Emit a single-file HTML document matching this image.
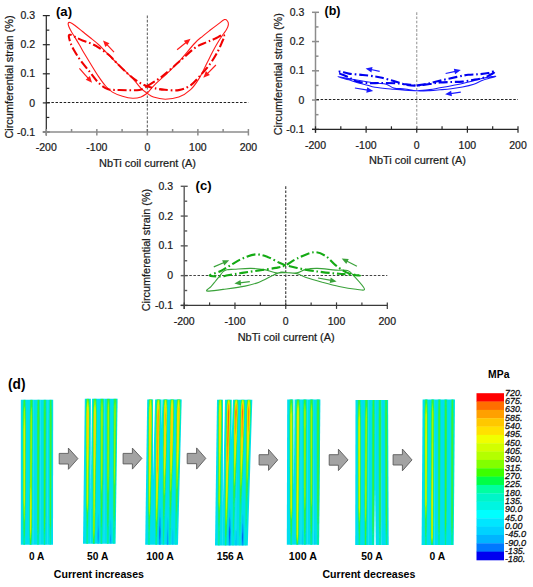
<!DOCTYPE html>
<html><head><meta charset="utf-8"><style>
html,body{margin:0;padding:0;background:#fff;width:533px;height:587px;overflow:hidden}
svg{display:block;font-family:"Liberation Sans", sans-serif}
</style></head><body>
<svg width="533" height="587" viewBox="0 0 533 587">
<defs><filter id="bl" x="-20%" y="-5%" width="140%" height="110%"><feGaussianBlur stdDeviation="0.55"/></filter></defs>
<g filter="url(#bl)">
<polygon fill="#00def0" points="20.8,399.8 53.2,399.8 53,544.8 20.8,544.8"/>
<clipPath id="cp0"><polygon points="20.8,399.8 53.2,399.8 53,544.8 20.8,544.8"/></clipPath>
<g clip-path="url(#cp0)">
<line x1="33.4" y1="399.8" x2="33.2" y2="544.8" stroke="#a0f8ff" stroke-width="0.7" stroke-opacity="0.3"/>
<line x1="40.6" y1="399.8" x2="40.2" y2="544.8" stroke="#a0f8ff" stroke-width="0.7" stroke-opacity="0.3"/>
<line x1="47.8" y1="399.8" x2="47.4" y2="544.8" stroke="#a0f8ff" stroke-width="0.7" stroke-opacity="0.3"/>
<polygon fill="#00ebcd" points="22.7,399.8 22.6,402.8 22.6,405.8 22.5,408.8 22.4,411.8 22.4,414.8 22.4,417.8 22.4,420.8 22.4,423.8 22.4,426.8 22.4,429.8 22.4,432.8 22.4,435.8 22.4,438.8 22.4,441.8 22.4,444.8 22.4,447.8 22.4,450.8 22.4,453.8 22.4,456.8 22.5,459.8 22.5,462.8 22.5,465.8 22.5,468.8 22.5,471.8 22.5,474.8 22.5,477.8 22.5,480.8 22.5,483.8 22.5,486.8 22.5,489.8 22.6,492.8 22.6,495.8 22.6,498.8 22.6,501.8 22.6,504.8 22.7,507.8 22.7,510.8 22.7,513.8 22.8,516.8 22.8,519.8 22.8,522.8 22.9,525.8 22.9,528.8 23,531.8 23,534.8 23,537.8 23.1,540.8 23.2,543.8 23.2,544.8 25.2,544.8 25.3,543.8 25.3,540.8 25.4,537.8 25.4,534.8 25.5,531.8 25.5,528.8 25.6,525.8 25.6,522.8 25.7,519.8 25.7,516.8 25.7,513.8 25.8,510.8 25.8,507.8 25.9,504.8 25.9,501.8 26,498.8 26,495.8 26,492.8 26,489.8 26,486.8 26,483.8 26.1,480.8 26.1,477.8 26.1,474.8 26.1,471.8 26.1,468.8 26.1,465.8 26.2,462.8 26.2,459.8 26.2,456.8 26.2,453.8 26.2,450.8 26.3,447.8 26.3,444.8 26.3,441.8 26.3,438.8 26.3,435.8 26.3,432.8 26.4,429.8 26.4,426.8 26.4,423.8 26.4,420.8 26.3,417.8 26.3,414.8 26.3,411.8 26.3,408.8 26.2,405.8 26.2,402.8 26.1,399.8"/>
<polygon fill="#0af08c" points="23.3,399.8 23.2,402.8 23.1,405.8 23,408.8 22.9,411.8 22.9,414.8 22.8,417.8 22.8,420.8 22.8,423.8 22.8,426.8 22.8,429.8 22.8,432.8 22.8,435.8 22.8,438.8 22.8,441.8 22.8,444.8 22.8,447.8 22.8,450.8 22.8,453.8 22.8,456.8 22.8,459.8 22.8,462.8 22.8,465.8 22.9,468.8 22.9,471.8 22.9,474.8 22.9,477.8 22.9,480.8 22.9,483.8 22.9,486.8 22.9,489.8 22.9,492.8 22.9,495.8 22.9,498.8 22.9,501.8 23,504.8 23,507.8 23.1,510.8 23.1,513.8 23.1,516.8 23.2,519.8 23.2,522.8 23.3,525.8 23.3,528.8 23.4,531.8 23.4,534.8 23.5,537.8 23.6,540.8 23.7,543.8 23.7,544.8 24.7,544.8 24.7,543.8 24.8,540.8 24.9,537.8 25,534.8 25.1,531.8 25.1,528.8 25.2,525.8 25.2,522.8 25.3,519.8 25.3,516.8 25.4,513.8 25.4,510.8 25.5,507.8 25.5,504.8 25.6,501.8 25.6,498.8 25.6,495.8 25.6,492.8 25.7,489.8 25.7,486.8 25.7,483.8 25.7,480.8 25.7,477.8 25.7,474.8 25.7,471.8 25.8,468.8 25.8,465.8 25.8,462.8 25.8,459.8 25.8,456.8 25.8,453.8 25.9,450.8 25.9,447.8 25.9,444.8 25.9,441.8 25.9,438.8 25.9,435.8 25.9,432.8 26,429.8 25.9,426.8 25.9,423.8 25.9,420.8 25.9,417.8 25.9,414.8 25.9,411.8 25.8,408.8 25.7,405.8 25.6,402.8 25.5,399.8"/>
<polygon fill="#3cf032" points="24,399.8 23.7,402.8 23.5,405.8 23.4,408.8 23.3,411.8 23.2,414.8 23.2,417.8 23.2,420.8 23.1,423.8 23.1,426.8 23.1,429.8 23.1,432.8 23.1,435.8 23.1,438.8 23.1,441.8 23.1,444.8 23.1,447.8 23.1,450.8 23.1,453.8 23.1,456.8 23.1,459.8 23.1,462.8 23.1,465.8 23.1,468.8 23.1,471.8 23.2,474.8 23.2,477.8 23.2,480.8 23.2,483.8 23.2,486.8 23.2,489.8 23.2,492.8 23.2,495.8 23.2,498.8 23.2,501.8 23.3,504.8 23.3,507.8 23.4,510.8 23.4,513.8 23.5,516.8 23.5,519.8 23.6,522.8 23.6,525.8 23.7,528.8 23.8,531.8 23.9,534.8 24.2,537.8 24.2,537.8 24.5,534.8 24.6,531.8 24.7,528.8 24.8,525.8 24.9,522.8 25,519.8 25,516.8 25.1,513.8 25.1,510.8 25.2,507.8 25.2,504.8 25.3,501.8 25.3,498.8 25.3,495.8 25.4,492.8 25.4,489.8 25.4,486.8 25.4,483.8 25.4,480.8 25.4,477.8 25.4,474.8 25.5,471.8 25.5,468.8 25.5,465.8 25.5,462.8 25.5,459.8 25.5,456.8 25.5,453.8 25.5,450.8 25.6,447.8 25.6,444.8 25.6,441.8 25.6,438.8 25.6,435.8 25.6,432.8 25.6,429.8 25.6,426.8 25.6,423.8 25.6,420.8 25.6,417.8 25.5,414.8 25.5,411.8 25.4,408.8 25.2,405.8 25.1,402.8 24.8,399.8"/>
<polygon fill="#a5f500" points="24.4,405.8 24,408.8 23.8,411.8 23.7,414.8 23.6,417.8 23.6,420.8 23.5,423.8 23.5,426.8 23.4,429.8 23.4,432.8 23.4,435.8 23.4,438.8 23.4,441.8 23.4,444.8 23.4,447.8 23.4,450.8 23.4,453.8 23.4,456.8 23.4,459.8 23.5,462.8 23.5,465.8 23.5,468.8 23.5,471.8 23.5,474.8 23.5,477.8 23.5,480.8 23.5,483.8 23.5,486.8 23.5,489.8 23.5,492.8 23.5,495.8 23.5,498.8 23.5,501.8 23.6,504.8 23.6,507.8 23.7,510.8 23.8,513.8 23.9,516.8 24.1,519.8 24.2,522.8 24.2,522.8 24.4,519.8 24.6,516.8 24.7,513.8 24.8,510.8 24.9,507.8 24.9,504.8 25,501.8 25,498.8 25,495.8 25.1,492.8 25.1,489.8 25.1,486.8 25.1,483.8 25.1,480.8 25.1,477.8 25.1,474.8 25.1,471.8 25.2,468.8 25.2,465.8 25.2,462.8 25.2,459.8 25.2,456.8 25.2,453.8 25.2,450.8 25.2,447.8 25.2,444.8 25.3,441.8 25.3,438.8 25.3,435.8 25.3,432.8 25.3,429.8 25.3,426.8 25.2,423.8 25.2,420.8 25.1,417.8 25.1,414.8 25,411.8 24.8,408.8 24.4,405.8"/>
<polygon fill="#e6f000" points="24.4,417.8 24.1,420.8 24,423.8 23.9,426.8 23.8,429.8 23.8,432.8 23.8,435.8 23.8,438.8 23.8,441.8 23.8,444.8 23.8,447.8 23.8,450.8 23.8,453.8 23.8,456.8 23.8,459.8 23.8,462.8 23.8,465.8 23.8,468.8 23.8,471.8 23.8,474.8 23.8,477.8 23.8,480.8 23.8,483.8 23.8,486.8 23.8,489.8 23.8,492.8 23.8,495.8 23.8,498.8 23.9,501.8 24,504.8 24.3,507.8 24.3,507.8 24.5,504.8 24.6,501.8 24.7,498.8 24.7,495.8 24.7,492.8 24.7,489.8 24.7,486.8 24.7,483.8 24.7,480.8 24.8,477.8 24.8,474.8 24.8,471.8 24.8,468.8 24.8,465.8 24.8,462.8 24.8,459.8 24.8,456.8 24.8,453.8 24.8,450.8 24.9,447.8 24.9,444.8 24.9,441.8 24.9,438.8 24.9,435.8 24.9,432.8 24.9,429.8 24.8,426.8 24.7,423.8 24.6,420.8 24.4,417.8"/>
<polygon fill="#00ebcd" points="29.6,399.8 29.6,402.8 29.5,405.8 29.5,408.8 29.5,411.8 29.4,414.8 29.4,417.8 29.4,420.8 29.4,423.8 29.4,426.8 29.4,429.8 29.4,432.8 29.3,435.8 29.3,438.8 29.3,441.8 29.3,444.8 29.3,447.8 29.3,450.8 29.3,453.8 29.3,456.8 29.3,459.8 29.3,462.8 29.3,465.8 29.3,468.8 29.3,471.8 29.3,474.8 29.3,477.8 29.3,480.8 29.3,483.8 29.2,486.8 29.2,489.8 29.2,492.8 29.2,495.8 29.2,498.8 29.2,501.8 29.1,504.8 29.1,507.8 29.1,510.8 29.1,513.8 29.1,516.8 29.1,519.8 29.1,522.8 29.1,525.8 29.1,528.8 29.2,531.8 29.2,534.8 29.3,537.8 29.3,540.8 29.4,543.8 29.4,544.8 31.8,544.8 31.8,543.8 31.9,540.8 32,537.8 32.1,534.8 32.2,531.8 32.2,528.8 32.3,525.8 32.3,522.8 32.3,519.8 32.4,516.8 32.4,513.8 32.4,510.8 32.5,507.8 32.5,504.8 32.5,501.8 32.5,498.8 32.6,495.8 32.6,492.8 32.6,489.8 32.6,486.8 32.6,483.8 32.6,480.8 32.7,477.8 32.7,474.8 32.7,471.8 32.7,468.8 32.8,465.8 32.8,462.8 32.8,459.8 32.9,456.8 32.9,453.8 32.9,450.8 32.9,447.8 33,444.8 33,441.8 33,438.8 33.1,435.8 33.1,432.8 33.1,429.8 33.1,426.8 33.2,423.8 33.2,420.8 33.2,417.8 33.2,414.8 33.2,411.8 33.2,408.8 33.2,405.8 33.2,402.8 33.2,399.8"/>
<polygon fill="#0af08c" points="30.1,399.8 30.1,402.8 30,405.8 30,408.8 29.9,411.8 29.9,414.8 29.9,417.8 29.8,420.8 29.8,423.8 29.8,426.8 29.8,429.8 29.8,432.8 29.8,435.8 29.8,438.8 29.8,441.8 29.8,444.8 29.7,447.8 29.7,450.8 29.7,453.8 29.7,456.8 29.7,459.8 29.7,462.8 29.7,465.8 29.7,468.8 29.7,471.8 29.7,474.8 29.7,477.8 29.7,480.8 29.6,483.8 29.6,486.8 29.6,489.8 29.6,492.8 29.5,495.8 29.5,498.8 29.5,501.8 29.5,504.8 29.5,507.8 29.5,510.8 29.5,513.8 29.5,516.8 29.5,519.8 29.5,522.8 29.5,525.8 29.5,528.8 29.5,531.8 29.5,534.8 29.6,537.8 29.7,540.8 29.8,543.8 29.8,544.8 31.4,544.8 31.4,543.8 31.6,540.8 31.7,537.8 31.8,534.8 31.8,531.8 31.9,528.8 31.9,525.8 32,522.8 32,519.8 32,516.8 32.1,513.8 32.1,510.8 32.1,507.8 32.2,504.8 32.2,501.8 32.2,498.8 32.2,495.8 32.2,492.8 32.2,489.8 32.2,486.8 32.2,483.8 32.3,480.8 32.3,477.8 32.3,474.8 32.3,471.8 32.3,468.8 32.4,465.8 32.4,462.8 32.4,459.8 32.4,456.8 32.5,453.8 32.5,450.8 32.5,447.8 32.5,444.8 32.6,441.8 32.6,438.8 32.6,435.8 32.6,432.8 32.7,429.8 32.7,426.8 32.7,423.8 32.7,420.8 32.7,417.8 32.7,414.8 32.7,411.8 32.7,408.8 32.7,405.8 32.7,402.8 32.7,399.8"/>
<polygon fill="#3cf032" points="30.6,399.8 30.6,402.8 30.5,405.8 30.4,408.8 30.4,411.8 30.3,414.8 30.2,417.8 30.2,420.8 30.2,423.8 30.2,426.8 30.2,429.8 30.2,432.8 30.1,435.8 30.1,438.8 30.1,441.8 30.1,444.8 30.1,447.8 30.1,450.8 30.1,453.8 30.1,456.8 30.1,459.8 30,462.8 30,465.8 30,468.8 30,471.8 30,474.8 30,477.8 30,480.8 29.9,483.8 29.9,486.8 29.9,489.8 29.9,492.8 29.8,495.8 29.8,498.8 29.8,501.8 29.8,504.8 29.7,507.8 29.7,510.8 29.7,513.8 29.7,516.8 29.7,519.8 29.7,522.8 29.7,525.8 29.7,528.8 29.8,531.8 29.8,534.8 29.9,537.8 30,540.8 30.2,543.8 30.3,544.8 30.9,544.8 31,543.8 31.2,540.8 31.4,537.8 31.5,534.8 31.6,531.8 31.7,528.8 31.7,525.8 31.7,522.8 31.7,519.8 31.8,516.8 31.8,513.8 31.8,510.8 31.9,507.8 31.9,504.8 31.9,501.8 31.9,498.8 31.9,495.8 31.9,492.8 31.9,489.8 31.9,486.8 31.9,483.8 31.9,480.8 31.9,477.8 32,474.8 32,471.8 32,468.8 32,465.8 32.1,462.8 32.1,459.8 32.1,456.8 32.1,453.8 32.2,450.8 32.2,447.8 32.2,444.8 32.2,441.8 32.2,438.8 32.3,435.8 32.3,432.8 32.3,429.8 32.3,426.8 32.3,423.8 32.4,420.8 32.4,417.8 32.3,414.8 32.3,411.8 32.3,408.8 32.2,405.8 32.2,402.8 32.2,399.8"/>
<polygon fill="#a5f500" points="31.4,405.8 31.1,408.8 30.9,411.8 30.8,414.8 30.7,417.8 30.7,420.8 30.6,423.8 30.6,426.8 30.6,429.8 30.6,432.8 30.6,435.8 30.6,438.8 30.5,441.8 30.5,444.8 30.5,447.8 30.5,450.8 30.5,453.8 30.5,456.8 30.5,459.8 30.4,462.8 30.4,465.8 30.4,468.8 30.4,471.8 30.4,474.8 30.4,477.8 30.3,480.8 30.3,483.8 30.3,486.8 30.2,489.8 30.2,492.8 30.1,495.8 30.1,498.8 30.1,501.8 30,504.8 30,507.8 30,510.8 30,513.8 30,516.8 30,519.8 30,522.8 30,525.8 30,528.8 30.1,531.8 30.2,534.8 30.4,537.8 30.6,540.8 30.6,540.8 30.9,537.8 31.1,534.8 31.3,531.8 31.4,528.8 31.4,525.8 31.4,522.8 31.5,519.8 31.5,516.8 31.5,513.8 31.5,510.8 31.6,507.8 31.6,504.8 31.6,501.8 31.6,498.8 31.6,495.8 31.6,492.8 31.6,489.8 31.6,486.8 31.6,483.8 31.6,480.8 31.6,477.8 31.6,474.8 31.6,471.8 31.6,468.8 31.6,465.8 31.7,462.8 31.7,459.8 31.7,456.8 31.7,453.8 31.7,450.8 31.8,447.8 31.8,444.8 31.8,441.8 31.8,438.8 31.8,435.8 31.8,432.8 31.9,429.8 31.9,426.8 31.9,423.8 31.9,420.8 31.9,417.8 31.8,414.8 31.7,411.8 31.6,408.8 31.4,405.8"/>
<polygon fill="#e6f000" points="30.9,486.8 30.7,489.8 30.6,492.8 30.5,495.8 30.5,498.8 30.4,501.8 30.4,504.8 30.4,507.8 30.4,510.8 30.4,513.8 30.3,516.8 30.3,519.8 30.3,522.8 30.3,525.8 30.3,528.8 30.5,531.8 30.7,534.8 30.7,534.8 30.9,531.8 31,528.8 31.1,525.8 31.1,522.8 31.1,519.8 31.2,516.8 31.2,513.8 31.2,510.8 31.3,507.8 31.3,504.8 31.3,501.8 31.2,498.8 31.2,495.8 31.2,492.8 31.1,489.8 30.9,486.8"/>
<polygon fill="#00ebcd" points="36.7,399.8 36.7,402.8 36.7,405.8 36.6,408.8 36.6,411.8 36.6,414.8 36.6,417.8 36.6,420.8 36.6,423.8 36.6,426.8 36.6,429.8 36.6,432.8 36.6,435.8 36.6,438.8 36.6,441.8 36.6,444.8 36.6,447.8 36.6,450.8 36.6,453.8 36.6,456.8 36.6,459.8 36.6,462.8 36.6,465.8 36.6,468.8 36.6,471.8 36.6,474.8 36.6,477.8 36.6,480.8 36.6,483.8 36.6,486.8 36.7,489.8 36.7,492.8 36.7,495.8 36.7,498.8 36.7,501.8 36.7,504.8 36.7,507.8 36.7,510.8 36.7,513.8 36.7,516.8 36.7,519.8 36.7,522.8 36.7,525.8 36.8,528.8 36.8,531.8 36.9,534.8 36.9,537.8 36.9,540.8 37,543.8 37,544.8 39,544.8 39,543.8 39.1,540.8 39.1,537.8 39.2,534.8 39.3,531.8 39.3,528.8 39.4,525.8 39.4,522.8 39.4,519.8 39.5,516.8 39.5,513.8 39.5,510.8 39.5,507.8 39.6,504.8 39.6,501.8 39.6,498.8 39.6,495.8 39.6,492.8 39.7,489.8 39.7,486.8 39.7,483.8 39.7,480.8 39.7,477.8 39.8,474.8 39.8,471.8 39.8,468.8 39.8,465.8 39.8,462.8 39.9,459.8 39.9,456.8 39.9,453.8 39.9,450.8 39.9,447.8 40,444.8 40,441.8 40,438.8 40,435.8 40,432.8 40.1,429.8 40.1,426.8 40.1,423.8 40.1,420.8 40.1,417.8 40.1,414.8 40.1,411.8 40.1,408.8 40.1,405.8 40.1,402.8 40.1,399.8"/>
<polygon fill="#0af08c" points="37.3,399.8 37.3,402.8 37.2,405.8 37.2,408.8 37.1,411.8 37.1,414.8 37.1,417.8 37.1,420.8 37.1,423.8 37.1,426.8 37.1,429.8 37.1,432.8 37.1,435.8 37.1,438.8 37.1,441.8 37.1,444.8 37.1,447.8 37.1,450.8 37.1,453.8 37.1,456.8 37.1,459.8 37.1,462.8 37.1,465.8 37.1,468.8 37.1,471.8 37.1,474.8 37.1,477.8 37.1,480.8 37.1,483.8 37.1,486.8 37.1,489.8 37.1,492.8 37.1,495.8 37.1,498.8 37.1,501.8 37.1,504.8 37.1,507.8 37.1,510.8 37.1,513.8 37.1,516.8 37.1,519.8 37.1,522.8 37.2,525.8 37.2,528.8 37.3,531.8 37.3,534.8 37.4,537.8 37.5,540.8 37.5,543.8 37.6,544.8 38.4,544.8 38.5,543.8 38.6,540.8 38.7,537.8 38.7,534.8 38.8,531.8 38.9,528.8 38.9,525.8 39,522.8 39.1,519.8 39.1,516.8 39.1,513.8 39.1,510.8 39.1,507.8 39.1,504.8 39.2,501.8 39.2,498.8 39.2,495.8 39.2,492.8 39.2,489.8 39.2,486.8 39.3,483.8 39.3,480.8 39.3,477.8 39.3,474.8 39.3,471.8 39.3,468.8 39.4,465.8 39.4,462.8 39.4,459.8 39.4,456.8 39.4,453.8 39.5,450.8 39.5,447.8 39.5,444.8 39.5,441.8 39.5,438.8 39.5,435.8 39.6,432.8 39.6,429.8 39.6,426.8 39.6,423.8 39.6,420.8 39.6,417.8 39.6,414.8 39.6,411.8 39.6,408.8 39.5,405.8 39.5,402.8 39.5,399.8"/>
<polygon fill="#3cf032" points="38,399.8 37.9,402.8 37.8,405.8 37.7,408.8 37.7,411.8 37.6,414.8 37.5,417.8 37.5,420.8 37.5,423.8 37.5,426.8 37.5,429.8 37.5,432.8 37.5,435.8 37.5,438.8 37.5,441.8 37.5,444.8 37.5,447.8 37.5,450.8 37.5,453.8 37.5,456.8 37.5,459.8 37.5,462.8 37.5,465.8 37.5,468.8 37.5,471.8 37.5,474.8 37.5,477.8 37.5,480.8 37.5,483.8 37.5,486.8 37.5,489.8 37.5,492.8 37.5,495.8 37.5,498.8 37.5,501.8 37.5,504.8 37.5,507.8 37.5,510.8 37.5,513.8 37.5,516.8 37.5,519.8 37.5,522.8 37.6,525.8 37.7,528.8 37.8,531.8 38,534.8 38,534.8 38.3,531.8 38.4,528.8 38.5,525.8 38.6,522.8 38.7,519.8 38.7,516.8 38.7,513.8 38.7,510.8 38.7,507.8 38.8,504.8 38.8,501.8 38.8,498.8 38.8,495.8 38.8,492.8 38.8,489.8 38.8,486.8 38.9,483.8 38.9,480.8 38.9,477.8 38.9,474.8 38.9,471.8 38.9,468.8 39,465.8 39,462.8 39,459.8 39,456.8 39,453.8 39,450.8 39,447.8 39.1,444.8 39.1,441.8 39.1,438.8 39.1,435.8 39.1,432.8 39.1,429.8 39.1,426.8 39.2,423.8 39.2,420.8 39.2,417.8 39.1,414.8 39.1,411.8 39,408.8 38.9,405.8 38.9,402.8 38.8,399.8"/>
<polygon fill="#00ebcd" points="43.2,399.8 43.2,402.8 43.2,405.8 43.1,408.8 43.1,411.8 43.1,414.8 43.1,417.8 43.1,420.8 43.1,423.8 43.1,426.8 43.1,429.8 43.1,432.8 43.1,435.8 43.1,438.8 43.1,441.8 43.1,444.8 43.1,447.8 43.1,450.8 43.1,453.8 43.1,456.8 43.1,459.8 43.1,462.8 43.1,465.8 43.1,468.8 43.1,471.8 43.1,474.8 43.1,477.8 43.2,480.8 43.2,483.8 43.2,486.8 43.2,489.8 43.2,492.8 43.2,495.8 43.2,498.8 43.2,501.8 43.2,504.8 43.2,507.8 43.2,510.8 43.2,513.8 43.2,516.8 43.2,519.8 43.2,522.8 43.3,525.8 43.3,528.8 43.3,531.8 43.4,534.8 43.4,537.8 43.4,540.8 43.5,543.8 43.5,544.8 45.5,544.8 45.5,543.8 45.6,540.8 45.6,537.8 45.7,534.8 45.7,531.8 45.8,528.8 45.8,525.8 45.9,522.8 45.9,519.8 45.9,516.8 46,513.8 46,510.8 46,507.8 46,504.8 46.1,501.8 46.1,498.8 46.1,495.8 46.1,492.8 46.1,489.8 46.2,486.8 46.2,483.8 46.2,480.8 46.2,477.8 46.2,474.8 46.3,471.8 46.3,468.8 46.3,465.8 46.3,462.8 46.3,459.8 46.4,456.8 46.4,453.8 46.4,450.8 46.4,447.8 46.5,444.8 46.5,441.8 46.5,438.8 46.5,435.8 46.5,432.8 46.6,429.8 46.6,426.8 46.6,423.8 46.6,420.8 46.6,417.8 46.6,414.8 46.6,411.8 46.6,408.8 46.6,405.8 46.6,402.8 46.6,399.8"/>
<polygon fill="#0af08c" points="43.8,399.8 43.8,402.8 43.7,405.8 43.7,408.8 43.6,411.8 43.6,414.8 43.6,417.8 43.6,420.8 43.6,423.8 43.6,426.8 43.6,429.8 43.6,432.8 43.6,435.8 43.6,438.8 43.6,441.8 43.6,444.8 43.6,447.8 43.6,450.8 43.6,453.8 43.6,456.8 43.6,459.8 43.6,462.8 43.6,465.8 43.6,468.8 43.6,471.8 43.6,474.8 43.6,477.8 43.6,480.8 43.6,483.8 43.6,486.8 43.6,489.8 43.6,492.8 43.6,495.8 43.6,498.8 43.6,501.8 43.6,504.8 43.6,507.8 43.6,510.8 43.6,513.8 43.6,516.8 43.6,519.8 43.6,522.8 43.7,525.8 43.7,528.8 43.8,531.8 43.8,534.8 43.9,537.8 44,540.8 44.1,543.8 44.1,544.8 44.9,544.8 45,543.8 45.1,540.8 45.1,537.8 45.2,534.8 45.3,531.8 45.4,528.8 45.4,525.8 45.5,522.8 45.5,519.8 45.5,516.8 45.6,513.8 45.6,510.8 45.6,507.8 45.6,504.8 45.6,501.8 45.6,498.8 45.7,495.8 45.7,492.8 45.7,489.8 45.7,486.8 45.7,483.8 45.8,480.8 45.8,477.8 45.8,474.8 45.8,471.8 45.8,468.8 45.9,465.8 45.9,462.8 45.9,459.8 45.9,456.8 45.9,453.8 45.9,450.8 46,447.8 46,444.8 46,441.8 46,438.8 46,435.8 46.1,432.8 46.1,429.8 46.1,426.8 46.1,423.8 46.1,420.8 46.1,417.8 46.1,414.8 46.1,411.8 46.1,408.8 46,405.8 46,402.8 46,399.8"/>
<polygon fill="#3cf032" points="44.5,399.8 44.4,402.8 44.3,405.8 44.2,408.8 44.2,411.8 44.1,414.8 44,417.8 44,420.8 44,423.8 44,426.8 44,429.8 44,432.8 44,435.8 44,438.8 44,441.8 44,444.8 44,447.8 44,450.8 44,453.8 44,456.8 44,459.8 44,462.8 44,465.8 44,468.8 44,471.8 44,474.8 44,477.8 44,480.8 44,483.8 44,486.8 44,489.8 44,492.8 44,495.8 44,498.8 44,501.8 44,504.8 44,507.8 44,510.8 44,513.8 44,516.8 44,519.8 44.1,522.8 44.1,525.8 44.2,528.8 44.4,531.8 44.5,534.8 44.5,534.8 44.7,531.8 44.9,528.8 45,525.8 45.1,522.8 45.1,519.8 45.2,516.8 45.2,513.8 45.2,510.8 45.2,507.8 45.2,504.8 45.2,501.8 45.2,498.8 45.3,495.8 45.3,492.8 45.3,489.8 45.3,486.8 45.3,483.8 45.3,480.8 45.4,477.8 45.4,474.8 45.4,471.8 45.4,468.8 45.4,465.8 45.4,462.8 45.5,459.8 45.5,456.8 45.5,453.8 45.5,450.8 45.5,447.8 45.5,444.8 45.6,441.8 45.6,438.8 45.6,435.8 45.6,432.8 45.6,429.8 45.6,426.8 45.7,423.8 45.7,420.8 45.7,417.8 45.6,414.8 45.6,411.8 45.5,408.8 45.4,405.8 45.4,402.8 45.3,399.8"/>
<polygon fill="#00ebcd" points="49,399.8 49,402.8 49,405.8 49,408.8 48.9,411.8 48.9,414.8 48.9,417.8 48.9,420.8 48.9,423.8 48.9,426.8 48.9,429.8 48.9,432.8 48.9,435.8 48.9,438.8 48.9,441.8 48.9,444.8 48.9,447.8 48.9,450.8 48.9,453.8 48.9,456.8 48.9,459.8 49,462.8 49,465.8 49,468.8 49,471.8 49,474.8 49,477.8 49,480.8 49,483.8 49,486.8 49,489.8 49,492.8 49,495.8 49,498.8 49,501.8 49,504.8 49,507.8 49,510.8 49,513.8 49,516.8 49,519.8 49.1,522.8 49.1,525.8 49.1,528.8 49.2,531.8 49.2,534.8 49.3,537.8 49.3,540.8 49.4,543.8 49.4,544.8 51.2,544.8 51.2,543.8 51.3,540.8 51.4,537.8 51.4,534.8 51.5,531.8 51.6,528.8 51.6,525.8 51.7,522.8 51.7,519.8 51.7,516.8 51.7,513.8 51.8,510.8 51.8,507.8 51.8,504.8 51.8,501.8 51.9,498.8 51.9,495.8 51.9,492.8 51.9,489.8 51.9,486.8 52,483.8 52,480.8 52,477.8 52,474.8 52,471.8 52.1,468.8 52.1,465.8 52.1,462.8 52.1,459.8 52.1,456.8 52.2,453.8 52.2,450.8 52.2,447.8 52.2,444.8 52.2,441.8 52.3,438.8 52.3,435.8 52.3,432.8 52.3,429.8 52.4,426.8 52.4,423.8 52.4,420.8 52.4,417.8 52.4,414.8 52.4,411.8 52.4,408.8 52.4,405.8 52.4,402.8 52.4,399.8"/>
<polygon fill="#0af08c" points="49.6,399.8 49.6,402.8 49.5,405.8 49.5,408.8 49.5,411.8 49.4,414.8 49.4,417.8 49.4,420.8 49.4,423.8 49.4,426.8 49.4,429.8 49.4,432.8 49.4,435.8 49.4,438.8 49.4,441.8 49.4,444.8 49.4,447.8 49.4,450.8 49.4,453.8 49.4,456.8 49.4,459.8 49.4,462.8 49.4,465.8 49.4,468.8 49.4,471.8 49.4,474.8 49.4,477.8 49.4,480.8 49.4,483.8 49.4,486.8 49.4,489.8 49.4,492.8 49.4,495.8 49.4,498.8 49.4,501.8 49.4,504.8 49.4,507.8 49.4,510.8 49.4,513.8 49.4,516.8 49.4,519.8 49.5,522.8 49.5,525.8 49.6,528.8 49.6,531.8 49.7,534.8 49.8,537.8 49.9,540.8 50.1,543.8 50.2,544.8 50.4,544.8 50.5,543.8 50.7,540.8 50.8,537.8 50.9,534.8 51,531.8 51.1,528.8 51.2,525.8 51.2,522.8 51.3,519.8 51.3,516.8 51.3,513.8 51.3,510.8 51.4,507.8 51.4,504.8 51.4,501.8 51.4,498.8 51.4,495.8 51.5,492.8 51.5,489.8 51.5,486.8 51.5,483.8 51.5,480.8 51.5,477.8 51.6,474.8 51.6,471.8 51.6,468.8 51.6,465.8 51.6,462.8 51.7,459.8 51.7,456.8 51.7,453.8 51.7,450.8 51.7,447.8 51.7,444.8 51.8,441.8 51.8,438.8 51.8,435.8 51.8,432.8 51.8,429.8 51.9,426.8 51.9,423.8 51.9,420.8 51.9,417.8 51.9,414.8 51.9,411.8 51.8,408.8 51.8,405.8 51.8,402.8 51.8,399.8"/>
<polygon fill="#3cf032" points="50.3,399.8 50.2,402.8 50.2,405.8 50.1,408.8 50,411.8 49.9,414.8 49.9,417.8 49.9,420.8 49.9,423.8 49.9,426.8 49.9,429.8 49.9,432.8 49.9,435.8 49.9,438.8 49.9,441.8 49.9,444.8 49.9,447.8 49.9,450.8 49.9,453.8 49.9,456.8 49.9,459.8 49.9,462.8 49.9,465.8 49.9,468.8 49.9,471.8 49.9,474.8 49.9,477.8 49.9,480.8 49.9,483.8 49.9,486.8 49.9,489.8 49.9,492.8 49.9,495.8 49.9,498.8 49.9,501.8 49.9,504.8 49.9,507.8 49.9,510.8 49.9,513.8 49.9,516.8 49.9,519.8 49.9,522.8 50,525.8 50.3,528.8 50.3,531.8 50.3,531.8 50.4,528.8 50.7,525.8 50.8,522.8 50.9,519.8 50.9,516.8 50.9,513.8 50.9,510.8 50.9,507.8 51,504.8 51,501.8 51,498.8 51,495.8 51,492.8 51,489.8 51.1,486.8 51.1,483.8 51.1,480.8 51.1,477.8 51.1,474.8 51.1,471.8 51.2,468.8 51.2,465.8 51.2,462.8 51.2,459.8 51.2,456.8 51.2,453.8 51.3,450.8 51.3,447.8 51.3,444.8 51.3,441.8 51.3,438.8 51.3,435.8 51.4,432.8 51.4,429.8 51.4,426.8 51.4,423.8 51.4,420.8 51.4,417.8 51.4,414.8 51.3,411.8 51.3,408.8 51.2,405.8 51.1,402.8 51.1,399.8"/>
</g>
</g>
<g filter="url(#bl)">
<polygon fill="#00def0" points="84.8,398.7 117.6,398.7 115.6,543.8 83,543.8"/>
<clipPath id="cp1"><polygon points="84.8,398.7 117.6,398.7 115.6,543.8 83,543.8"/></clipPath>
<g clip-path="url(#cp1)">
<line x1="104.5" y1="398.7" x2="104" y2="543.8" stroke="#a0f8ff" stroke-width="0.7" stroke-opacity="0.3"/>
<line x1="91.4" y1="398.7" x2="90.5" y2="543.8" stroke="#a0f8ff" stroke-width="0.7" stroke-opacity="0.3"/>
<polygon fill="#00c8f5" points="98.3,512.7 98,515.7 97.7,518.7 97.5,521.7 97.4,524.7 97.3,527.7 97.3,530.7 97.2,533.7 97.2,536.7 97.2,539.7 97.3,542.7 97.3,543.8 99.1,543.8 99.1,542.7 99.2,539.7 99.3,536.7 99.3,533.7 99.3,530.7 99.2,527.7 99.1,524.7 99.1,521.7 98.9,518.7 98.6,515.7 98.3,512.7"/>
<polygon fill="#0096fa" points="98.3,524.7 98.1,527.7 97.9,530.7 97.7,533.7 97.7,536.7 97.8,539.7 98.2,542.7 98.2,542.7 98.6,539.7 98.8,536.7 98.7,533.7 98.6,530.7 98.4,527.7 98.3,524.7"/>
<polygon fill="#00c8f5" points="110.7,518.7 110.4,521.7 110.1,524.7 109.9,527.7 109.8,530.7 109.7,533.7 109.7,536.7 109.6,539.7 109.7,542.7 109.7,543.8 111.5,543.8 111.5,542.7 111.6,539.7 111.6,536.7 111.6,533.7 111.5,530.7 111.4,527.7 111.3,524.7 111.1,521.7 110.7,518.7"/>
<polygon fill="#0096fa" points="110.6,533.7 110.3,536.7 110.2,539.7 110.5,542.7 110.6,543.8 110.6,543.8 110.8,542.7 111.1,539.7 110.9,536.7 110.6,533.7"/>
<polygon fill="#00ebcd" points="85.8,398.7 85.7,401.7 85.6,404.7 85.5,407.7 85.4,410.7 85.4,413.7 85.4,416.7 85.4,419.7 85.4,422.7 85.4,425.7 85.4,428.7 85.4,431.7 85.4,434.7 85.4,437.7 85.4,440.7 85.4,443.7 85.4,446.7 85.5,449.7 85.5,452.7 85.5,455.7 85.5,458.7 85.5,461.7 85.5,464.7 85.5,467.7 85.6,470.7 85.6,473.7 85.6,476.7 85.6,479.7 85.6,482.7 85.6,485.7 85.6,488.7 85.6,491.7 85.6,494.7 85.6,497.7 85.6,500.7 85.6,503.7 85.7,506.7 85.7,509.7 85.8,512.7 85.9,515.7 85.9,518.7 85.9,521.7 85.9,524.7 86,527.7 86,530.7 86,533.7 86,536.7 86.1,539.7 86.1,542.7 86.1,543.8 88.3,543.8 88.3,542.7 88.4,539.7 88.4,536.7 88.5,533.7 88.5,530.7 88.6,527.7 88.6,524.7 88.7,521.7 88.7,518.7 88.7,515.7 88.8,512.7 88.9,509.7 89,506.7 89.1,503.7 89.2,500.7 89.2,497.7 89.2,494.7 89.2,491.7 89.3,488.7 89.3,485.7 89.3,482.7 89.4,479.7 89.4,476.7 89.4,473.7 89.4,470.7 89.5,467.7 89.5,464.7 89.6,461.7 89.6,458.7 89.6,455.7 89.7,452.7 89.7,449.7 89.8,446.7 89.8,443.7 89.8,440.7 89.9,437.7 89.9,434.7 89.9,431.7 90,428.7 90,425.7 90,422.7 90.1,419.7 90.1,416.7 90.1,413.7 90.1,410.7 90.1,407.7 90,404.7 89.9,401.7 89.8,398.7"/>
<polygon fill="#0af08c" points="86.3,398.7 86.2,401.7 86,404.7 85.9,407.7 85.9,410.7 85.8,413.7 85.8,416.7 85.8,419.7 85.8,422.7 85.8,425.7 85.8,428.7 85.8,431.7 85.8,434.7 85.8,437.7 85.8,440.7 85.8,443.7 85.8,446.7 85.9,449.7 85.9,452.7 85.9,455.7 85.9,458.7 85.9,461.7 85.9,464.7 86,467.7 86,470.7 86,473.7 86,476.7 86,479.7 86,482.7 86,485.7 86,488.7 86,491.7 86,494.7 86,497.7 86,500.7 86,503.7 86.1,506.7 86.2,509.7 86.3,512.7 86.4,515.7 86.4,518.7 86.4,521.7 86.4,524.7 86.5,527.7 86.5,530.7 86.5,533.7 86.6,536.7 86.6,539.7 86.6,542.7 86.7,543.8 87.7,543.8 87.8,542.7 87.8,539.7 87.9,536.7 88,533.7 88,530.7 88.1,527.7 88.1,524.7 88.2,521.7 88.2,518.7 88.3,515.7 88.4,512.7 88.5,509.7 88.6,506.7 88.7,503.7 88.8,500.7 88.8,497.7 88.8,494.7 88.9,491.7 88.9,488.7 88.9,485.7 88.9,482.7 89,479.7 89,476.7 89,473.7 89,470.7 89.1,467.7 89.1,464.7 89.2,461.7 89.2,458.7 89.2,455.7 89.3,452.7 89.3,449.7 89.4,446.7 89.4,443.7 89.4,440.7 89.5,437.7 89.5,434.7 89.5,431.7 89.6,428.7 89.6,425.7 89.6,422.7 89.6,419.7 89.7,416.7 89.7,413.7 89.6,410.7 89.6,407.7 89.5,404.7 89.4,401.7 89.3,398.7"/>
<polygon fill="#3cf032" points="86.9,398.7 86.6,401.7 86.4,404.7 86.3,407.7 86.2,410.7 86.1,413.7 86.1,416.7 86.1,419.7 86.1,422.7 86.1,425.7 86.1,428.7 86.1,431.7 86.1,434.7 86.1,437.7 86.1,440.7 86.1,443.7 86.1,446.7 86.2,449.7 86.2,452.7 86.2,455.7 86.2,458.7 86.2,461.7 86.3,464.7 86.3,467.7 86.3,470.7 86.3,473.7 86.3,476.7 86.3,479.7 86.3,482.7 86.3,485.7 86.3,488.7 86.3,491.7 86.3,494.7 86.3,497.7 86.3,500.7 86.3,503.7 86.4,506.7 86.5,509.7 86.7,512.7 86.8,515.7 86.9,518.7 87,521.7 87.1,524.7 87.3,527.7 87.3,527.7 87.5,524.7 87.6,521.7 87.7,518.7 87.8,515.7 88,512.7 88.2,509.7 88.3,506.7 88.4,503.7 88.5,500.7 88.5,497.7 88.5,494.7 88.5,491.7 88.6,488.7 88.6,485.7 88.6,482.7 88.6,479.7 88.7,476.7 88.7,473.7 88.7,470.7 88.8,467.7 88.8,464.7 88.8,461.7 88.9,458.7 88.9,455.7 89,452.7 89,449.7 89.1,446.7 89.1,443.7 89.1,440.7 89.2,437.7 89.2,434.7 89.2,431.7 89.2,428.7 89.3,425.7 89.3,422.7 89.3,419.7 89.4,416.7 89.4,413.7 89.3,410.7 89.3,407.7 89.1,404.7 89,401.7 88.7,398.7"/>
<polygon fill="#a5f500" points="87.8,398.7 87.2,401.7 86.9,404.7 86.6,407.7 86.5,410.7 86.4,413.7 86.4,416.7 86.4,419.7 86.4,422.7 86.4,425.7 86.4,428.7 86.4,431.7 86.4,434.7 86.4,437.7 86.4,440.7 86.4,443.7 86.5,446.7 86.5,449.7 86.5,452.7 86.5,455.7 86.5,458.7 86.6,461.7 86.6,464.7 86.6,467.7 86.6,470.7 86.6,473.7 86.6,476.7 86.6,479.7 86.6,482.7 86.6,485.7 86.6,488.7 86.6,491.7 86.6,494.7 86.6,497.7 86.6,500.7 86.7,503.7 86.8,506.7 87.1,509.7 87.3,512.7 87.3,512.7 87.6,509.7 87.9,506.7 88.1,503.7 88.1,500.7 88.1,497.7 88.2,494.7 88.2,491.7 88.2,488.7 88.2,485.7 88.3,482.7 88.3,479.7 88.3,476.7 88.3,473.7 88.4,470.7 88.4,467.7 88.5,464.7 88.5,461.7 88.6,458.7 88.6,455.7 88.7,452.7 88.7,449.7 88.7,446.7 88.8,443.7 88.8,440.7 88.9,437.7 88.9,434.7 88.9,431.7 88.9,428.7 89,425.7 89,422.7 89,419.7 89,416.7 89,413.7 89,410.7 88.9,407.7 88.7,404.7 88.4,401.7 87.8,398.7"/>
<polygon fill="#e6f000" points="87.8,401.7 87.5,404.7 87.1,407.7 86.9,410.7 86.8,413.7 86.7,416.7 86.7,419.7 86.7,422.7 86.7,425.7 86.7,428.7 86.7,431.7 86.7,434.7 86.7,437.7 86.7,440.7 86.8,443.7 86.8,446.7 86.8,449.7 86.8,452.7 86.9,455.7 86.9,458.7 86.9,461.7 87,464.7 87,467.7 87.1,470.7 87.1,473.7 87.1,476.7 87.1,479.7 87.1,482.7 87.1,485.7 87.1,488.7 87.1,491.7 87.1,494.7 87.1,497.7 87.1,500.7 87.3,503.7 87.4,506.7 87.4,506.7 87.5,503.7 87.6,500.7 87.7,497.7 87.7,494.7 87.7,491.7 87.8,488.7 87.8,485.7 87.8,482.7 87.8,479.7 87.9,476.7 87.9,473.7 87.9,470.7 88,467.7 88.1,464.7 88.1,461.7 88.2,458.7 88.3,455.7 88.3,452.7 88.4,449.7 88.4,446.7 88.5,443.7 88.5,440.7 88.6,437.7 88.6,434.7 88.6,431.7 88.6,428.7 88.7,425.7 88.7,422.7 88.7,419.7 88.7,416.7 88.7,413.7 88.6,410.7 88.5,407.7 88.1,404.7 87.8,401.7"/>
<polygon fill="#ffcd00" points="87.8,407.7 87.4,410.7 87.1,413.7 87.1,416.7 87.1,419.7 87.1,422.7 87.1,425.7 87.1,428.7 87.1,431.7 87.1,434.7 87.1,437.7 87.1,440.7 87.2,443.7 87.2,446.7 87.3,449.7 87.4,452.7 87.6,455.7 87.6,455.7 87.8,452.7 87.9,449.7 88,446.7 88.1,443.7 88.1,440.7 88.2,437.7 88.2,434.7 88.2,431.7 88.3,428.7 88.3,425.7 88.3,422.7 88.4,419.7 88.4,416.7 88.3,413.7 88.1,410.7 87.8,407.7"/>
<polygon fill="#00ebcd" points="93,398.7 92.9,401.7 92.8,404.7 92.7,407.7 92.6,410.7 92.6,413.7 92.5,416.7 92.5,419.7 92.5,422.7 92.5,425.7 92.5,428.7 92.5,431.7 92.5,434.7 92.5,437.7 92.5,440.7 92.4,443.7 92.4,446.7 92.4,449.7 92.4,452.7 92.4,455.7 92.4,458.7 92.4,461.7 92.4,464.7 92.4,467.7 92.4,470.7 92.4,473.7 92.4,476.7 92.4,479.7 92.4,482.7 92.4,485.7 92.4,488.7 92.4,491.7 92.4,494.7 92.4,497.7 92.4,500.7 92.4,503.7 92.4,506.7 92.4,509.7 92.3,512.7 92.3,515.7 92.3,518.7 92.3,521.7 92.3,524.7 92.3,527.7 92.3,530.7 92.4,533.7 92.4,536.7 92.4,539.7 92.5,542.7 92.5,543.8 95.1,543.8 95.1,542.7 95.2,539.7 95.3,536.7 95.4,533.7 95.5,530.7 95.6,527.7 95.6,524.7 95.6,521.7 95.7,518.7 95.7,515.7 95.8,512.7 95.8,509.7 95.8,506.7 95.9,503.7 95.9,500.7 96,497.7 96,494.7 96.1,491.7 96.1,488.7 96.1,485.7 96.2,482.7 96.2,479.7 96.3,476.7 96.3,473.7 96.4,470.7 96.4,467.7 96.5,464.7 96.5,461.7 96.6,458.7 96.6,455.7 96.7,452.7 96.7,449.7 96.8,446.7 96.8,443.7 96.9,440.7 96.9,437.7 96.9,434.7 97,431.7 97,428.7 97.1,425.7 97.1,422.7 97.2,419.7 97.2,416.7 97.2,413.7 97.2,410.7 97.2,407.7 97.1,404.7 97.1,401.7 97,398.7"/>
<polygon fill="#0af08c" points="93.5,398.7 93.4,401.7 93.3,404.7 93.1,407.7 93.1,410.7 93,413.7 93,416.7 92.9,419.7 92.9,422.7 92.9,425.7 92.9,428.7 92.9,431.7 92.9,434.7 92.9,437.7 92.9,440.7 92.9,443.7 92.8,446.7 92.8,449.7 92.8,452.7 92.8,455.7 92.8,458.7 92.8,461.7 92.8,464.7 92.8,467.7 92.8,470.7 92.8,473.7 92.8,476.7 92.8,479.7 92.8,482.7 92.8,485.7 92.8,488.7 92.8,491.7 92.8,494.7 92.8,497.7 92.8,500.7 92.8,503.7 92.7,506.7 92.7,509.7 92.7,512.7 92.7,515.7 92.7,518.7 92.7,521.7 92.7,524.7 92.7,527.7 92.7,530.7 92.7,533.7 92.8,536.7 92.9,539.7 92.9,542.7 93,543.8 94.6,543.8 94.7,542.7 94.8,539.7 94.9,536.7 95,533.7 95.1,530.7 95.2,527.7 95.2,524.7 95.3,521.7 95.3,518.7 95.4,515.7 95.4,512.7 95.4,509.7 95.5,506.7 95.5,503.7 95.6,500.7 95.6,497.7 95.6,494.7 95.7,491.7 95.7,488.7 95.8,485.7 95.8,482.7 95.8,479.7 95.9,476.7 95.9,473.7 96,470.7 96,467.7 96.1,464.7 96.1,461.7 96.2,458.7 96.2,455.7 96.3,452.7 96.3,449.7 96.4,446.7 96.4,443.7 96.4,440.7 96.5,437.7 96.5,434.7 96.6,431.7 96.6,428.7 96.7,425.7 96.7,422.7 96.7,419.7 96.7,416.7 96.7,413.7 96.8,410.7 96.7,407.7 96.6,404.7 96.6,401.7 96.5,398.7"/>
<polygon fill="#3cf032" points="94.1,398.7 93.8,401.7 93.7,404.7 93.5,407.7 93.4,410.7 93.3,413.7 93.3,416.7 93.2,419.7 93.2,422.7 93.2,425.7 93.2,428.7 93.2,431.7 93.2,434.7 93.2,437.7 93.2,440.7 93.2,443.7 93.2,446.7 93.1,449.7 93.1,452.7 93.1,455.7 93.1,458.7 93.1,461.7 93.1,464.7 93.1,467.7 93.1,470.7 93.1,473.7 93.1,476.7 93.1,479.7 93.1,482.7 93.1,485.7 93.1,488.7 93.1,491.7 93.1,494.7 93.1,497.7 93.1,500.7 93.1,503.7 93,506.7 93,509.7 93,512.7 93,515.7 93,518.7 93,521.7 93,524.7 93,527.7 93,530.7 93,533.7 93.1,536.7 93.2,539.7 93.4,542.7 93.5,543.8 94.1,543.8 94.2,542.7 94.4,539.7 94.6,536.7 94.7,533.7 94.8,530.7 94.9,527.7 94.9,524.7 95,521.7 95,518.7 95,515.7 95.1,512.7 95.1,509.7 95.2,506.7 95.2,503.7 95.2,500.7 95.3,497.7 95.3,494.7 95.4,491.7 95.4,488.7 95.4,485.7 95.5,482.7 95.5,479.7 95.6,476.7 95.6,473.7 95.7,470.7 95.7,467.7 95.8,464.7 95.8,461.7 95.9,458.7 95.9,455.7 96,452.7 96,449.7 96,446.7 96.1,443.7 96.1,440.7 96.2,437.7 96.2,434.7 96.3,431.7 96.3,428.7 96.3,425.7 96.4,422.7 96.4,419.7 96.4,416.7 96.4,413.7 96.4,410.7 96.3,407.7 96.2,404.7 96.1,401.7 95.9,398.7"/>
<polygon fill="#a5f500" points="95,398.7 94.4,401.7 94.1,404.7 93.9,407.7 93.8,410.7 93.7,413.7 93.6,416.7 93.6,419.7 93.6,422.7 93.5,425.7 93.5,428.7 93.5,431.7 93.5,434.7 93.5,437.7 93.5,440.7 93.5,443.7 93.5,446.7 93.5,449.7 93.5,452.7 93.5,455.7 93.5,458.7 93.5,461.7 93.5,464.7 93.5,467.7 93.5,470.7 93.5,473.7 93.5,476.7 93.5,479.7 93.5,482.7 93.5,485.7 93.5,488.7 93.4,491.7 93.4,494.7 93.4,497.7 93.4,500.7 93.4,503.7 93.4,506.7 93.4,509.7 93.4,512.7 93.4,515.7 93.3,518.7 93.3,521.7 93.3,524.7 93.3,527.7 93.3,530.7 93.5,533.7 93.7,536.7 93.8,539.7 93.8,539.7 94,536.7 94.3,533.7 94.5,530.7 94.5,527.7 94.6,524.7 94.6,521.7 94.7,518.7 94.7,515.7 94.7,512.7 94.8,509.7 94.8,506.7 94.9,503.7 94.9,500.7 94.9,497.7 95,494.7 95,491.7 95.1,488.7 95.1,485.7 95.1,482.7 95.2,479.7 95.2,476.7 95.3,473.7 95.3,470.7 95.4,467.7 95.4,464.7 95.5,461.7 95.5,458.7 95.6,455.7 95.6,452.7 95.7,449.7 95.7,446.7 95.8,443.7 95.8,440.7 95.9,437.7 95.9,434.7 95.9,431.7 96,428.7 96,425.7 96.1,422.7 96.1,419.7 96.1,416.7 96.1,413.7 96,410.7 95.9,407.7 95.8,404.7 95.5,401.7 95,398.7"/>
<polygon fill="#e6f000" points="95,404.7 94.4,407.7 94.2,410.7 94.1,413.7 94,416.7 93.9,419.7 93.9,422.7 93.9,425.7 93.9,428.7 93.8,431.7 93.8,434.7 93.8,437.7 93.8,440.7 93.8,443.7 93.8,446.7 93.8,449.7 93.8,452.7 93.8,455.7 93.8,458.7 93.8,461.7 93.8,464.7 93.8,467.7 93.9,470.7 93.9,473.7 93.9,476.7 93.9,479.7 93.9,482.7 93.9,485.7 93.9,488.7 93.9,491.7 93.9,494.7 93.9,497.7 93.9,500.7 93.9,503.7 93.9,506.7 93.9,509.7 93.9,512.7 93.9,515.7 94,518.7 94,518.7 94.1,515.7 94.2,512.7 94.3,509.7 94.3,506.7 94.4,503.7 94.4,500.7 94.5,497.7 94.5,494.7 94.6,491.7 94.6,488.7 94.7,485.7 94.7,482.7 94.8,479.7 94.8,476.7 94.9,473.7 95,470.7 95,467.7 95.1,464.7 95.1,461.7 95.2,458.7 95.3,455.7 95.3,452.7 95.4,449.7 95.4,446.7 95.4,443.7 95.5,440.7 95.5,437.7 95.6,434.7 95.6,431.7 95.6,428.7 95.7,425.7 95.7,422.7 95.8,419.7 95.7,416.7 95.7,413.7 95.6,410.7 95.5,407.7 95,404.7"/>
<polygon fill="#ffcd00" points="94.9,410.7 94.6,413.7 94.4,416.7 94.3,419.7 94.3,422.7 94.3,425.7 94.3,428.7 94.2,431.7 94.2,434.7 94.2,437.7 94.2,440.7 94.2,443.7 94.2,446.7 94.2,449.7 94.3,452.7 94.3,455.7 94.5,458.7 94.5,458.7 94.7,455.7 94.8,452.7 94.9,449.7 95,446.7 95,443.7 95.1,440.7 95.1,437.7 95.2,434.7 95.2,431.7 95.3,428.7 95.3,425.7 95.3,422.7 95.4,419.7 95.3,416.7 95.2,413.7 94.9,410.7"/>
<polygon fill="#00ebcd" points="100,398.7 99.9,401.7 99.9,404.7 99.9,407.7 99.8,410.7 99.8,413.7 99.8,416.7 99.8,419.7 99.8,422.7 99.8,425.7 99.8,428.7 99.8,431.7 99.8,434.7 99.8,437.7 99.8,440.7 99.9,443.7 99.9,446.7 99.9,449.7 99.9,452.7 99.9,455.7 99.9,458.7 99.9,461.7 99.9,464.7 99.9,467.7 99.9,470.7 99.9,473.7 99.9,476.7 99.9,479.7 99.9,482.7 99.9,485.7 99.9,488.7 100,491.7 100,494.7 100,497.7 100,500.7 100,503.7 100,506.7 100.1,509.7 100.1,512.7 100.1,515.7 100.1,518.7 100.1,521.7 100.1,524.7 100.2,527.7 100.2,530.7 100.2,533.7 100.2,536.7 100.3,539.7 100.3,542.7 100.3,543.8 102.5,543.8 102.5,542.7 102.6,539.7 102.6,536.7 102.7,533.7 102.7,530.7 102.8,527.7 102.8,524.7 102.9,521.7 102.9,518.7 102.9,515.7 103,512.7 103,509.7 103.1,506.7 103.1,503.7 103.1,500.7 103.2,497.7 103.2,494.7 103.3,491.7 103.3,488.7 103.3,485.7 103.4,482.7 103.4,479.7 103.5,476.7 103.5,473.7 103.5,470.7 103.6,467.7 103.6,464.7 103.6,461.7 103.6,458.7 103.7,455.7 103.7,452.7 103.7,449.7 103.8,446.7 103.8,443.7 103.8,440.7 103.8,437.7 103.9,434.7 103.9,431.7 103.9,428.7 103.9,425.7 104,422.7 104,419.7 104,416.7 104,413.7 104.1,410.7 104.1,407.7 104,404.7 104,401.7 104,398.7"/>
<polygon fill="#0af08c" points="100.5,398.7 100.5,401.7 100.4,404.7 100.4,407.7 100.3,410.7 100.3,413.7 100.3,416.7 100.3,419.7 100.3,422.7 100.3,425.7 100.3,428.7 100.3,431.7 100.3,434.7 100.3,437.7 100.3,440.7 100.3,443.7 100.3,446.7 100.3,449.7 100.3,452.7 100.3,455.7 100.3,458.7 100.3,461.7 100.3,464.7 100.3,467.7 100.3,470.7 100.3,473.7 100.3,476.7 100.3,479.7 100.4,482.7 100.4,485.7 100.4,488.7 100.4,491.7 100.4,494.7 100.4,497.7 100.5,500.7 100.5,503.7 100.5,506.7 100.5,509.7 100.5,512.7 100.6,515.7 100.6,518.7 100.6,521.7 100.6,524.7 100.7,527.7 100.7,530.7 100.7,533.7 100.8,536.7 100.8,539.7 100.8,542.7 100.9,543.8 101.9,543.8 102,542.7 102,539.7 102.1,536.7 102.2,533.7 102.2,530.7 102.3,527.7 102.3,524.7 102.4,521.7 102.4,518.7 102.5,515.7 102.5,512.7 102.6,509.7 102.6,506.7 102.7,503.7 102.7,500.7 102.7,497.7 102.8,494.7 102.8,491.7 102.9,488.7 102.9,485.7 102.9,482.7 103,479.7 103,476.7 103.1,473.7 103.1,470.7 103.1,467.7 103.2,464.7 103.2,461.7 103.2,458.7 103.2,455.7 103.2,452.7 103.3,449.7 103.3,446.7 103.3,443.7 103.3,440.7 103.4,437.7 103.4,434.7 103.4,431.7 103.4,428.7 103.5,425.7 103.5,422.7 103.5,419.7 103.5,416.7 103.5,413.7 103.6,410.7 103.6,407.7 103.5,404.7 103.5,401.7 103.5,398.7"/>
<polygon fill="#3cf032" points="101.1,398.7 101,401.7 100.9,404.7 100.8,407.7 100.8,410.7 100.7,413.7 100.7,416.7 100.7,419.7 100.7,422.7 100.7,425.7 100.7,428.7 100.7,431.7 100.7,434.7 100.7,437.7 100.7,440.7 100.7,443.7 100.7,446.7 100.7,449.7 100.7,452.7 100.7,455.7 100.7,458.7 100.7,461.7 100.7,464.7 100.7,467.7 100.7,470.7 100.7,473.7 100.7,476.7 100.7,479.7 100.7,482.7 100.8,485.7 100.8,488.7 100.8,491.7 100.8,494.7 100.8,497.7 100.9,500.7 100.9,503.7 100.9,506.7 101,509.7 101,512.7 101.1,515.7 101.1,518.7 101.2,521.7 101.3,524.7 101.5,527.7 101.5,527.7 101.7,524.7 101.8,521.7 101.9,518.7 102,515.7 102,512.7 102.1,509.7 102.2,506.7 102.2,503.7 102.3,500.7 102.3,497.7 102.4,494.7 102.4,491.7 102.5,488.7 102.5,485.7 102.6,482.7 102.6,479.7 102.7,476.7 102.7,473.7 102.7,470.7 102.8,467.7 102.8,464.7 102.8,461.7 102.8,458.7 102.8,455.7 102.9,452.7 102.9,449.7 102.9,446.7 102.9,443.7 103,440.7 103,437.7 103,434.7 103,431.7 103,428.7 103.1,425.7 103.1,422.7 103.1,419.7 103.1,416.7 103.1,413.7 103.2,410.7 103.1,407.7 103.1,404.7 103,401.7 102.9,398.7"/>
<polygon fill="#a5f500" points="102,398.7 101.8,401.7 101.5,404.7 101.4,407.7 101.3,410.7 101.2,413.7 101.2,416.7 101.2,419.7 101.2,422.7 101.2,425.7 101.2,428.7 101.2,431.7 101.2,434.7 101.2,437.7 101.2,440.7 101.2,443.7 101.2,446.7 101.2,449.7 101.1,452.7 101.1,455.7 101.1,458.7 101.1,461.7 101.1,464.7 101.1,467.7 101.1,470.7 101.1,473.7 101.2,476.7 101.2,479.7 101.3,482.7 101.3,485.7 101.4,488.7 101.5,491.7 101.6,494.7 101.6,494.7 101.7,491.7 101.9,488.7 102,485.7 102,482.7 102.1,479.7 102.2,476.7 102.2,473.7 102.3,470.7 102.3,467.7 102.3,464.7 102.4,461.7 102.4,458.7 102.4,455.7 102.4,452.7 102.4,449.7 102.4,446.7 102.5,443.7 102.5,440.7 102.5,437.7 102.5,434.7 102.5,431.7 102.5,428.7 102.6,425.7 102.6,422.7 102.6,419.7 102.6,416.7 102.6,413.7 102.6,410.7 102.6,407.7 102.4,404.7 102.2,401.7 102,398.7"/>
<polygon fill="#00ebcd" points="106.4,398.7 106.3,401.7 106.3,404.7 106.3,407.7 106.2,410.7 106.2,413.7 106.2,416.7 106.2,419.7 106.2,422.7 106.2,425.7 106.2,428.7 106.2,431.7 106.2,434.7 106.2,437.7 106.2,440.7 106.3,443.7 106.3,446.7 106.3,449.7 106.3,452.7 106.3,455.7 106.3,458.7 106.3,461.7 106.3,464.7 106.3,467.7 106.3,470.7 106.3,473.7 106.3,476.7 106.3,479.7 106.3,482.7 106.3,485.7 106.3,488.7 106.4,491.7 106.4,494.7 106.4,497.7 106.4,500.7 106.4,503.7 106.4,506.7 106.5,509.7 106.5,512.7 106.5,515.7 106.5,518.7 106.5,521.7 106.5,524.7 106.6,527.7 106.6,530.7 106.6,533.7 106.6,536.7 106.7,539.7 106.7,542.7 106.7,543.8 108.9,543.8 108.9,542.7 109,539.7 109,536.7 109.1,533.7 109.1,530.7 109.2,527.7 109.2,524.7 109.3,521.7 109.3,518.7 109.3,515.7 109.4,512.7 109.4,509.7 109.5,506.7 109.5,503.7 109.5,500.7 109.6,497.7 109.6,494.7 109.7,491.7 109.7,488.7 109.7,485.7 109.8,482.7 109.8,479.7 109.9,476.7 109.9,473.7 109.9,470.7 110,467.7 110,464.7 110,461.7 110,458.7 110.1,455.7 110.1,452.7 110.1,449.7 110.2,446.7 110.2,443.7 110.2,440.7 110.2,437.7 110.3,434.7 110.3,431.7 110.3,428.7 110.3,425.7 110.4,422.7 110.4,419.7 110.4,416.7 110.4,413.7 110.5,410.7 110.5,407.7 110.4,404.7 110.4,401.7 110.4,398.7"/>
<polygon fill="#0af08c" points="106.9,398.7 106.9,401.7 106.8,404.7 106.8,407.7 106.7,410.7 106.7,413.7 106.7,416.7 106.7,419.7 106.7,422.7 106.7,425.7 106.7,428.7 106.7,431.7 106.7,434.7 106.7,437.7 106.7,440.7 106.7,443.7 106.7,446.7 106.7,449.7 106.7,452.7 106.7,455.7 106.7,458.7 106.7,461.7 106.7,464.7 106.7,467.7 106.7,470.7 106.7,473.7 106.7,476.7 106.7,479.7 106.8,482.7 106.8,485.7 106.8,488.7 106.8,491.7 106.8,494.7 106.8,497.7 106.9,500.7 106.9,503.7 106.9,506.7 106.9,509.7 106.9,512.7 107,515.7 107,518.7 107,521.7 107,524.7 107.1,527.7 107.1,530.7 107.1,533.7 107.2,536.7 107.2,539.7 107.2,542.7 107.3,543.8 108.3,543.8 108.4,542.7 108.4,539.7 108.5,536.7 108.6,533.7 108.6,530.7 108.7,527.7 108.7,524.7 108.8,521.7 108.8,518.7 108.9,515.7 108.9,512.7 109,509.7 109,506.7 109.1,503.7 109.1,500.7 109.1,497.7 109.2,494.7 109.2,491.7 109.3,488.7 109.3,485.7 109.3,482.7 109.4,479.7 109.4,476.7 109.5,473.7 109.5,470.7 109.5,467.7 109.6,464.7 109.6,461.7 109.6,458.7 109.6,455.7 109.6,452.7 109.7,449.7 109.7,446.7 109.7,443.7 109.7,440.7 109.8,437.7 109.8,434.7 109.8,431.7 109.8,428.7 109.9,425.7 109.9,422.7 109.9,419.7 109.9,416.7 109.9,413.7 110,410.7 110,407.7 109.9,404.7 109.9,401.7 109.9,398.7"/>
<polygon fill="#3cf032" points="107.5,398.7 107.4,401.7 107.3,404.7 107.2,407.7 107.2,410.7 107.1,413.7 107.1,416.7 107.1,419.7 107.1,422.7 107.1,425.7 107.1,428.7 107.1,431.7 107.1,434.7 107.1,437.7 107.1,440.7 107.1,443.7 107.1,446.7 107.1,449.7 107.1,452.7 107.1,455.7 107.1,458.7 107.1,461.7 107.1,464.7 107.1,467.7 107.1,470.7 107.1,473.7 107.1,476.7 107.1,479.7 107.1,482.7 107.2,485.7 107.2,488.7 107.2,491.7 107.2,494.7 107.2,497.7 107.3,500.7 107.3,503.7 107.3,506.7 107.4,509.7 107.4,512.7 107.5,515.7 107.5,518.7 107.6,521.7 107.7,524.7 107.9,527.7 107.9,527.7 108.1,524.7 108.2,521.7 108.3,518.7 108.4,515.7 108.4,512.7 108.5,509.7 108.6,506.7 108.6,503.7 108.7,500.7 108.7,497.7 108.8,494.7 108.8,491.7 108.9,488.7 108.9,485.7 109,482.7 109,479.7 109.1,476.7 109.1,473.7 109.1,470.7 109.2,467.7 109.2,464.7 109.2,461.7 109.2,458.7 109.2,455.7 109.3,452.7 109.3,449.7 109.3,446.7 109.3,443.7 109.4,440.7 109.4,437.7 109.4,434.7 109.4,431.7 109.4,428.7 109.5,425.7 109.5,422.7 109.5,419.7 109.5,416.7 109.5,413.7 109.6,410.7 109.5,407.7 109.5,404.7 109.4,401.7 109.3,398.7"/>
<polygon fill="#a5f500" points="108.4,398.7 108.2,401.7 107.9,404.7 107.8,407.7 107.7,410.7 107.6,413.7 107.6,416.7 107.6,419.7 107.6,422.7 107.6,425.7 107.6,428.7 107.6,431.7 107.6,434.7 107.6,437.7 107.6,440.7 107.6,443.7 107.6,446.7 107.6,449.7 107.5,452.7 107.5,455.7 107.5,458.7 107.5,461.7 107.5,464.7 107.5,467.7 107.5,470.7 107.5,473.7 107.6,476.7 107.6,479.7 107.7,482.7 107.7,485.7 107.8,488.7 107.9,491.7 108,494.7 108,494.7 108.1,491.7 108.3,488.7 108.4,485.7 108.4,482.7 108.5,479.7 108.6,476.7 108.6,473.7 108.7,470.7 108.7,467.7 108.7,464.7 108.8,461.7 108.8,458.7 108.8,455.7 108.8,452.7 108.8,449.7 108.8,446.7 108.9,443.7 108.9,440.7 108.9,437.7 108.9,434.7 108.9,431.7 108.9,428.7 109,425.7 109,422.7 109,419.7 109,416.7 109,413.7 109,410.7 109,407.7 108.8,404.7 108.6,401.7 108.4,398.7"/>
<polygon fill="#00ebcd" points="113.1,398.7 113,401.7 113,404.7 113,407.7 112.9,410.7 112.9,413.7 112.9,416.7 112.9,419.7 112.9,422.7 112.9,425.7 112.9,428.7 112.9,431.7 112.8,434.7 112.8,437.7 112.8,440.7 112.8,443.7 112.8,446.7 112.8,449.7 112.8,452.7 112.8,455.7 112.7,458.7 112.7,461.7 112.7,464.7 112.7,467.7 112.7,470.7 112.7,473.7 112.7,476.7 112.7,479.7 112.7,482.7 112.7,485.7 112.7,488.7 112.7,491.7 112.7,494.7 112.7,497.7 112.7,500.7 112.7,503.7 112.7,506.7 112.7,509.7 112.7,512.7 112.7,515.7 112.8,518.7 112.8,521.7 112.8,524.7 112.8,527.7 112.8,530.7 112.8,533.7 112.9,536.7 112.9,539.7 112.9,542.7 112.9,543.8 114.9,543.8 114.9,542.7 115,539.7 115.1,536.7 115.1,533.7 115.2,530.7 115.3,527.7 115.3,524.7 115.4,521.7 115.5,518.7 115.5,515.7 115.6,512.7 115.6,509.7 115.7,506.7 115.7,503.7 115.8,500.7 115.9,497.7 115.9,494.7 116,491.7 116,488.7 116.1,485.7 116.1,482.7 116.2,479.7 116.2,476.7 116.3,473.7 116.3,470.7 116.3,467.7 116.4,464.7 116.4,461.7 116.5,458.7 116.5,455.7 116.5,452.7 116.6,449.7 116.6,446.7 116.7,443.7 116.7,440.7 116.7,437.7 116.8,434.7 116.8,431.7 116.8,428.7 116.9,425.7 116.9,422.7 117,419.7 117,416.7 117,413.7 117.1,410.7 117.1,407.7 117.1,404.7 117.1,401.7 117.1,398.7"/>
<polygon fill="#0af08c" points="113.6,398.7 113.6,401.7 113.5,404.7 113.5,407.7 113.4,410.7 113.4,413.7 113.4,416.7 113.4,419.7 113.4,422.7 113.4,425.7 113.4,428.7 113.3,431.7 113.3,434.7 113.3,437.7 113.3,440.7 113.3,443.7 113.3,446.7 113.3,449.7 113.2,452.7 113.2,455.7 113.2,458.7 113.2,461.7 113.2,464.7 113.2,467.7 113.1,470.7 113.2,473.7 113.2,476.7 113.2,479.7 113.2,482.7 113.2,485.7 113.2,488.7 113.2,491.7 113.2,494.7 113.2,497.7 113.2,500.7 113.2,503.7 113.2,506.7 113.2,509.7 113.2,512.7 113.2,515.7 113.3,518.7 113.3,521.7 113.3,524.7 113.3,527.7 113.4,530.7 113.4,533.7 113.5,536.7 113.6,539.7 113.7,542.7 113.8,543.8 114,543.8 114.1,542.7 114.3,539.7 114.4,536.7 114.5,533.7 114.6,530.7 114.7,527.7 114.8,524.7 114.9,521.7 115,518.7 115,515.7 115.1,512.7 115.2,509.7 115.2,506.7 115.3,503.7 115.3,500.7 115.4,497.7 115.4,494.7 115.5,491.7 115.6,488.7 115.6,485.7 115.7,482.7 115.7,479.7 115.8,476.7 115.8,473.7 115.9,470.7 115.9,467.7 115.9,464.7 116,461.7 116,458.7 116,455.7 116.1,452.7 116.1,449.7 116.1,446.7 116.2,443.7 116.2,440.7 116.2,437.7 116.3,434.7 116.3,431.7 116.3,428.7 116.4,425.7 116.4,422.7 116.5,419.7 116.5,416.7 116.5,413.7 116.6,410.7 116.6,407.7 116.6,404.7 116.6,401.7 116.6,398.7"/>
<polygon fill="#3cf032" points="114.2,398.7 114.1,401.7 114,404.7 113.9,407.7 113.9,410.7 113.9,413.7 113.8,416.7 113.8,419.7 113.8,422.7 113.8,425.7 113.8,428.7 113.8,431.7 113.7,434.7 113.7,437.7 113.7,440.7 113.7,443.7 113.7,446.7 113.7,449.7 113.6,452.7 113.6,455.7 113.6,458.7 113.6,461.7 113.6,464.7 113.5,467.7 113.5,470.7 113.5,473.7 113.5,476.7 113.5,479.7 113.6,482.7 113.6,485.7 113.6,488.7 113.6,491.7 113.6,494.7 113.6,497.7 113.6,500.7 113.6,503.7 113.7,506.7 113.7,509.7 113.7,512.7 113.8,515.7 113.9,518.7 114.1,521.7 114.1,521.7 114.3,518.7 114.5,515.7 114.6,512.7 114.7,509.7 114.8,506.7 114.8,503.7 114.9,500.7 115,497.7 115,494.7 115.1,491.7 115.1,488.7 115.2,485.7 115.3,482.7 115.3,479.7 115.4,476.7 115.4,473.7 115.5,470.7 115.5,467.7 115.5,464.7 115.6,461.7 115.6,458.7 115.6,455.7 115.7,452.7 115.7,449.7 115.7,446.7 115.8,443.7 115.8,440.7 115.8,437.7 115.9,434.7 115.9,431.7 115.9,428.7 116,425.7 116,422.7 116,419.7 116.1,416.7 116.1,413.7 116.1,410.7 116.1,407.7 116.1,404.7 116.1,401.7 116,398.7"/>
<polygon fill="#a5f500" points="115.1,401.7 114.7,404.7 114.6,407.7 114.5,410.7 114.4,413.7 114.4,416.7 114.4,419.7 114.4,422.7 114.3,425.7 114.3,428.7 114.3,431.7 114.3,434.7 114.3,437.7 114.2,440.7 114.2,443.7 114.2,446.7 114.2,449.7 114.2,452.7 114.1,455.7 114.1,458.7 114.1,461.7 114.1,464.7 114.1,467.7 114,470.7 114.1,473.7 114.1,476.7 114.1,479.7 114.2,482.7 114.4,485.7 114.4,485.7 114.6,482.7 114.7,479.7 114.8,476.7 114.9,473.7 115,470.7 115,467.7 115,464.7 115.1,461.7 115.1,458.7 115.1,455.7 115.1,452.7 115.2,449.7 115.2,446.7 115.2,443.7 115.3,440.7 115.3,437.7 115.3,434.7 115.3,431.7 115.4,428.7 115.4,425.7 115.4,422.7 115.5,419.7 115.5,416.7 115.5,413.7 115.5,410.7 115.5,407.7 115.4,404.7 115.1,401.7"/>
</g>
<polygon fill="#fff" points="90.9,397.7 92,397.7 90.7,495 90.7,495"/>
</g>
<g filter="url(#bl)">
<polygon fill="#00def0" points="147.2,399.6 181.7,399.6 178,544.8 145.2,544.8"/>
<clipPath id="cp2"><polygon points="147.2,399.6 181.7,399.6 178,544.8 145.2,544.8"/></clipPath>
<g clip-path="url(#cp2)">
<polygon fill="#00c8f5" points="160.1,507.6 159.5,510.6 159.2,513.6 159.1,516.6 159,519.6 158.9,522.6 158.8,525.6 158.7,528.6 158.6,531.6 158.6,534.6 158.6,537.6 158.7,540.6 158.7,543.6 158.7,544.8 160.9,544.8 160.9,543.6 161,540.6 161.1,537.6 161.1,534.6 161.1,531.6 161.1,528.6 161.1,525.6 161,522.6 161,519.6 160.9,516.6 160.8,513.6 160.6,510.6 160.1,507.6"/>
<polygon fill="#0096fa" points="160,516.6 159.6,519.6 159.4,522.6 159.3,525.6 159.2,528.6 159.1,531.6 159.1,534.6 159.1,537.6 159.1,540.6 159.1,543.6 159.1,544.8 160.5,544.8 160.5,543.6 160.5,540.6 160.6,537.6 160.7,534.6 160.7,531.6 160.7,528.6 160.6,525.6 160.5,522.6 160.4,519.6 160,516.6"/>
<polygon fill="#0055f0" points="159.9,525.6 159.7,528.6 159.5,531.6 159.5,534.6 159.6,537.6 159.8,540.6 159.8,540.6 160.1,537.6 160.2,534.6 160.3,531.6 160.1,528.6 159.9,525.6"/>
<polygon fill="#00c8f5" points="167.8,516.6 167.5,519.6 167.2,522.6 167,525.6 166.8,528.6 166.8,531.6 166.7,534.6 166.6,537.6 166.6,540.6 166.5,543.6 166.5,544.8 168.7,544.8 168.7,543.6 168.7,540.6 168.7,537.6 168.7,534.6 168.6,531.6 168.6,528.6 168.5,525.6 168.4,522.6 168.1,519.6 167.8,516.6"/>
<polygon fill="#0096fa" points="167.7,528.6 167.6,531.6 167.4,534.6 167.3,537.6 167.2,540.6 167.1,543.6 167,544.8 168.2,544.8 168.2,543.6 168.1,540.6 168.1,537.6 168,534.6 167.9,531.6 167.7,528.6"/>
<polygon fill="#00c8f5" points="172.9,528.6 172.4,531.6 172.2,534.6 172.1,537.6 172,540.6 171.9,543.6 171.8,544.8 173.4,544.8 173.4,543.6 173.4,540.6 173.4,537.6 173.4,534.6 173.3,531.6 172.9,528.6"/>
<polygon fill="#00ebcd" points="148.3,399.6 148.2,402.6 148.1,405.6 148,408.6 148,411.6 148,414.6 147.9,417.6 147.9,420.6 147.9,423.6 147.9,426.6 147.8,429.6 147.8,432.6 147.8,435.6 147.8,438.6 147.8,441.6 147.8,444.6 147.7,447.6 147.7,450.6 147.7,453.6 147.7,456.6 147.7,459.6 147.7,462.6 147.7,465.6 147.7,468.6 147.7,471.6 147.7,474.6 147.7,477.6 147.7,480.6 147.7,483.6 147.7,486.6 147.7,489.6 147.7,492.6 147.7,495.6 147.7,498.6 147.7,501.6 147.7,504.6 147.7,507.6 147.7,510.6 147.7,513.6 147.7,516.6 147.8,519.6 147.8,522.6 147.8,525.6 147.8,528.6 147.8,531.6 147.8,534.6 147.9,537.6 147.9,540.6 147.9,543.6 147.9,544.8 150.1,544.8 150.1,543.6 150.2,540.6 150.3,537.6 150.4,534.6 150.4,531.6 150.5,528.6 150.6,525.6 150.7,522.6 150.7,519.6 150.8,516.6 150.9,513.6 151,510.6 151.1,507.6 151.2,504.6 151.2,501.6 151.3,498.6 151.3,495.6 151.4,492.6 151.5,489.6 151.5,486.6 151.6,483.6 151.6,480.6 151.7,477.6 151.7,474.6 151.8,471.6 151.9,468.6 151.9,465.6 152,462.6 152.1,459.6 152.1,456.6 152.2,453.6 152.2,450.6 152.3,447.6 152.3,444.6 152.4,441.6 152.4,438.6 152.4,435.6 152.5,432.6 152.5,429.6 152.6,426.6 152.6,423.6 152.7,420.6 152.7,417.6 152.7,414.6 152.8,411.6 152.8,408.6 152.8,405.6 152.7,402.6 152.7,399.6"/>
<polygon fill="#0af08c" points="148.8,399.6 148.7,402.6 148.6,405.6 148.5,408.6 148.4,411.6 148.4,414.6 148.3,417.6 148.3,420.6 148.3,423.6 148.3,426.6 148.2,429.6 148.2,432.6 148.2,435.6 148.2,438.6 148.2,441.6 148.2,444.6 148.1,447.6 148.1,450.6 148.1,453.6 148.1,456.6 148.1,459.6 148.1,462.6 148.1,465.6 148.1,468.6 148.1,471.6 148.1,474.6 148.1,477.6 148.1,480.6 148.1,483.6 148.1,486.6 148.1,489.6 148.1,492.6 148.1,495.6 148.1,498.6 148.1,501.6 148,504.6 148,507.6 148.1,510.6 148.1,513.6 148.2,516.6 148.2,519.6 148.3,522.6 148.3,525.6 148.3,528.6 148.3,531.6 148.4,534.6 148.4,537.6 148.4,540.6 148.5,543.6 148.5,544.8 149.5,544.8 149.5,543.6 149.6,540.6 149.7,537.6 149.9,534.6 149.9,531.6 150,528.6 150.1,525.6 150.2,522.6 150.3,519.6 150.4,516.6 150.5,513.6 150.6,510.6 150.7,507.6 150.8,504.6 150.8,501.6 150.9,498.6 151,495.6 151,492.6 151.1,489.6 151.1,486.6 151.2,483.6 151.2,480.6 151.3,477.6 151.4,474.6 151.4,471.6 151.5,468.6 151.6,465.6 151.6,462.6 151.7,459.6 151.7,456.6 151.8,453.6 151.8,450.6 151.9,447.6 151.9,444.6 152,441.6 152,438.6 152,435.6 152.1,432.6 152.1,429.6 152.2,426.6 152.2,423.6 152.3,420.6 152.3,417.6 152.3,414.6 152.3,411.6 152.3,408.6 152.3,405.6 152.2,402.6 152.2,399.6"/>
<polygon fill="#3cf032" points="149.2,399.6 149.1,402.6 149,405.6 148.9,408.6 148.8,411.6 148.7,414.6 148.7,417.6 148.6,420.6 148.6,423.6 148.6,426.6 148.6,429.6 148.5,432.6 148.5,435.6 148.5,438.6 148.5,441.6 148.5,444.6 148.4,447.6 148.4,450.6 148.4,453.6 148.4,456.6 148.4,459.6 148.4,462.6 148.4,465.6 148.4,468.6 148.4,471.6 148.4,474.6 148.4,477.6 148.4,480.6 148.4,483.6 148.4,486.6 148.4,489.6 148.4,492.6 148.4,495.6 148.4,498.6 148.4,501.6 148.4,504.6 148.4,507.6 148.4,510.6 148.5,513.6 148.6,516.6 148.7,519.6 148.7,522.6 148.8,525.6 148.9,528.6 149.1,531.6 149.1,531.6 149.4,528.6 149.6,525.6 149.7,522.6 149.8,519.6 150,516.6 150.2,513.6 150.3,510.6 150.4,507.6 150.5,504.6 150.5,501.6 150.6,498.6 150.6,495.6 150.7,492.6 150.7,489.6 150.8,486.6 150.9,483.6 150.9,480.6 151,477.6 151.1,474.6 151.1,471.6 151.2,468.6 151.3,465.6 151.3,462.6 151.4,459.6 151.4,456.6 151.5,453.6 151.5,450.6 151.6,447.6 151.6,444.6 151.6,441.6 151.7,438.6 151.7,435.6 151.8,432.6 151.8,429.6 151.9,426.6 151.9,423.6 152,420.6 152,417.6 152,414.6 152,411.6 152,408.6 151.9,405.6 151.9,402.6 151.8,399.6"/>
<polygon fill="#a5f500" points="149.7,399.6 149.5,402.6 149.4,405.6 149.2,408.6 149.1,411.6 149,414.6 149,417.6 148.9,420.6 148.9,423.6 148.9,426.6 148.9,429.6 148.8,432.6 148.8,435.6 148.8,438.6 148.8,441.6 148.8,444.6 148.7,447.6 148.7,450.6 148.7,453.6 148.7,456.6 148.7,459.6 148.7,462.6 148.7,465.6 148.7,468.6 148.7,471.6 148.7,474.6 148.7,477.6 148.7,480.6 148.7,483.6 148.7,486.6 148.7,489.6 148.7,492.6 148.7,495.6 148.7,498.6 148.7,501.6 148.7,504.6 148.8,507.6 148.9,510.6 149,513.6 149.3,516.6 149.3,516.6 149.6,513.6 149.9,510.6 150,507.6 150.1,504.6 150.2,501.6 150.2,498.6 150.3,495.6 150.3,492.6 150.4,489.6 150.5,486.6 150.5,483.6 150.6,480.6 150.7,477.6 150.7,474.6 150.8,471.6 150.9,468.6 151,465.6 151,462.6 151.1,459.6 151.1,456.6 151.2,453.6 151.2,450.6 151.3,447.6 151.3,444.6 151.3,441.6 151.4,438.6 151.4,435.6 151.5,432.6 151.5,429.6 151.6,426.6 151.6,423.6 151.6,420.6 151.6,417.6 151.6,414.6 151.6,411.6 151.6,408.6 151.5,405.6 151.4,402.6 151.3,399.6"/>
<polygon fill="#e6f000" points="150.5,399.6 150.2,402.6 149.8,405.6 149.6,408.6 149.5,411.6 149.4,414.6 149.3,417.6 149.2,420.6 149.2,423.6 149.2,426.6 149.2,429.6 149.1,432.6 149.1,435.6 149.1,438.6 149.1,441.6 149.1,444.6 149,447.6 149,450.6 149,453.6 149,456.6 148.9,459.6 149,462.6 149,465.6 149,468.6 149,471.6 149.1,474.6 149.1,477.6 149.1,480.6 149.1,483.6 149.2,486.6 149.2,489.6 149.2,492.6 149.2,495.6 149.3,498.6 149.3,501.6 149.4,504.6 149.4,504.6 149.6,501.6 149.7,498.6 149.8,495.6 149.9,492.6 150,489.6 150.1,486.6 150.1,483.6 150.2,480.6 150.3,477.6 150.4,474.6 150.5,471.6 150.6,468.6 150.7,465.6 150.7,462.6 150.8,459.6 150.9,456.6 150.9,453.6 150.9,450.6 151,447.6 151,444.6 151.1,441.6 151.1,438.6 151.1,435.6 151.2,432.6 151.2,429.6 151.3,426.6 151.3,423.6 151.3,420.6 151.3,417.6 151.3,414.6 151.3,411.6 151.2,408.6 151.1,405.6 150.8,402.6 150.5,399.6"/>
<polygon fill="#ffcd00" points="150.4,405.6 150.3,408.6 149.9,411.6 149.8,414.6 149.7,417.6 149.6,420.6 149.6,423.6 149.5,426.6 149.5,429.6 149.5,432.6 149.5,435.6 149.4,438.6 149.4,441.6 149.4,444.6 149.4,447.6 149.3,450.6 149.3,453.6 149.3,456.6 149.3,459.6 149.3,462.6 149.3,465.6 149.4,468.6 149.5,471.6 149.7,474.6 149.7,474.6 150,471.6 150.2,468.6 150.3,465.6 150.4,462.6 150.5,459.6 150.5,456.6 150.6,453.6 150.6,450.6 150.6,447.6 150.7,444.6 150.7,441.6 150.8,438.6 150.8,435.6 150.8,432.6 150.9,429.6 150.9,426.6 151,423.6 151,420.6 151,417.6 150.9,414.6 150.8,411.6 150.6,408.6 150.4,405.6"/>
<polygon fill="#00ebcd" points="156.2,399.6 156,402.6 155.9,405.6 155.8,408.6 155.7,411.6 155.7,414.6 155.7,417.6 155.6,420.6 155.6,423.6 155.6,426.6 155.5,429.6 155.5,432.6 155.5,435.6 155.5,438.6 155.4,441.6 155.4,444.6 155.4,447.6 155.3,450.6 155.3,453.6 155.3,456.6 155.3,459.6 155.2,462.6 155.2,465.6 155.2,468.6 155.2,471.6 155.1,474.6 155.1,477.6 155.1,480.6 155.1,483.6 155.1,486.6 155.1,489.6 155.1,492.6 155.1,495.6 155,498.6 155,501.6 155,504.6 155,507.6 155,510.6 155,513.6 155,516.6 155,519.6 155,522.6 155,525.6 155,528.6 155,531.6 155,534.6 155,537.6 155.1,540.6 155.1,543.6 155.1,544.8 157.3,544.8 157.3,543.6 157.5,540.6 157.6,537.6 157.7,534.6 157.8,531.6 157.9,528.6 158,525.6 158.1,522.6 158.2,519.6 158.3,516.6 158.4,513.6 158.4,510.6 158.5,507.6 158.6,504.6 158.7,501.6 158.8,498.6 158.8,495.6 158.9,492.6 159,489.6 159.1,486.6 159.1,483.6 159.2,480.6 159.3,477.6 159.4,474.6 159.5,471.6 159.5,468.6 159.6,465.6 159.7,462.6 159.7,459.6 159.8,456.6 159.8,453.6 159.9,450.6 160,447.6 160,444.6 160.1,441.6 160.2,438.6 160.2,435.6 160.3,432.6 160.3,429.6 160.4,426.6 160.5,423.6 160.5,420.6 160.6,417.6 160.7,414.6 160.7,411.6 160.7,408.6 160.7,405.6 160.7,402.6 160.6,399.6"/>
<polygon fill="#0af08c" points="156.7,399.6 156.5,402.6 156.4,405.6 156.2,408.6 156.2,411.6 156.1,414.6 156.1,417.6 156,420.6 156,423.6 156,426.6 155.9,429.6 155.9,432.6 155.9,435.6 155.9,438.6 155.8,441.6 155.8,444.6 155.8,447.6 155.7,450.6 155.7,453.6 155.7,456.6 155.6,459.6 155.6,462.6 155.6,465.6 155.5,468.6 155.5,471.6 155.5,474.6 155.5,477.6 155.5,480.6 155.5,483.6 155.5,486.6 155.5,489.6 155.5,492.6 155.4,495.6 155.4,498.6 155.4,501.6 155.4,504.6 155.4,507.6 155.4,510.6 155.4,513.6 155.4,516.6 155.4,519.6 155.4,522.6 155.4,525.6 155.5,528.6 155.5,531.6 155.5,534.6 155.6,537.6 155.6,540.6 155.7,543.6 155.7,544.8 156.7,544.8 156.7,543.6 156.9,540.6 157.1,537.6 157.2,534.6 157.3,531.6 157.4,528.6 157.5,525.6 157.7,522.6 157.8,519.6 157.9,516.6 158,513.6 158.1,510.6 158.1,507.6 158.2,504.6 158.3,501.6 158.4,498.6 158.4,495.6 158.5,492.6 158.6,489.6 158.7,486.6 158.8,483.6 158.8,480.6 158.9,477.6 159,474.6 159.1,471.6 159.2,468.6 159.2,465.6 159.3,462.6 159.3,459.6 159.4,456.6 159.5,453.6 159.5,450.6 159.6,447.6 159.6,444.6 159.7,441.6 159.8,438.6 159.8,435.6 159.9,432.6 159.9,429.6 160,426.6 160.1,423.6 160.1,420.6 160.2,417.6 160.2,414.6 160.3,411.6 160.3,408.6 160.3,405.6 160.2,402.6 160.1,399.6"/>
<polygon fill="#3cf032" points="157.1,399.6 156.9,402.6 156.7,405.6 156.6,408.6 156.5,411.6 156.4,414.6 156.4,417.6 156.3,420.6 156.3,423.6 156.3,426.6 156.2,429.6 156.2,432.6 156.2,435.6 156.1,438.6 156.1,441.6 156.1,444.6 156.1,447.6 156,450.6 156,453.6 156,456.6 155.9,459.6 155.9,462.6 155.9,465.6 155.8,468.6 155.8,471.6 155.8,474.6 155.8,477.6 155.8,480.6 155.8,483.6 155.8,486.6 155.8,489.6 155.8,492.6 155.7,495.6 155.7,498.6 155.7,501.6 155.7,504.6 155.7,507.6 155.7,510.6 155.7,513.6 155.7,516.6 155.8,519.6 155.8,522.6 155.8,525.6 155.9,528.6 156,531.6 156.1,534.6 156.3,537.6 156.3,537.6 156.6,534.6 156.8,531.6 157,528.6 157.1,525.6 157.3,522.6 157.4,519.6 157.5,516.6 157.6,513.6 157.7,510.6 157.8,507.6 157.9,504.6 158,501.6 158.1,498.6 158.1,495.6 158.2,492.6 158.3,489.6 158.4,486.6 158.5,483.6 158.6,480.6 158.6,477.6 158.7,474.6 158.8,471.6 158.9,468.6 158.9,465.6 159,462.6 159.1,459.6 159.1,456.6 159.2,453.6 159.2,450.6 159.3,447.6 159.4,444.6 159.4,441.6 159.5,438.6 159.5,435.6 159.6,432.6 159.6,429.6 159.7,426.6 159.8,423.6 159.8,420.6 159.9,417.6 159.9,414.6 160,411.6 160,408.6 159.9,405.6 159.8,402.6 159.7,399.6"/>
<polygon fill="#a5f500" points="157.6,399.6 157.3,402.6 157.1,405.6 156.9,408.6 156.8,411.6 156.7,414.6 156.7,417.6 156.6,420.6 156.6,423.6 156.6,426.6 156.5,429.6 156.5,432.6 156.5,435.6 156.4,438.6 156.4,441.6 156.4,444.6 156.3,447.6 156.3,450.6 156.3,453.6 156.2,456.6 156.2,459.6 156.2,462.6 156.1,465.6 156.1,468.6 156.1,471.6 156.1,474.6 156.1,477.6 156.1,480.6 156.1,483.6 156.1,486.6 156.1,489.6 156.1,492.6 156.1,495.6 156.1,498.6 156.1,501.6 156,504.6 156,507.6 156.1,510.6 156.1,513.6 156.2,516.6 156.3,519.6 156.5,522.6 156.5,522.6 156.9,519.6 157.1,516.6 157.2,513.6 157.4,510.6 157.5,507.6 157.6,504.6 157.7,501.6 157.7,498.6 157.8,495.6 157.9,492.6 158,489.6 158.1,486.6 158.2,483.6 158.3,480.6 158.4,477.6 158.4,474.6 158.5,471.6 158.6,468.6 158.7,465.6 158.7,462.6 158.8,459.6 158.8,456.6 158.9,453.6 159,450.6 159,447.6 159.1,444.6 159.1,441.6 159.2,438.6 159.2,435.6 159.3,432.6 159.4,429.6 159.4,426.6 159.5,423.6 159.5,420.6 159.6,417.6 159.6,414.6 159.6,411.6 159.6,408.6 159.6,405.6 159.4,402.6 159.2,399.6"/>
<polygon fill="#e6f000" points="158.4,399.6 157.8,402.6 157.4,405.6 157.2,408.6 157.1,411.6 157,414.6 157,417.6 156.9,420.6 156.9,423.6 156.8,426.6 156.8,429.6 156.8,432.6 156.7,435.6 156.7,438.6 156.7,441.6 156.6,444.6 156.6,447.6 156.6,450.6 156.5,453.6 156.5,456.6 156.5,459.6 156.4,462.6 156.4,465.6 156.4,468.6 156.4,471.6 156.4,474.6 156.4,477.6 156.4,480.6 156.4,483.6 156.4,486.6 156.4,489.6 156.4,492.6 156.4,495.6 156.4,498.6 156.5,501.6 156.5,504.6 156.6,507.6 156.7,510.6 156.7,510.6 156.9,507.6 157.1,504.6 157.2,501.6 157.4,498.6 157.5,495.6 157.6,492.6 157.7,489.6 157.8,486.6 157.9,483.6 158,480.6 158.1,477.6 158.2,474.6 158.3,471.6 158.3,468.6 158.4,465.6 158.5,462.6 158.5,459.6 158.6,456.6 158.6,453.6 158.7,450.6 158.7,447.6 158.8,444.6 158.9,441.6 158.9,438.6 159,435.6 159,432.6 159.1,429.6 159.1,426.6 159.2,423.6 159.2,420.6 159.3,417.6 159.4,414.6 159.3,411.6 159.3,408.6 159.2,405.6 158.9,402.6 158.4,399.6"/>
<polygon fill="#ffcd00" points="158.4,402.6 157.9,405.6 157.6,408.6 157.4,411.6 157.3,414.6 157.2,417.6 157.2,420.6 157.2,423.6 157.1,426.6 157.1,429.6 157.1,432.6 157,435.6 157,438.6 157,441.6 156.9,444.6 156.9,447.6 156.9,450.6 156.8,453.6 156.8,456.6 156.8,459.6 156.7,462.6 156.7,465.6 156.6,468.6 156.6,471.6 156.7,474.6 156.7,477.6 156.7,480.6 156.8,483.6 156.9,486.6 157,489.6 157,489.6 157.3,486.6 157.5,483.6 157.6,480.6 157.8,477.6 157.9,474.6 158,471.6 158.1,468.6 158.1,465.6 158.2,462.6 158.2,459.6 158.3,456.6 158.3,453.6 158.4,450.6 158.5,447.6 158.5,444.6 158.6,441.6 158.6,438.6 158.7,435.6 158.7,432.6 158.8,429.6 158.8,426.6 158.9,423.6 159,420.6 159,417.6 159.1,414.6 159,411.6 159,408.6 158.7,405.6 158.4,402.6"/>
<polygon fill="#ff9100" points="158.3,408.6 157.9,411.6 157.7,414.6 157.6,417.6 157.6,420.6 157.5,423.6 157.5,426.6 157.5,429.6 157.4,432.6 157.4,435.6 157.4,438.6 157.3,441.6 157.3,444.6 157.3,447.6 157.2,450.6 157.2,453.6 157.2,456.6 157.1,459.6 157.1,462.6 157.1,465.6 157,468.6 157.1,471.6 157.3,474.6 157.3,474.6 157.5,471.6 157.7,468.6 157.7,465.6 157.8,462.6 157.8,459.6 157.9,456.6 158,453.6 158,450.6 158.1,447.6 158.1,444.6 158.2,441.6 158.2,438.6 158.3,435.6 158.4,432.6 158.4,429.6 158.5,426.6 158.5,423.6 158.6,420.6 158.7,417.6 158.7,414.6 158.6,411.6 158.3,408.6"/>
<polygon fill="#00ebcd" points="163.4,399.6 163.3,402.6 163.1,405.6 163,408.6 163,411.6 162.9,414.6 162.9,417.6 162.9,420.6 162.8,423.6 162.8,426.6 162.8,429.6 162.8,432.6 162.7,435.6 162.7,438.6 162.7,441.6 162.7,444.6 162.6,447.6 162.6,450.6 162.6,453.6 162.6,456.6 162.6,459.6 162.6,462.6 162.6,465.6 162.6,468.6 162.5,471.6 162.5,474.6 162.5,477.6 162.5,480.6 162.5,483.6 162.5,486.6 162.5,489.6 162.5,492.6 162.5,495.6 162.5,498.6 162.5,501.6 162.5,504.6 162.5,507.6 162.5,510.6 162.5,513.6 162.4,516.6 162.4,519.6 162.4,522.6 162.4,525.6 162.4,528.6 162.4,531.6 162.4,534.6 162.4,537.6 162.4,540.6 162.4,543.6 162.4,544.8 164.4,544.8 164.4,543.6 164.5,540.6 164.6,537.6 164.7,534.6 164.8,531.6 164.9,528.6 165,525.6 165,522.6 165.1,519.6 165.2,516.6 165.3,513.6 165.4,510.6 165.5,507.6 165.5,504.6 165.6,501.6 165.7,498.6 165.8,495.6 165.9,492.6 166,489.6 166.1,486.6 166.1,483.6 166.2,480.6 166.3,477.6 166.4,474.6 166.5,471.6 166.6,468.6 166.6,465.6 166.7,462.6 166.8,459.6 166.9,456.6 167,453.6 167,450.6 167.1,447.6 167.2,444.6 167.2,441.6 167.3,438.6 167.4,435.6 167.4,432.6 167.5,429.6 167.6,426.6 167.6,423.6 167.7,420.6 167.8,417.6 167.8,414.6 167.9,411.6 167.9,408.6 167.9,405.6 167.9,402.6 167.8,399.6"/>
<polygon fill="#0af08c" points="163.9,399.6 163.7,402.6 163.6,405.6 163.5,408.6 163.4,411.6 163.4,414.6 163.3,417.6 163.3,420.6 163.3,423.6 163.2,426.6 163.2,429.6 163.2,432.6 163.1,435.6 163.1,438.6 163.1,441.6 163.1,444.6 163,447.6 163,450.6 163,453.6 163,456.6 163,459.6 163,462.6 163,465.6 163,468.6 163,471.6 163,474.6 163,477.6 163,480.6 162.9,483.6 162.9,486.6 162.9,489.6 162.9,492.6 162.9,495.6 162.9,498.6 162.9,501.6 162.9,504.6 163,507.6 163,510.6 163,513.6 163,516.6 163,519.6 163,522.6 163,525.6 163,528.6 163,531.6 163,534.6 163.1,537.6 163.1,540.6 163.2,543.6 163.3,544.8 163.5,544.8 163.6,543.6 163.8,540.6 164,537.6 164.1,534.6 164.2,531.6 164.3,528.6 164.4,525.6 164.5,522.6 164.6,519.6 164.7,516.6 164.8,513.6 164.9,510.6 165,507.6 165.1,504.6 165.2,501.6 165.3,498.6 165.4,495.6 165.4,492.6 165.5,489.6 165.6,486.6 165.7,483.6 165.8,480.6 165.9,477.6 166,474.6 166.1,471.6 166.1,468.6 166.2,465.6 166.3,462.6 166.4,459.6 166.5,456.6 166.6,453.6 166.7,450.6 166.7,447.6 166.8,444.6 166.8,441.6 166.9,438.6 167,435.6 167,432.6 167.1,429.6 167.1,426.6 167.2,423.6 167.3,420.6 167.3,417.6 167.4,414.6 167.4,411.6 167.5,408.6 167.4,405.6 167.4,402.6 167.3,399.6"/>
<polygon fill="#3cf032" points="164.3,399.6 164.1,402.6 163.9,405.6 163.8,408.6 163.7,411.6 163.7,414.6 163.6,417.6 163.6,420.6 163.6,423.6 163.5,426.6 163.5,429.6 163.5,432.6 163.5,435.6 163.4,438.6 163.4,441.6 163.4,444.6 163.3,447.6 163.3,450.6 163.3,453.6 163.3,456.6 163.3,459.6 163.3,462.6 163.3,465.6 163.3,468.6 163.3,471.6 163.3,474.6 163.3,477.6 163.3,480.6 163.3,483.6 163.3,486.6 163.3,489.6 163.3,492.6 163.3,495.6 163.4,498.6 163.4,501.6 163.4,504.6 163.5,507.6 163.5,510.6 163.6,513.6 163.7,516.6 163.8,519.6 163.8,519.6 164,516.6 164.2,513.6 164.3,510.6 164.5,507.6 164.6,504.6 164.7,501.6 164.8,498.6 165,495.6 165.1,492.6 165.2,489.6 165.3,486.6 165.3,483.6 165.4,480.6 165.5,477.6 165.6,474.6 165.7,471.6 165.8,468.6 165.9,465.6 166,462.6 166.1,459.6 166.2,456.6 166.3,453.6 166.3,450.6 166.4,447.6 166.5,444.6 166.5,441.6 166.6,438.6 166.7,435.6 166.7,432.6 166.8,429.6 166.8,426.6 166.9,423.6 167,420.6 167,417.6 167.1,414.6 167.1,411.6 167.1,408.6 167.1,405.6 167,402.6 166.9,399.6"/>
<polygon fill="#a5f500" points="164.8,399.6 164.5,402.6 164.3,405.6 164.1,408.6 164.1,411.6 164,414.6 163.9,417.6 163.9,420.6 163.9,423.6 163.9,426.6 163.8,429.6 163.8,432.6 163.8,435.6 163.7,438.6 163.7,441.6 163.7,444.6 163.6,447.6 163.6,450.6 163.6,453.6 163.6,456.6 163.6,459.6 163.6,462.6 163.6,465.6 163.6,468.6 163.7,471.6 163.7,474.6 163.7,477.6 163.7,480.6 163.8,483.6 163.8,486.6 163.8,489.6 163.9,492.6 164.1,495.6 164.1,495.6 164.5,492.6 164.6,489.6 164.8,486.6 164.9,483.6 165,480.6 165.1,477.6 165.3,474.6 165.4,471.6 165.5,468.6 165.6,465.6 165.7,462.6 165.8,459.6 165.9,456.6 166,453.6 166,450.6 166.1,447.6 166.2,444.6 166.2,441.6 166.3,438.6 166.3,435.6 166.4,432.6 166.5,429.6 166.5,426.6 166.6,423.6 166.6,420.6 166.7,417.6 166.8,414.6 166.8,411.6 166.8,408.6 166.7,405.6 166.6,402.6 166.4,399.6"/>
<polygon fill="#e6f000" points="165.6,399.6 165.1,402.6 164.7,405.6 164.5,408.6 164.4,411.6 164.3,414.6 164.3,417.6 164.2,420.6 164.2,423.6 164.2,426.6 164.1,429.6 164.1,432.6 164.1,435.6 164,438.6 164,441.6 164,444.6 163.9,447.6 163.9,450.6 163.9,453.6 163.9,456.6 164,459.6 164,462.6 164,465.6 164,468.6 164.1,471.6 164.2,474.6 164.4,477.6 164.4,477.6 164.7,474.6 164.9,471.6 165.1,468.6 165.2,465.6 165.3,462.6 165.4,459.6 165.5,456.6 165.6,453.6 165.7,450.6 165.8,447.6 165.9,444.6 165.9,441.6 166,438.6 166,435.6 166.1,432.6 166.2,429.6 166.2,426.6 166.3,423.6 166.3,420.6 166.4,417.6 166.5,414.6 166.5,411.6 166.5,408.6 166.3,405.6 166,402.6 165.6,399.6"/>
<polygon fill="#ffcd00" points="165.6,402.6 165.3,405.6 164.9,408.6 164.7,411.6 164.6,414.6 164.6,417.6 164.6,420.6 164.5,423.6 164.5,426.6 164.5,429.6 164.4,432.6 164.4,435.6 164.4,438.6 164.3,441.6 164.3,444.6 164.3,447.6 164.3,450.6 164.3,453.6 164.4,456.6 164.5,459.6 164.6,462.6 164.6,462.6 164.9,459.6 165.1,456.6 165.3,453.6 165.4,450.6 165.5,447.6 165.5,444.6 165.6,441.6 165.6,438.6 165.7,435.6 165.8,432.6 165.8,429.6 165.9,426.6 166,423.6 166,420.6 166.1,417.6 166.1,414.6 166.1,411.6 166.1,408.6 165.7,405.6 165.6,402.6"/>
<polygon fill="#ff9100" points="165.4,411.6 165.2,414.6 165.1,417.6 165.1,420.6 165.1,423.6 165.2,426.6 165.1,429.6 165.1,429.6 165.2,426.6 165.4,423.6 165.5,420.6 165.5,417.6 165.6,414.6 165.4,411.6"/>
<polygon fill="#00ebcd" points="170,399.6 169.9,402.6 169.7,405.6 169.6,408.6 169.6,411.6 169.5,414.6 169.5,417.6 169.5,420.6 169.4,423.6 169.4,426.6 169.4,429.6 169.3,432.6 169.3,435.6 169.3,438.6 169.2,441.6 169.2,444.6 169.2,447.6 169.1,450.6 169.1,453.6 169.1,456.6 169.1,459.6 169.1,462.6 169.1,465.6 169.1,468.6 169.1,471.6 169.1,474.6 169,477.6 169,480.6 169,483.6 169,486.6 169,489.6 169,492.6 169,495.6 169,498.6 169,501.6 169,504.6 169,507.6 168.9,510.6 168.9,513.6 168.9,516.6 168.9,519.6 168.9,522.6 168.9,525.6 168.9,528.6 168.9,531.6 168.9,534.6 168.9,537.6 168.9,540.6 168.9,543.6 168.9,544.8 170.7,544.8 170.8,543.6 170.9,540.6 171,537.6 171.1,534.6 171.2,531.6 171.3,528.6 171.4,525.6 171.4,522.6 171.5,519.6 171.6,516.6 171.7,513.6 171.8,510.6 171.9,507.6 172,504.6 172.1,501.6 172.2,498.6 172.2,495.6 172.3,492.6 172.4,489.6 172.5,486.6 172.6,483.6 172.7,480.6 172.8,477.6 172.9,474.6 173,471.6 173,468.6 173.1,465.6 173.2,462.6 173.3,459.6 173.4,456.6 173.5,453.6 173.6,450.6 173.6,447.6 173.7,444.6 173.8,441.6 173.8,438.6 173.9,435.6 174,432.6 174,429.6 174.1,426.6 174.2,423.6 174.2,420.6 174.3,417.6 174.4,414.6 174.4,411.6 174.5,408.6 174.5,405.6 174.4,402.6 174.4,399.6"/>
<polygon fill="#0af08c" points="170.5,399.6 170.3,402.6 170.2,405.6 170.1,408.6 170,411.6 169.9,414.6 169.9,417.6 169.9,420.6 169.8,423.6 169.8,426.6 169.8,429.6 169.7,432.6 169.7,435.6 169.7,438.6 169.6,441.6 169.6,444.6 169.6,447.6 169.5,450.6 169.5,453.6 169.5,456.6 169.5,459.6 169.5,462.6 169.5,465.6 169.5,468.6 169.5,471.6 169.5,474.6 169.5,477.6 169.5,480.6 169.5,483.6 169.4,486.6 169.4,489.6 169.4,492.6 169.4,495.6 169.4,498.6 169.4,501.6 169.4,504.6 169.4,507.6 169.5,510.6 169.5,513.6 169.5,516.6 169.5,519.6 169.5,522.6 169.5,525.6 169.5,528.6 169.5,531.6 169.5,534.6 169.6,537.6 169.7,540.6 169.8,543.6 169.8,543.6 170,540.6 170.2,537.6 170.4,534.6 170.5,531.6 170.7,528.6 170.8,525.6 170.9,522.6 171,519.6 171.1,516.6 171.2,513.6 171.3,510.6 171.4,507.6 171.5,504.6 171.6,501.6 171.7,498.6 171.8,495.6 171.9,492.6 172,489.6 172.1,486.6 172.2,483.6 172.3,480.6 172.4,477.6 172.4,474.6 172.5,471.6 172.6,468.6 172.7,465.6 172.8,462.6 172.9,459.6 173,456.6 173.1,453.6 173.2,450.6 173.2,447.6 173.3,444.6 173.4,441.6 173.4,438.6 173.5,435.6 173.6,432.6 173.6,429.6 173.7,426.6 173.8,423.6 173.8,420.6 173.9,417.6 174,414.6 174,411.6 174,408.6 174,405.6 174,402.6 173.9,399.6"/>
<polygon fill="#3cf032" points="170.9,399.6 170.7,402.6 170.5,405.6 170.4,408.6 170.3,411.6 170.3,414.6 170.2,417.6 170.2,420.6 170.2,423.6 170.1,426.6 170.1,429.6 170.1,432.6 170,435.6 170,438.6 170,441.6 169.9,444.6 169.9,447.6 169.9,450.6 169.8,453.6 169.8,456.6 169.8,459.6 169.8,462.6 169.8,465.6 169.8,468.6 169.8,471.6 169.8,474.6 169.8,477.6 169.8,480.6 169.8,483.6 169.8,486.6 169.8,489.6 169.8,492.6 169.9,495.6 169.9,498.6 169.9,501.6 169.9,504.6 170,507.6 170.1,510.6 170.2,513.6 170.3,516.6 170.3,516.6 170.4,513.6 170.6,510.6 170.8,507.6 171,504.6 171.1,501.6 171.3,498.6 171.4,495.6 171.5,492.6 171.6,489.6 171.7,486.6 171.8,483.6 171.9,480.6 172,477.6 172.1,474.6 172.2,471.6 172.3,468.6 172.4,465.6 172.5,462.6 172.6,459.6 172.7,456.6 172.8,453.6 172.9,450.6 172.9,447.6 173,444.6 173.1,441.6 173.1,438.6 173.2,435.6 173.3,432.6 173.3,429.6 173.4,426.6 173.4,423.6 173.5,420.6 173.6,417.6 173.6,414.6 173.7,411.6 173.7,408.6 173.7,405.6 173.6,402.6 173.5,399.6"/>
<polygon fill="#a5f500" points="171.4,399.6 171.1,402.6 170.9,405.6 170.7,408.6 170.7,411.6 170.6,414.6 170.5,417.6 170.5,420.6 170.5,423.6 170.4,426.6 170.4,429.6 170.4,432.6 170.3,435.6 170.3,438.6 170.3,441.6 170.2,444.6 170.2,447.6 170.2,450.6 170.2,453.6 170.2,456.6 170.2,459.6 170.2,462.6 170.2,465.6 170.2,468.6 170.2,471.6 170.2,474.6 170.2,477.6 170.3,480.6 170.3,483.6 170.3,486.6 170.4,489.6 170.7,492.6 170.7,492.6 171,489.6 171.2,486.6 171.3,483.6 171.4,480.6 171.6,477.6 171.7,474.6 171.8,471.6 171.9,468.6 172.1,465.6 172.2,462.6 172.3,459.6 172.4,456.6 172.5,453.6 172.6,450.6 172.6,447.6 172.7,444.6 172.7,441.6 172.8,438.6 172.9,435.6 172.9,432.6 173,429.6 173.1,426.6 173.1,423.6 173.2,420.6 173.3,417.6 173.3,414.6 173.3,411.6 173.4,408.6 173.3,405.6 173.2,402.6 173,399.6"/>
<polygon fill="#e6f000" points="172.2,399.6 171.7,402.6 171.3,405.6 171.1,408.6 171,411.6 170.9,414.6 170.9,417.6 170.8,420.6 170.8,423.6 170.7,426.6 170.7,429.6 170.7,432.6 170.6,435.6 170.6,438.6 170.6,441.6 170.5,444.6 170.5,447.6 170.5,450.6 170.5,453.6 170.5,456.6 170.5,459.6 170.5,462.6 170.6,465.6 170.6,468.6 170.7,471.6 171,474.6 171,474.6 171.3,471.6 171.5,468.6 171.7,465.6 171.8,462.6 171.9,459.6 172,456.6 172.1,453.6 172.2,450.6 172.3,447.6 172.4,444.6 172.4,441.6 172.5,438.6 172.6,435.6 172.6,432.6 172.7,429.6 172.8,426.6 172.8,423.6 172.9,420.6 173,417.6 173,414.6 173,411.6 173,408.6 172.9,405.6 172.6,402.6 172.2,399.6"/>
<polygon fill="#ffcd00" points="172.1,405.6 171.5,408.6 171.4,411.6 171.2,414.6 171.2,417.6 171.2,420.6 171.1,423.6 171.1,426.6 171.1,429.6 171,432.6 171,435.6 171,438.6 170.9,441.6 170.9,444.6 170.9,447.6 170.8,450.6 170.9,453.6 171,456.6 171.2,459.6 171.2,459.6 171.5,456.6 171.7,453.6 171.9,450.6 172,447.6 172,444.6 172.1,441.6 172.1,438.6 172.2,435.6 172.3,432.6 172.3,429.6 172.4,426.6 172.5,423.6 172.5,420.6 172.6,417.6 172.7,414.6 172.6,411.6 172.6,408.6 172.1,405.6"/>
<polygon fill="#00ebcd" points="176.5,399.6 176.4,402.6 176.2,405.6 176.1,408.6 176,411.6 176,414.6 175.9,417.6 175.9,420.6 175.9,423.6 175.8,426.6 175.8,429.6 175.7,432.6 175.7,435.6 175.7,438.6 175.6,441.6 175.6,444.6 175.5,447.6 175.5,450.6 175.5,453.6 175.5,456.6 175.4,459.6 175.4,462.6 175.4,465.6 175.4,468.6 175.4,471.6 175.3,474.6 175.3,477.6 175.3,480.6 175.3,483.6 175.2,486.6 175.2,489.6 175.2,492.6 175.2,495.6 175.1,498.6 175.1,501.6 175.1,504.6 175.1,507.6 175.1,510.6 175,513.6 175,516.6 175,519.6 175,522.6 175,525.6 175,528.6 174.9,531.6 174.9,534.6 174.9,537.6 174.9,540.6 174.9,543.6 174.9,544.8 176.7,544.8 176.7,543.6 176.8,540.6 177,537.6 177.1,534.6 177.2,531.6 177.3,528.6 177.4,525.6 177.5,522.6 177.6,519.6 177.7,516.6 177.8,513.6 177.9,510.6 178,507.6 178.1,504.6 178.2,501.6 178.3,498.6 178.4,495.6 178.5,492.6 178.6,489.6 178.7,486.6 178.8,483.6 178.9,480.6 179,477.6 179.1,474.6 179.2,471.6 179.3,468.6 179.4,465.6 179.5,462.6 179.6,459.6 179.7,456.6 179.8,453.6 179.9,450.6 179.9,447.6 180,444.6 180.1,441.6 180.2,438.6 180.3,435.6 180.3,432.6 180.4,429.6 180.5,426.6 180.6,423.6 180.7,420.6 180.7,417.6 180.8,414.6 180.9,411.6 180.9,408.6 180.9,405.6 180.9,402.6 180.9,399.6"/>
<polygon fill="#0af08c" points="177,399.6 176.8,402.6 176.7,405.6 176.6,408.6 176.5,411.6 176.4,414.6 176.4,417.6 176.3,420.6 176.3,423.6 176.2,426.6 176.2,429.6 176.2,432.6 176.1,435.6 176.1,438.6 176,441.6 176,444.6 176,447.6 175.9,450.6 175.9,453.6 175.9,456.6 175.9,459.6 175.8,462.6 175.8,465.6 175.8,468.6 175.8,471.6 175.8,474.6 175.8,477.6 175.7,480.6 175.7,483.6 175.7,486.6 175.7,489.6 175.7,492.6 175.6,495.6 175.6,498.6 175.6,501.6 175.6,504.6 175.6,507.6 175.6,510.6 175.6,513.6 175.6,516.6 175.6,519.6 175.6,522.6 175.6,525.6 175.6,528.6 175.6,531.6 175.7,534.6 175.8,537.6 175.9,540.6 175.9,540.6 176.1,537.6 176.3,534.6 176.5,531.6 176.7,528.6 176.8,525.6 176.9,522.6 177.1,519.6 177.2,516.6 177.3,513.6 177.4,510.6 177.5,507.6 177.6,504.6 177.7,501.6 177.8,498.6 177.9,495.6 178,492.6 178.1,489.6 178.2,486.6 178.3,483.6 178.4,480.6 178.5,477.6 178.6,474.6 178.7,471.6 178.8,468.6 178.9,465.6 179.1,462.6 179.2,459.6 179.2,456.6 179.3,453.6 179.4,450.6 179.5,447.6 179.6,444.6 179.7,441.6 179.8,438.6 179.8,435.6 179.9,432.6 180,429.6 180.1,426.6 180.2,423.6 180.2,420.6 180.3,417.6 180.4,414.6 180.4,411.6 180.5,408.6 180.5,405.6 180.4,402.6 180.4,399.6"/>
<polygon fill="#3cf032" points="177.4,399.6 177.2,402.6 177,405.6 176.9,408.6 176.8,411.6 176.7,414.6 176.7,417.6 176.6,420.6 176.6,423.6 176.6,426.6 176.5,429.6 176.5,432.6 176.4,435.6 176.4,438.6 176.4,441.6 176.3,444.6 176.3,447.6 176.2,450.6 176.2,453.6 176.2,456.6 176.2,459.6 176.2,462.6 176.2,465.6 176.1,468.6 176.1,471.6 176.1,474.6 176.1,477.6 176.1,480.6 176.1,483.6 176.1,486.6 176.1,489.6 176.1,492.6 176.1,495.6 176.1,498.6 176.1,501.6 176.1,504.6 176.1,507.6 176.2,510.6 176.4,513.6 176.4,513.6 176.8,510.6 176.9,507.6 177.1,504.6 177.2,501.6 177.4,498.6 177.5,495.6 177.6,492.6 177.7,489.6 177.8,486.6 177.9,483.6 178,480.6 178.2,477.6 178.3,474.6 178.4,471.6 178.5,468.6 178.6,465.6 178.7,462.6 178.8,459.6 178.9,456.6 179,453.6 179.1,450.6 179.2,447.6 179.3,444.6 179.4,441.6 179.4,438.6 179.5,435.6 179.6,432.6 179.7,429.6 179.8,426.6 179.8,423.6 179.9,420.6 180,417.6 180.1,414.6 180.1,411.6 180.1,408.6 180.1,405.6 180.1,402.6 180,399.6"/>
<polygon fill="#a5f500" points="177.9,399.6 177.6,402.6 177.4,405.6 177.2,408.6 177.1,411.6 177.1,414.6 177,417.6 177,420.6 176.9,423.6 176.9,426.6 176.8,429.6 176.8,432.6 176.8,435.6 176.7,438.6 176.7,441.6 176.6,444.6 176.6,447.6 176.6,450.6 176.5,453.6 176.5,456.6 176.5,459.6 176.5,462.6 176.5,465.6 176.5,468.6 176.5,471.6 176.6,474.6 176.6,477.6 176.6,480.6 176.7,483.6 176.7,486.6 176.9,489.6 176.9,489.6 177.2,486.6 177.4,483.6 177.5,480.6 177.7,477.6 177.9,474.6 178,471.6 178.1,468.6 178.2,465.6 178.4,462.6 178.5,459.6 178.6,456.6 178.7,453.6 178.8,450.6 178.9,447.6 179,444.6 179,441.6 179.1,438.6 179.2,435.6 179.3,432.6 179.4,429.6 179.4,426.6 179.5,423.6 179.6,420.6 179.7,417.6 179.7,414.6 179.8,411.6 179.8,408.6 179.7,405.6 179.6,402.6 179.5,399.6"/>
<polygon fill="#e6f000" points="178.7,399.6 178.2,402.6 177.8,405.6 177.6,408.6 177.5,411.6 177.4,414.6 177.3,417.6 177.3,420.6 177.2,423.6 177.2,426.6 177.2,429.6 177.1,432.6 177.1,435.6 177,438.6 177,441.6 177,444.6 176.9,447.6 176.9,450.6 176.9,453.6 176.9,456.6 176.9,459.6 177,462.6 177,465.6 177.1,468.6 177.3,471.6 177.3,471.6 177.5,468.6 177.8,465.6 177.9,462.6 178.1,459.6 178.2,456.6 178.3,453.6 178.5,450.6 178.6,447.6 178.6,444.6 178.7,441.6 178.8,438.6 178.9,435.6 179,432.6 179,429.6 179.1,426.6 179.2,423.6 179.3,420.6 179.4,417.6 179.4,414.6 179.4,411.6 179.4,408.6 179.3,405.6 179.1,402.6 178.7,399.6"/>
<polygon fill="#ffcd00" points="178.6,405.6 178,408.6 177.9,411.6 177.7,414.6 177.7,417.6 177.7,420.6 177.6,423.6 177.6,426.6 177.5,429.6 177.5,432.6 177.5,435.6 177.5,438.6 177.4,441.6 177.4,444.6 177.4,447.6 177.4,450.6 177.5,453.6 177.6,456.6 177.6,456.6 177.7,453.6 178,450.6 178.1,447.6 178.2,444.6 178.3,441.6 178.4,438.6 178.5,435.6 178.6,432.6 178.7,429.6 178.7,426.6 178.8,423.6 178.9,420.6 179,417.6 179.1,414.6 179,411.6 179,408.6 178.6,405.6"/>
</g>
<polygon fill="#fff" points="153.1,398.6 155.1,398.6 153,480 153,480"/>
<polygon fill="#fff" points="161.6,398.6 162.4,398.6 161.6,430 161.6,430"/>
</g>
<g filter="url(#bl)">
<polygon fill="#00def0" points="217,399.7 252.3,399.7 247.8,545.5 215,545.5"/>
<clipPath id="cp3"><polygon points="217,399.7 252.3,399.7 247.8,545.5 215,545.5"/></clipPath>
<g clip-path="url(#cp3)">
<line x1="236.2" y1="399.7" x2="235.8" y2="545.5" stroke="#a0f8ff" stroke-width="0.7" stroke-opacity="0.3"/>
<line x1="224" y1="399.7" x2="222.4" y2="545.5" stroke="#a0f8ff" stroke-width="0.7" stroke-opacity="0.3"/>
<polygon fill="#00c8f5" points="229.9,507.7 229.3,510.7 229,513.7 228.9,516.7 228.8,519.7 228.7,522.7 228.6,525.7 228.5,528.7 228.4,531.7 228.4,534.7 228.4,537.7 228.4,540.7 228.5,543.7 228.5,545.5 230.7,545.5 230.8,543.7 230.8,540.7 230.9,537.7 230.9,534.7 231,531.7 230.9,528.7 230.9,525.7 230.9,522.7 230.8,519.7 230.7,516.7 230.6,513.7 230.4,510.7 229.9,507.7"/>
<polygon fill="#0096fa" points="229.8,516.7 229.3,519.7 229.2,522.7 229,525.7 228.9,528.7 228.8,531.7 228.8,534.7 228.9,537.7 228.9,540.7 228.9,543.7 228.9,545.5 230.3,545.5 230.3,543.7 230.4,540.7 230.5,537.7 230.5,534.7 230.6,531.7 230.5,528.7 230.5,525.7 230.4,522.7 230.2,519.7 229.8,516.7"/>
<polygon fill="#0055f0" points="229.7,525.7 229.4,528.7 229.2,531.7 229.2,534.7 229.3,537.7 229.5,540.7 229.6,543.7 229.6,543.7 229.8,540.7 230,537.7 230.1,534.7 230.2,531.7 230.1,528.7 229.7,525.7"/>
<polygon fill="#00c8f5" points="242.8,513.7 242.2,516.7 242,519.7 241.9,522.7 241.7,525.7 241.6,528.7 241.5,531.7 241.5,534.7 241.4,537.7 241.4,540.7 241.5,543.7 241.5,545.5 243.7,545.5 243.8,543.7 243.8,540.7 243.9,537.7 243.9,534.7 243.8,531.7 243.8,528.7 243.7,525.7 243.6,522.7 243.5,519.7 243.4,516.7 242.8,513.7"/>
<polygon fill="#0096fa" points="242.8,522.7 242.4,525.7 242.2,528.7 242,531.7 241.9,534.7 241.8,537.7 241.9,540.7 241.9,543.7 241.9,545.5 243.3,545.5 243.3,543.7 243.4,540.7 243.5,537.7 243.5,534.7 243.4,531.7 243.3,528.7 243.1,525.7 242.8,522.7"/>
<polygon fill="#0055f0" points="242.7,531.7 242.4,534.7 242.3,537.7 242.4,540.7 242.6,543.7 242.6,543.7 242.9,540.7 243,537.7 243,534.7 242.7,531.7"/>
<polygon fill="#00c8f5" points="236.1,528.7 235.6,531.7 235.5,534.7 235.4,537.7 235.3,540.7 235.2,543.7 235.2,545.5 236.8,545.5 236.8,543.7 236.8,540.7 236.7,537.7 236.7,534.7 236.5,531.7 236.1,528.7"/>
<polygon fill="#00ebcd" points="218.1,399.7 218,402.7 217.9,405.7 217.8,408.7 217.8,411.7 217.8,414.7 217.7,417.7 217.7,420.7 217.7,423.7 217.7,426.7 217.7,429.7 217.7,432.7 217.7,435.7 217.6,438.7 217.6,441.7 217.6,444.7 217.6,447.7 217.6,450.7 217.7,453.7 217.7,456.7 217.7,459.7 217.7,462.7 217.6,465.7 217.6,468.7 217.6,471.7 217.6,474.7 217.6,477.7 217.6,480.7 217.6,483.7 217.5,486.7 217.5,489.7 217.5,492.7 217.5,495.7 217.5,498.7 217.5,501.7 217.5,504.7 217.6,507.7 217.6,510.7 217.6,513.7 217.6,516.7 217.7,519.7 217.7,522.7 217.7,525.7 217.7,528.7 217.7,531.7 217.7,534.7 217.7,537.7 217.7,540.7 217.7,543.7 217.7,545.5 219.9,545.5 219.9,543.7 220,540.7 220.1,537.7 220.1,534.7 220.2,531.7 220.3,528.7 220.3,525.7 220.4,522.7 220.5,519.7 220.5,516.7 220.6,513.7 220.7,510.7 220.8,507.7 220.9,504.7 221,501.7 221.1,498.7 221.1,495.7 221.2,492.7 221.2,489.7 221.3,486.7 221.3,483.7 221.4,480.7 221.4,477.7 221.5,474.7 221.5,471.7 221.6,468.7 221.6,465.7 221.6,462.7 221.7,459.7 221.8,456.7 221.8,453.7 221.9,450.7 222,447.7 222,444.7 222.1,441.7 222.2,438.7 222.2,435.7 222.3,432.7 222.3,429.7 222.4,426.7 222.4,423.7 222.4,420.7 222.5,417.7 222.5,414.7 222.6,411.7 222.6,408.7 222.6,405.7 222.5,402.7 222.5,399.7"/>
<polygon fill="#0af08c" points="218.6,399.7 218.5,402.7 218.4,405.7 218.3,408.7 218.2,411.7 218.2,414.7 218.2,417.7 218.1,420.7 218.1,423.7 218.1,426.7 218.1,429.7 218.1,432.7 218.1,435.7 218,438.7 218,441.7 218.1,444.7 218.1,447.7 218.1,450.7 218.1,453.7 218.1,456.7 218.1,459.7 218.1,462.7 218.1,465.7 218,468.7 218,471.7 218,474.7 218,477.7 218,480.7 218,483.7 218,486.7 217.9,489.7 217.9,492.7 217.9,495.7 217.9,498.7 217.9,501.7 217.9,504.7 218,507.7 218,510.7 218.1,513.7 218.1,516.7 218.1,519.7 218.1,522.7 218.2,525.7 218.2,528.7 218.2,531.7 218.2,534.7 218.3,537.7 218.3,540.7 218.3,543.7 218.4,545.5 219.2,545.5 219.3,543.7 219.4,540.7 219.5,537.7 219.6,534.7 219.7,531.7 219.8,528.7 219.8,525.7 219.9,522.7 220,519.7 220.1,516.7 220.2,513.7 220.3,510.7 220.4,507.7 220.5,504.7 220.6,501.7 220.7,498.7 220.7,495.7 220.8,492.7 220.8,489.7 220.9,486.7 220.9,483.7 220.9,480.7 221,477.7 221,474.7 221.1,471.7 221.1,468.7 221.2,465.7 221.2,462.7 221.3,459.7 221.3,456.7 221.4,453.7 221.5,450.7 221.6,447.7 221.6,444.7 221.7,441.7 221.7,438.7 221.8,435.7 221.8,432.7 221.9,429.7 221.9,426.7 222,423.7 222,420.7 222.1,417.7 222.1,414.7 222.1,411.7 222.1,408.7 222.1,405.7 222.1,402.7 222,399.7"/>
<polygon fill="#3cf032" points="219,399.7 218.9,402.7 218.7,405.7 218.7,408.7 218.6,411.7 218.5,414.7 218.5,417.7 218.5,420.7 218.5,423.7 218.4,426.7 218.4,429.7 218.4,432.7 218.4,435.7 218.4,438.7 218.4,441.7 218.4,444.7 218.4,447.7 218.4,450.7 218.4,453.7 218.4,456.7 218.4,459.7 218.4,462.7 218.4,465.7 218.4,468.7 218.4,471.7 218.4,474.7 218.3,477.7 218.3,480.7 218.3,483.7 218.3,486.7 218.3,489.7 218.3,492.7 218.2,495.7 218.2,498.7 218.2,501.7 218.3,504.7 218.4,507.7 218.4,510.7 218.6,513.7 218.6,516.7 218.7,519.7 218.8,522.7 218.9,525.7 219,528.7 219,528.7 219.1,525.7 219.3,522.7 219.4,519.7 219.6,516.7 219.7,513.7 219.9,510.7 220,507.7 220.1,504.7 220.3,501.7 220.3,498.7 220.4,495.7 220.4,492.7 220.5,489.7 220.5,486.7 220.6,483.7 220.6,480.7 220.7,477.7 220.7,474.7 220.7,471.7 220.8,468.7 220.8,465.7 220.9,462.7 220.9,459.7 221,456.7 221.1,453.7 221.2,450.7 221.2,447.7 221.3,444.7 221.4,441.7 221.4,438.7 221.5,435.7 221.5,432.7 221.6,429.7 221.6,426.7 221.6,423.7 221.7,420.7 221.7,417.7 221.8,414.7 221.8,411.7 221.8,408.7 221.7,405.7 221.7,402.7 221.6,399.7"/>
<polygon fill="#a5f500" points="219.5,399.7 219.3,402.7 219.1,405.7 219,408.7 218.9,411.7 218.8,414.7 218.8,417.7 218.8,420.7 218.8,423.7 218.8,426.7 218.7,429.7 218.7,432.7 218.7,435.7 218.7,438.7 218.7,441.7 218.7,444.7 218.7,447.7 218.7,450.7 218.8,453.7 218.8,456.7 218.8,459.7 218.8,462.7 218.8,465.7 218.8,468.7 218.8,471.7 218.7,474.7 218.7,477.7 218.7,480.7 218.7,483.7 218.7,486.7 218.7,489.7 218.6,492.7 218.6,495.7 218.6,498.7 218.6,501.7 218.8,504.7 219,507.7 219.2,510.7 219.2,510.7 219.4,507.7 219.7,504.7 219.9,501.7 220,498.7 220,495.7 220,492.7 220.1,489.7 220.1,486.7 220.2,483.7 220.2,480.7 220.3,477.7 220.3,474.7 220.4,471.7 220.4,468.7 220.5,465.7 220.5,462.7 220.6,459.7 220.6,456.7 220.7,453.7 220.8,450.7 220.9,447.7 221,444.7 221.1,441.7 221.1,438.7 221.2,435.7 221.2,432.7 221.2,429.7 221.3,426.7 221.3,423.7 221.4,420.7 221.4,417.7 221.4,414.7 221.4,411.7 221.4,408.7 221.3,405.7 221.2,402.7 221.1,399.7"/>
<polygon fill="#e6f000" points="220.3,399.7 219.9,402.7 219.6,405.7 219.4,408.7 219.3,411.7 219.2,414.7 219.2,417.7 219.1,420.7 219.1,423.7 219.1,426.7 219.1,429.7 219,432.7 219,435.7 219,438.7 219,441.7 219,444.7 219.1,447.7 219.1,450.7 219.2,453.7 219.2,456.7 219.3,459.7 219.3,462.7 219.3,465.7 219.3,468.7 219.3,471.7 219.3,474.7 219.3,477.7 219.3,480.7 219.3,483.7 219.4,486.7 219.4,486.7 219.6,483.7 219.6,480.7 219.7,477.7 219.8,474.7 219.8,471.7 219.9,468.7 219.9,465.7 220,462.7 220.1,459.7 220.2,456.7 220.3,453.7 220.4,450.7 220.5,447.7 220.6,444.7 220.7,441.7 220.8,438.7 220.8,435.7 220.9,432.7 220.9,429.7 221,426.7 221,423.7 221,420.7 221.1,417.7 221.1,414.7 221.1,411.7 221,408.7 220.9,405.7 220.6,402.7 220.3,399.7"/>
<polygon fill="#ffcd00" points="220.2,405.7 220.1,408.7 219.8,411.7 219.6,414.7 219.5,417.7 219.5,420.7 219.5,423.7 219.5,426.7 219.5,429.7 219.4,432.7 219.4,435.7 219.4,438.7 219.4,441.7 219.5,444.7 219.7,447.7 219.8,450.7 219.8,450.7 219.9,447.7 220.2,444.7 220.3,441.7 220.4,438.7 220.4,435.7 220.5,432.7 220.5,429.7 220.6,426.7 220.6,423.7 220.6,420.7 220.7,417.7 220.7,414.7 220.6,411.7 220.3,408.7 220.2,405.7"/>
<polygon fill="#00ebcd" points="226.6,399.7 226.3,402.7 226.1,405.7 226.1,408.7 226,411.7 225.9,414.7 225.9,417.7 225.8,420.7 225.8,423.7 225.7,426.7 225.7,429.7 225.6,432.7 225.6,435.7 225.5,438.7 225.5,441.7 225.5,444.7 225.4,447.7 225.4,450.7 225.3,453.7 225.3,456.7 225.3,459.7 225.2,462.7 225.2,465.7 225.2,468.7 225.1,471.7 225.1,474.7 225.1,477.7 225,480.7 225,483.7 224.9,486.7 224.9,489.7 224.9,492.7 224.8,495.7 224.8,498.7 224.7,501.7 224.7,504.7 224.7,507.7 224.6,510.7 224.6,513.7 224.6,516.7 224.6,519.7 224.5,522.7 224.5,525.7 224.5,528.7 224.5,531.7 224.5,534.7 224.5,537.7 224.5,540.7 224.5,543.7 224.5,545.5 226.7,545.5 226.8,543.7 226.9,540.7 227.1,537.7 227.2,534.7 227.3,531.7 227.4,528.7 227.5,525.7 227.7,522.7 227.8,519.7 227.9,516.7 228,513.7 228.1,510.7 228.2,507.7 228.3,504.7 228.4,501.7 228.5,498.7 228.6,495.7 228.7,492.7 228.8,489.7 228.8,486.7 228.9,483.7 229,480.7 229.1,477.7 229.2,474.7 229.3,471.7 229.4,468.7 229.5,465.7 229.6,462.7 229.7,459.7 229.8,456.7 229.9,453.7 230,450.7 230.1,447.7 230.2,444.7 230.3,441.7 230.3,438.7 230.4,435.7 230.5,432.7 230.6,429.7 230.7,426.7 230.8,423.7 230.8,420.7 230.9,417.7 231,414.7 231.1,411.7 231.1,408.7 231.2,405.7 231.1,402.7 231,399.7"/>
<polygon fill="#0af08c" points="227.1,399.7 226.8,402.7 226.6,405.7 226.5,408.7 226.4,411.7 226.3,414.7 226.3,417.7 226.2,420.7 226.2,423.7 226.1,426.7 226.1,429.7 226,432.7 226,435.7 225.9,438.7 225.9,441.7 225.8,444.7 225.8,447.7 225.7,450.7 225.7,453.7 225.7,456.7 225.6,459.7 225.6,462.7 225.6,465.7 225.6,468.7 225.5,471.7 225.5,474.7 225.4,477.7 225.4,480.7 225.4,483.7 225.3,486.7 225.3,489.7 225.2,492.7 225.2,495.7 225.2,498.7 225.1,501.7 225.1,504.7 225,507.7 225,510.7 225,513.7 225,516.7 225,519.7 225,522.7 224.9,525.7 224.9,528.7 225,531.7 225,534.7 225,537.7 225,540.7 225,543.7 225.1,545.5 226.1,545.5 226.2,543.7 226.4,540.7 226.6,537.7 226.7,534.7 226.9,531.7 227,528.7 227.1,525.7 227.2,522.7 227.4,519.7 227.5,516.7 227.6,513.7 227.7,510.7 227.8,507.7 227.9,504.7 228,501.7 228.1,498.7 228.2,495.7 228.3,492.7 228.4,489.7 228.5,486.7 228.6,483.7 228.6,480.7 228.7,477.7 228.8,474.7 228.9,471.7 229,468.7 229.1,465.7 229.2,462.7 229.3,459.7 229.4,456.7 229.5,453.7 229.6,450.7 229.7,447.7 229.8,444.7 229.9,441.7 230,438.7 230,435.7 230.1,432.7 230.2,429.7 230.3,426.7 230.4,423.7 230.4,420.7 230.5,417.7 230.6,414.7 230.7,411.7 230.7,408.7 230.8,405.7 230.7,402.7 230.5,399.7"/>
<polygon fill="#3cf032" points="227.5,399.7 227.1,402.7 226.9,405.7 226.8,408.7 226.7,411.7 226.6,414.7 226.6,417.7 226.5,420.7 226.5,423.7 226.4,426.7 226.4,429.7 226.3,432.7 226.3,435.7 226.2,438.7 226.2,441.7 226.1,444.7 226.1,447.7 226,450.7 226,453.7 226,456.7 225.9,459.7 225.9,462.7 225.9,465.7 225.9,468.7 225.8,471.7 225.8,474.7 225.7,477.7 225.7,480.7 225.7,483.7 225.6,486.7 225.6,489.7 225.5,492.7 225.5,495.7 225.5,498.7 225.4,501.7 225.4,504.7 225.3,507.7 225.3,510.7 225.3,513.7 225.3,516.7 225.3,519.7 225.3,522.7 225.3,525.7 225.4,528.7 225.4,531.7 225.5,534.7 225.8,537.7 225.8,537.7 226.2,534.7 226.4,531.7 226.6,528.7 226.7,525.7 226.9,522.7 227,519.7 227.2,516.7 227.3,513.7 227.4,510.7 227.5,507.7 227.6,504.7 227.7,501.7 227.8,498.7 227.9,495.7 228,492.7 228.1,489.7 228.2,486.7 228.3,483.7 228.3,480.7 228.4,477.7 228.5,474.7 228.6,471.7 228.7,468.7 228.8,465.7 228.9,462.7 229,459.7 229.1,456.7 229.2,453.7 229.3,450.7 229.4,447.7 229.5,444.7 229.6,441.7 229.7,438.7 229.7,435.7 229.8,432.7 229.9,429.7 230,426.7 230.1,423.7 230.2,420.7 230.2,417.7 230.3,414.7 230.4,411.7 230.4,408.7 230.5,405.7 230.3,402.7 230.1,399.7"/>
<polygon fill="#a5f500" points="228,399.7 227.5,402.7 227.2,405.7 227.1,408.7 227,411.7 226.9,414.7 226.9,417.7 226.8,420.7 226.8,423.7 226.7,426.7 226.7,429.7 226.6,432.7 226.6,435.7 226.5,438.7 226.4,441.7 226.4,444.7 226.3,447.7 226.3,450.7 226.3,453.7 226.2,456.7 226.2,459.7 226.2,462.7 226.2,465.7 226.2,468.7 226.1,471.7 226.1,474.7 226.1,477.7 226,480.7 226,483.7 225.9,486.7 225.9,489.7 225.9,492.7 225.8,495.7 225.8,498.7 225.8,501.7 225.7,504.7 225.7,507.7 225.7,510.7 225.7,513.7 225.7,516.7 225.8,519.7 225.9,522.7 226,525.7 226,525.7 226.3,522.7 226.5,519.7 226.7,516.7 226.9,513.7 227.1,510.7 227.2,507.7 227.3,504.7 227.4,501.7 227.5,498.7 227.6,495.7 227.7,492.7 227.8,489.7 227.8,486.7 227.9,483.7 228,480.7 228.1,477.7 228.2,474.7 228.3,471.7 228.4,468.7 228.5,465.7 228.6,462.7 228.7,459.7 228.9,456.7 229,453.7 229.1,450.7 229.2,447.7 229.2,444.7 229.3,441.7 229.4,438.7 229.5,435.7 229.5,432.7 229.6,429.7 229.7,426.7 229.8,423.7 229.9,420.7 229.9,417.7 230,414.7 230.1,411.7 230.1,408.7 230.1,405.7 230,402.7 229.6,399.7"/>
<polygon fill="#e6f000" points="228.8,399.7 227.9,402.7 227.5,405.7 227.4,408.7 227.2,411.7 227.2,414.7 227.1,417.7 227.1,420.7 227,423.7 227,426.7 226.9,429.7 226.9,432.7 226.8,435.7 226.8,438.7 226.7,441.7 226.7,444.7 226.6,447.7 226.6,450.7 226.5,453.7 226.5,456.7 226.5,459.7 226.5,462.7 226.5,465.7 226.5,468.7 226.4,471.7 226.4,474.7 226.4,477.7 226.3,480.7 226.3,483.7 226.3,486.7 226.3,489.7 226.2,492.7 226.2,495.7 226.2,498.7 226.2,501.7 226.2,504.7 226.2,507.7 226.4,510.7 226.4,510.7 226.7,507.7 226.8,504.7 227,501.7 227.1,498.7 227.2,495.7 227.3,492.7 227.4,489.7 227.5,486.7 227.6,483.7 227.7,480.7 227.8,477.7 227.9,474.7 228,471.7 228.1,468.7 228.2,465.7 228.4,462.7 228.5,459.7 228.6,456.7 228.7,453.7 228.8,450.7 228.9,447.7 229,444.7 229.1,441.7 229.1,438.7 229.2,435.7 229.3,432.7 229.4,429.7 229.4,426.7 229.5,423.7 229.6,420.7 229.7,417.7 229.8,414.7 229.8,411.7 229.8,408.7 229.8,405.7 229.6,402.7 228.8,399.7"/>
<polygon fill="#ffcd00" points="228.8,399.7 228.4,402.7 227.8,405.7 227.6,408.7 227.5,411.7 227.4,414.7 227.4,417.7 227.3,420.7 227.3,423.7 227.2,426.7 227.2,429.7 227.1,432.7 227.1,435.7 227,438.7 227,441.7 226.9,444.7 226.9,447.7 226.8,450.7 226.8,453.7 226.8,456.7 226.8,459.7 226.8,462.7 226.8,465.7 226.8,468.7 226.9,471.7 226.8,474.7 226.9,477.7 226.9,480.7 227,483.7 227,483.7 227.1,480.7 227.3,477.7 227.5,474.7 227.6,471.7 227.7,468.7 227.9,465.7 228,462.7 228.2,459.7 228.3,456.7 228.4,453.7 228.5,450.7 228.6,447.7 228.7,444.7 228.8,441.7 228.9,438.7 228.9,435.7 229,432.7 229.1,429.7 229.2,426.7 229.3,423.7 229.3,420.7 229.4,417.7 229.5,414.7 229.6,411.7 229.6,408.7 229.5,405.7 229,402.7 228.8,399.7"/>
<polygon fill="#ff9100" points="228.7,402.7 228.2,405.7 228,408.7 227.8,411.7 227.7,414.7 227.7,417.7 227.6,420.7 227.6,423.7 227.5,426.7 227.5,429.7 227.4,432.7 227.4,435.7 227.3,438.7 227.3,441.7 227.2,444.7 227.2,447.7 227.1,450.7 227.1,453.7 227.2,456.7 227.2,459.7 227.4,462.7 227.4,462.7 227.7,459.7 227.9,456.7 228.1,453.7 228.2,450.7 228.3,447.7 228.4,444.7 228.5,441.7 228.6,438.7 228.7,435.7 228.7,432.7 228.8,429.7 228.9,426.7 229,423.7 229,420.7 229.1,417.7 229.2,414.7 229.3,411.7 229.2,408.7 229.1,405.7 228.7,402.7"/>
<polygon fill="#ff5500" points="228.6,408.7 228.2,411.7 228.1,414.7 228,417.7 228,420.7 228,423.7 227.9,426.7 227.9,429.7 227.8,432.7 227.8,435.7 227.7,438.7 227.7,441.7 227.7,444.7 227.7,447.7 227.7,450.7 227.7,450.7 227.8,447.7 228,444.7 228.1,441.7 228.1,438.7 228.2,435.7 228.3,432.7 228.4,429.7 228.5,426.7 228.6,423.7 228.7,420.7 228.8,417.7 228.9,414.7 228.9,411.7 228.6,408.7"/>
<polygon fill="#00ebcd" points="234.1,399.7 233.8,402.7 233.7,405.7 233.6,408.7 233.5,411.7 233.4,414.7 233.4,417.7 233.4,420.7 233.3,423.7 233.3,426.7 233.2,429.7 233.2,432.7 233.2,435.7 233.1,438.7 233.1,441.7 233.1,444.7 233,447.7 233,450.7 233,453.7 232.9,456.7 232.9,459.7 232.9,462.7 232.8,465.7 232.8,468.7 232.8,471.7 232.7,474.7 232.7,477.7 232.7,480.7 232.7,483.7 232.6,486.7 232.6,489.7 232.6,492.7 232.6,495.7 232.6,498.7 232.5,501.7 232.5,504.7 232.5,507.7 232.4,510.7 232.4,513.7 232.4,516.7 232.3,519.7 232.3,522.7 232.3,525.7 232.3,528.7 232.2,531.7 232.2,534.7 232.2,537.7 232.2,540.7 232.1,543.7 232.1,545.5 233.9,545.5 233.9,543.7 234.1,540.7 234.2,537.7 234.3,534.7 234.4,531.7 234.5,528.7 234.6,525.7 234.7,522.7 234.8,519.7 234.9,516.7 235,513.7 235.1,510.7 235.2,507.7 235.3,504.7 235.4,501.7 235.6,498.7 235.7,495.7 235.8,492.7 235.9,489.7 236,486.7 236.1,483.7 236.2,480.7 236.3,477.7 236.5,474.7 236.6,471.7 236.7,468.7 236.8,465.7 236.9,462.7 237,459.7 237.1,456.7 237.2,453.7 237.3,450.7 237.4,447.7 237.5,444.7 237.6,441.7 237.7,438.7 237.8,435.7 237.9,432.7 238,429.7 238.1,426.7 238.2,423.7 238.3,420.7 238.4,417.7 238.5,414.7 238.6,411.7 238.6,408.7 238.7,405.7 238.6,402.7 238.5,399.7"/>
<polygon fill="#0af08c" points="234.6,399.7 234.3,402.7 234.1,405.7 234,408.7 233.9,411.7 233.8,414.7 233.8,417.7 233.8,420.7 233.7,423.7 233.7,426.7 233.6,429.7 233.6,432.7 233.6,435.7 233.5,438.7 233.5,441.7 233.5,444.7 233.5,447.7 233.4,450.7 233.4,453.7 233.4,456.7 233.3,459.7 233.3,462.7 233.3,465.7 233.2,468.7 233.2,471.7 233.2,474.7 233.2,477.7 233.1,480.7 233.1,483.7 233.1,486.7 233.1,489.7 233.1,492.7 233.1,495.7 233.1,498.7 233.1,501.7 233,504.7 233,507.7 233,510.7 233,513.7 233,516.7 232.9,519.7 232.9,522.7 232.9,525.7 233,528.7 233,531.7 233.1,534.7 233.2,537.7 233.2,537.7 233.4,534.7 233.6,531.7 233.8,528.7 234,525.7 234.1,522.7 234.2,519.7 234.3,516.7 234.5,513.7 234.6,510.7 234.7,507.7 234.8,504.7 234.9,501.7 235,498.7 235.2,495.7 235.3,492.7 235.4,489.7 235.6,486.7 235.7,483.7 235.8,480.7 235.9,477.7 236,474.7 236.1,471.7 236.2,468.7 236.3,465.7 236.4,462.7 236.6,459.7 236.7,456.7 236.8,453.7 236.9,450.7 237,447.7 237.1,444.7 237.2,441.7 237.3,438.7 237.4,435.7 237.5,432.7 237.6,429.7 237.7,426.7 237.8,423.7 237.9,420.7 238,417.7 238.1,414.7 238.2,411.7 238.2,408.7 238.2,405.7 238.2,402.7 238,399.7"/>
<polygon fill="#3cf032" points="235,399.7 234.7,402.7 234.4,405.7 234.3,408.7 234.2,411.7 234.1,414.7 234.1,417.7 234.1,420.7 234,423.7 234,426.7 233.9,429.7 233.9,432.7 233.9,435.7 233.9,438.7 233.8,441.7 233.8,444.7 233.8,447.7 233.8,450.7 233.7,453.7 233.7,456.7 233.7,459.7 233.6,462.7 233.6,465.7 233.6,468.7 233.6,471.7 233.6,474.7 233.5,477.7 233.5,480.7 233.5,483.7 233.5,486.7 233.5,489.7 233.6,492.7 233.6,495.7 233.7,498.7 233.8,501.7 233.9,504.7 233.9,504.7 234.2,501.7 234.4,498.7 234.7,495.7 234.8,492.7 235,489.7 235.1,486.7 235.3,483.7 235.4,480.7 235.5,477.7 235.7,474.7 235.8,471.7 235.9,468.7 236,465.7 236.1,462.7 236.2,459.7 236.3,456.7 236.4,453.7 236.5,450.7 236.6,447.7 236.8,444.7 236.9,441.7 237,438.7 237.1,435.7 237.2,432.7 237.3,429.7 237.4,426.7 237.5,423.7 237.6,420.7 237.7,417.7 237.8,414.7 237.9,411.7 237.9,408.7 237.9,405.7 237.8,402.7 237.6,399.7"/>
<polygon fill="#a5f500" points="235.5,399.7 235,402.7 234.7,405.7 234.6,408.7 234.5,411.7 234.4,414.7 234.4,417.7 234.4,420.7 234.3,423.7 234.3,426.7 234.2,429.7 234.2,432.7 234.2,435.7 234.2,438.7 234.1,441.7 234.1,444.7 234.1,447.7 234.1,450.7 234.1,453.7 234.1,456.7 234,459.7 234,462.7 234,465.7 234,468.7 234,471.7 234,474.7 234,477.7 234.1,480.7 234.2,483.7 234.3,486.7 234.3,486.7 234.6,483.7 234.9,480.7 235,477.7 235.2,474.7 235.3,471.7 235.5,468.7 235.6,465.7 235.7,462.7 235.8,459.7 236,456.7 236.1,453.7 236.2,450.7 236.3,447.7 236.4,444.7 236.6,441.7 236.7,438.7 236.8,435.7 236.9,432.7 237,429.7 237.1,426.7 237.2,423.7 237.3,420.7 237.4,417.7 237.5,414.7 237.6,411.7 237.6,408.7 237.6,405.7 237.4,402.7 237.1,399.7"/>
<polygon fill="#e6f000" points="236.3,399.7 235.4,402.7 235,405.7 234.9,408.7 234.8,411.7 234.7,414.7 234.7,417.7 234.6,420.7 234.6,423.7 234.6,426.7 234.5,429.7 234.5,432.7 234.5,435.7 234.5,438.7 234.5,441.7 234.5,444.7 234.5,447.7 234.5,450.7 234.5,453.7 234.5,456.7 234.5,459.7 234.5,462.7 234.6,465.7 234.7,468.7 234.7,468.7 235,465.7 235.2,462.7 235.4,459.7 235.5,456.7 235.7,453.7 235.8,450.7 236,447.7 236.1,444.7 236.2,441.7 236.4,438.7 236.5,435.7 236.6,432.7 236.7,429.7 236.8,426.7 236.9,423.7 237,420.7 237.1,417.7 237.2,414.7 237.3,411.7 237.3,408.7 237.3,405.7 237,402.7 236.3,399.7"/>
<polygon fill="#ffcd00" points="236.3,399.7 236.1,402.7 235.4,405.7 235.2,408.7 235,411.7 235,414.7 234.9,417.7 234.9,420.7 234.9,423.7 234.8,426.7 234.8,429.7 234.8,432.7 234.8,435.7 234.8,438.7 234.9,441.7 234.9,444.7 235.1,447.7 235.1,450.7 235.1,450.7 235.4,447.7 235.6,444.7 235.8,441.7 236,438.7 236.2,435.7 236.3,432.7 236.4,429.7 236.5,426.7 236.6,423.7 236.7,420.7 236.8,417.7 236.9,414.7 237,411.7 237,408.7 237,405.7 236.4,402.7 236.3,399.7"/>
<polygon fill="#ff9100" points="236.2,402.7 235.8,405.7 235.5,408.7 235.3,411.7 235.3,414.7 235.3,417.7 235.2,420.7 235.2,423.7 235.2,426.7 235.2,429.7 235.3,432.7 235.5,435.7 235.5,435.7 235.8,432.7 236,429.7 236.2,426.7 236.3,423.7 236.4,420.7 236.5,417.7 236.6,414.7 236.7,411.7 236.6,408.7 236.5,405.7 236.2,402.7"/>
<polygon fill="#ff5500" points="236.1,408.7 235.7,411.7 235.7,414.7 235.8,417.7 235.8,420.7 235.8,420.7 236,417.7 236.2,414.7 236.3,411.7 236.1,408.7"/>
<polygon fill="#00ebcd" points="240.6,399.7 240.3,402.7 240.2,405.7 240.1,408.7 240,411.7 239.9,414.7 239.9,417.7 239.9,420.7 239.8,423.7 239.8,426.7 239.7,429.7 239.7,432.7 239.7,435.7 239.6,438.7 239.6,441.7 239.6,444.7 239.5,447.7 239.5,450.7 239.5,453.7 239.4,456.7 239.4,459.7 239.4,462.7 239.3,465.7 239.3,468.7 239.3,471.7 239.3,474.7 239.2,477.7 239.2,480.7 239.2,483.7 239.2,486.7 239.2,489.7 239.2,492.7 239.1,495.7 239.1,498.7 239.1,501.7 239.1,504.7 239,507.7 239,510.7 239,513.7 239,516.7 238.9,519.7 238.9,522.7 238.9,525.7 238.8,528.7 238.8,531.7 238.8,534.7 238.8,537.7 238.8,540.7 238.7,543.7 238.7,545.5 240.5,545.5 240.5,543.7 240.6,540.7 240.8,537.7 240.9,534.7 241,531.7 241.1,528.7 241.2,525.7 241.3,522.7 241.4,519.7 241.5,516.7 241.6,513.7 241.7,510.7 241.8,507.7 241.9,504.7 242,501.7 242.1,498.7 242.2,495.7 242.4,492.7 242.5,489.7 242.6,486.7 242.7,483.7 242.8,480.7 242.9,477.7 243,474.7 243.1,471.7 243.3,468.7 243.4,465.7 243.5,462.7 243.6,459.7 243.7,456.7 243.8,453.7 243.9,450.7 244,447.7 244.1,444.7 244.2,441.7 244.3,438.7 244.4,435.7 244.4,432.7 244.5,429.7 244.6,426.7 244.7,423.7 244.8,420.7 244.9,417.7 245,414.7 245.1,411.7 245.1,408.7 245.2,405.7 245.1,402.7 245,399.7"/>
<polygon fill="#0af08c" points="241.1,399.7 240.8,402.7 240.6,405.7 240.5,408.7 240.4,411.7 240.3,414.7 240.3,417.7 240.3,420.7 240.2,423.7 240.2,426.7 240.1,429.7 240.1,432.7 240.1,435.7 240,438.7 240,441.7 240,444.7 239.9,447.7 239.9,450.7 239.9,453.7 239.8,456.7 239.8,459.7 239.8,462.7 239.8,465.7 239.7,468.7 239.7,471.7 239.7,474.7 239.7,477.7 239.7,480.7 239.7,483.7 239.6,486.7 239.6,489.7 239.6,492.7 239.6,495.7 239.6,498.7 239.6,501.7 239.6,504.7 239.6,507.7 239.6,510.7 239.6,513.7 239.5,516.7 239.5,519.7 239.5,522.7 239.5,525.7 239.5,528.7 239.6,531.7 239.7,534.7 239.8,537.7 239.8,537.7 240,534.7 240.2,531.7 240.4,528.7 240.5,525.7 240.7,522.7 240.8,519.7 240.9,516.7 241,513.7 241.2,510.7 241.3,507.7 241.4,504.7 241.5,501.7 241.6,498.7 241.7,495.7 241.9,492.7 242,489.7 242.1,486.7 242.3,483.7 242.4,480.7 242.5,477.7 242.6,474.7 242.7,471.7 242.8,468.7 242.9,465.7 243,462.7 243.1,459.7 243.3,456.7 243.4,453.7 243.5,450.7 243.6,447.7 243.7,444.7 243.8,441.7 243.9,438.7 244,435.7 244,432.7 244.1,429.7 244.2,426.7 244.3,423.7 244.4,420.7 244.5,417.7 244.6,414.7 244.7,411.7 244.7,408.7 244.7,405.7 244.7,402.7 244.5,399.7"/>
<polygon fill="#3cf032" points="241.5,399.7 241.2,402.7 240.9,405.7 240.8,408.7 240.7,411.7 240.7,414.7 240.6,417.7 240.6,420.7 240.5,423.7 240.5,426.7 240.4,429.7 240.4,432.7 240.4,435.7 240.3,438.7 240.3,441.7 240.3,444.7 240.2,447.7 240.2,450.7 240.2,453.7 240.2,456.7 240.1,459.7 240.1,462.7 240.1,465.7 240.1,468.7 240.1,471.7 240.1,474.7 240,477.7 240,480.7 240,483.7 240,486.7 240.1,489.7 240.1,492.7 240.1,495.7 240.2,498.7 240.3,501.7 240.5,504.7 240.5,504.7 240.8,501.7 241,498.7 241.2,495.7 241.4,492.7 241.6,489.7 241.7,486.7 241.9,483.7 242,480.7 242.1,477.7 242.3,474.7 242.4,471.7 242.5,468.7 242.6,465.7 242.7,462.7 242.8,459.7 242.9,456.7 243,453.7 243.1,450.7 243.2,447.7 243.3,444.7 243.4,441.7 243.5,438.7 243.6,435.7 243.7,432.7 243.8,429.7 243.9,426.7 244,423.7 244.1,420.7 244.2,417.7 244.3,414.7 244.4,411.7 244.4,408.7 244.4,405.7 244.3,402.7 244.1,399.7"/>
<polygon fill="#a5f500" points="242,399.7 241.5,402.7 241.2,405.7 241.1,408.7 241,411.7 240.9,414.7 240.9,417.7 240.9,420.7 240.8,423.7 240.8,426.7 240.7,429.7 240.7,432.7 240.7,435.7 240.6,438.7 240.6,441.7 240.6,444.7 240.6,447.7 240.5,450.7 240.5,453.7 240.5,456.7 240.5,459.7 240.5,462.7 240.5,465.7 240.5,468.7 240.5,471.7 240.5,474.7 240.5,477.7 240.5,480.7 240.6,483.7 240.8,486.7 240.8,489.7 240.8,489.7 241,486.7 241.3,483.7 241.5,480.7 241.7,477.7 241.8,474.7 242,471.7 242.1,468.7 242.2,465.7 242.4,462.7 242.5,459.7 242.6,456.7 242.7,453.7 242.8,450.7 242.9,447.7 243,444.7 243.1,441.7 243.2,438.7 243.3,435.7 243.4,432.7 243.5,429.7 243.6,426.7 243.7,423.7 243.8,420.7 243.9,417.7 244,414.7 244.1,411.7 244.1,408.7 244.1,405.7 243.9,402.7 243.6,399.7"/>
<polygon fill="#e6f000" points="242.8,399.7 241.9,402.7 241.5,405.7 241.4,408.7 241.3,411.7 241.2,414.7 241.2,417.7 241.1,420.7 241.1,423.7 241.1,426.7 241,429.7 241,432.7 241,435.7 240.9,438.7 240.9,441.7 240.9,444.7 240.9,447.7 240.9,450.7 240.9,453.7 240.9,456.7 240.9,459.7 240.9,462.7 240.9,465.7 241,468.7 241.1,471.7 241.2,474.7 241.2,474.7 241.3,471.7 241.6,468.7 241.8,465.7 242,462.7 242.1,459.7 242.2,456.7 242.4,453.7 242.5,450.7 242.6,447.7 242.7,444.7 242.8,441.7 243,438.7 243.1,435.7 243.2,432.7 243.3,429.7 243.4,426.7 243.5,423.7 243.5,420.7 243.6,417.7 243.7,414.7 243.8,411.7 243.8,408.7 243.8,405.7 243.5,402.7 242.8,399.7"/>
<polygon fill="#ffcd00" points="242.8,399.7 242.6,402.7 241.9,405.7 241.7,408.7 241.5,411.7 241.5,414.7 241.4,417.7 241.4,420.7 241.4,423.7 241.3,426.7 241.3,429.7 241.3,432.7 241.3,435.7 241.3,438.7 241.3,441.7 241.3,444.7 241.3,447.7 241.3,450.7 241.4,453.7 241.5,456.7 241.5,456.7 241.9,453.7 242.1,450.7 242.2,447.7 242.4,444.7 242.5,441.7 242.6,438.7 242.7,435.7 242.9,432.7 243,429.7 243.1,426.7 243.2,423.7 243.3,420.7 243.4,417.7 243.5,414.7 243.5,411.7 243.5,408.7 243.5,405.7 242.9,402.7 242.8,399.7"/>
<polygon fill="#ff9100" points="242.7,402.7 242.3,405.7 242.1,408.7 241.8,411.7 241.8,414.7 241.8,417.7 241.7,420.7 241.7,423.7 241.7,426.7 241.7,429.7 241.7,432.7 241.7,435.7 241.9,438.7 241.9,441.7 241.9,441.7 242,438.7 242.3,435.7 242.5,432.7 242.6,429.7 242.7,426.7 242.8,423.7 242.9,420.7 243,417.7 243.1,414.7 243.2,411.7 243.2,408.7 243,405.7 242.7,402.7"/>
<polygon fill="#ff5500" points="242.6,408.7 242.2,411.7 242.2,414.7 242.3,417.7 242.3,420.7 242.3,420.7 242.6,417.7 242.7,414.7 242.8,411.7 242.6,408.7"/>
<polygon fill="#00ebcd" points="246.7,399.7 246.5,402.7 246.3,405.7 246.2,408.7 246.1,411.7 246.1,414.7 246,417.7 246,420.7 245.9,423.7 245.9,426.7 245.9,429.7 245.8,432.7 245.8,435.7 245.8,438.7 245.7,441.7 245.7,444.7 245.7,447.7 245.6,450.7 245.6,453.7 245.6,456.7 245.5,459.7 245.5,462.7 245.5,465.7 245.4,468.7 245.4,471.7 245.4,474.7 245.4,477.7 245.3,480.7 245.3,483.7 245.3,486.7 245.3,489.7 245.2,492.7 245.2,495.7 245.2,498.7 245.2,501.7 245.1,504.7 245.1,507.7 245.1,510.7 245.1,513.7 245,516.7 245,519.7 245,522.7 245,525.7 244.9,528.7 244.9,531.7 244.9,534.7 244.9,537.7 244.9,540.7 244.9,543.7 244.9,545.5 246.3,545.5 246.4,543.7 246.5,540.7 246.6,537.7 246.8,534.7 246.9,531.7 247,528.7 247.1,525.7 247.3,522.7 247.4,519.7 247.5,516.7 247.6,513.7 247.7,510.7 247.8,507.7 247.9,504.7 248,501.7 248.1,498.7 248.2,495.7 248.4,492.7 248.5,489.7 248.6,486.7 248.7,483.7 248.8,480.7 248.9,477.7 249,474.7 249.1,471.7 249.2,468.7 249.3,465.7 249.4,462.7 249.5,459.7 249.6,456.7 249.7,453.7 249.8,450.7 250,447.7 250.1,444.7 250.2,441.7 250.3,438.7 250.4,435.7 250.5,432.7 250.6,429.7 250.7,426.7 250.8,423.7 250.9,420.7 251,417.7 251.1,414.7 251.2,411.7 251.2,408.7 251.2,405.7 251.2,402.7 251.1,399.7"/>
<polygon fill="#0af08c" points="247.2,399.7 246.9,402.7 246.7,405.7 246.6,408.7 246.5,411.7 246.5,414.7 246.4,417.7 246.4,420.7 246.3,423.7 246.3,426.7 246.3,429.7 246.2,432.7 246.2,435.7 246.2,438.7 246.1,441.7 246.1,444.7 246.1,447.7 246.1,450.7 246,453.7 246,456.7 246,459.7 245.9,462.7 245.9,465.7 245.9,468.7 245.9,471.7 245.8,474.7 245.8,477.7 245.8,480.7 245.8,483.7 245.8,486.7 245.7,489.7 245.7,492.7 245.7,495.7 245.7,498.7 245.7,501.7 245.7,504.7 245.7,507.7 245.7,510.7 245.7,513.7 245.7,516.7 245.7,519.7 245.7,522.7 245.8,525.7 246,528.7 246,528.7 246.3,525.7 246.5,522.7 246.7,519.7 246.8,516.7 247,513.7 247.1,510.7 247.2,507.7 247.3,504.7 247.5,501.7 247.6,498.7 247.7,495.7 247.9,492.7 248,489.7 248.1,486.7 248.2,483.7 248.3,480.7 248.5,477.7 248.6,474.7 248.7,471.7 248.8,468.7 248.9,465.7 249,462.7 249.1,459.7 249.2,456.7 249.3,453.7 249.4,450.7 249.5,447.7 249.6,444.7 249.8,441.7 249.9,438.7 250,435.7 250.1,432.7 250.2,429.7 250.3,426.7 250.4,423.7 250.5,420.7 250.6,417.7 250.7,414.7 250.7,411.7 250.8,408.7 250.8,405.7 250.7,402.7 250.6,399.7"/>
<polygon fill="#3cf032" points="247.6,399.7 247.3,402.7 247,405.7 246.9,408.7 246.8,411.7 246.8,414.7 246.7,417.7 246.7,420.7 246.6,423.7 246.6,426.7 246.6,429.7 246.5,432.7 246.5,435.7 246.5,438.7 246.5,441.7 246.4,444.7 246.4,447.7 246.4,450.7 246.4,453.7 246.3,456.7 246.3,459.7 246.3,462.7 246.3,465.7 246.2,468.7 246.2,471.7 246.2,474.7 246.2,477.7 246.2,480.7 246.2,483.7 246.2,486.7 246.2,489.7 246.3,492.7 246.3,495.7 246.4,498.7 246.6,501.7 246.6,501.7 246.9,498.7 247.1,495.7 247.3,492.7 247.5,489.7 247.7,486.7 247.8,483.7 247.9,480.7 248.1,477.7 248.2,474.7 248.3,471.7 248.4,468.7 248.5,465.7 248.7,462.7 248.8,459.7 248.9,456.7 249,453.7 249.1,450.7 249.2,447.7 249.3,444.7 249.4,441.7 249.5,438.7 249.7,435.7 249.8,432.7 249.9,429.7 250,426.7 250.1,423.7 250.2,420.7 250.3,417.7 250.3,414.7 250.4,411.7 250.5,408.7 250.5,405.7 250.4,402.7 250.2,399.7"/>
<polygon fill="#a5f500" points="248.1,399.7 247.7,402.7 247.4,405.7 247.2,408.7 247.1,411.7 247.1,414.7 247,417.7 247,420.7 247,423.7 246.9,426.7 246.9,429.7 246.8,432.7 246.8,435.7 246.8,438.7 246.8,441.7 246.8,444.7 246.8,447.7 246.8,450.7 246.7,453.7 246.7,456.7 246.7,459.7 246.7,462.7 246.7,465.7 246.7,468.7 246.7,471.7 246.7,474.7 246.8,477.7 246.9,480.7 247,483.7 247,483.7 247.2,480.7 247.5,477.7 247.7,474.7 247.8,471.7 248,468.7 248.1,465.7 248.2,462.7 248.4,459.7 248.5,456.7 248.6,453.7 248.7,450.7 248.9,447.7 249,444.7 249.1,441.7 249.2,438.7 249.3,435.7 249.5,432.7 249.6,429.7 249.7,426.7 249.8,423.7 249.9,420.7 250,417.7 250.1,414.7 250.1,411.7 250.2,408.7 250.2,405.7 250,402.7 249.7,399.7"/>
<polygon fill="#e6f000" points="248.9,399.7 248.1,402.7 247.7,405.7 247.5,408.7 247.4,411.7 247.3,414.7 247.3,417.7 247.3,420.7 247.2,423.7 247.2,426.7 247.2,429.7 247.1,432.7 247.1,435.7 247.1,438.7 247.1,441.7 247.1,444.7 247.2,447.7 247.2,450.7 247.2,453.7 247.2,456.7 247.3,459.7 247.5,462.7 247.5,462.7 247.8,459.7 248,456.7 248.2,453.7 248.3,450.7 248.5,447.7 248.6,444.7 248.8,441.7 248.9,438.7 249,435.7 249.2,432.7 249.3,429.7 249.4,426.7 249.5,423.7 249.6,420.7 249.7,417.7 249.8,414.7 249.9,411.7 249.9,408.7 249.8,405.7 249.6,402.7 248.9,399.7"/>
<polygon fill="#ffcd00" points="248.8,402.7 248,405.7 247.8,408.7 247.7,411.7 247.6,414.7 247.6,417.7 247.6,420.7 247.5,423.7 247.5,426.7 247.5,429.7 247.5,432.7 247.5,435.7 247.5,438.7 247.6,441.7 247.8,444.7 247.8,447.7 247.8,447.7 248,444.7 248.3,441.7 248.5,438.7 248.7,435.7 248.8,432.7 249,429.7 249.1,426.7 249.2,423.7 249.3,420.7 249.4,417.7 249.5,414.7 249.6,411.7 249.5,408.7 249.5,405.7 248.8,402.7"/>
<polygon fill="#ff9100" points="248.8,405.7 248.3,408.7 248,411.7 248,414.7 248,417.7 247.9,420.7 247.9,423.7 247.9,426.7 248,429.7 248.2,432.7 248.2,432.7 248.5,429.7 248.6,426.7 248.8,423.7 248.9,420.7 249,417.7 249.1,414.7 249.2,411.7 249.1,408.7 248.8,405.7"/>
</g>
<polygon fill="#fff" points="223,398.7 225,398.7 222.9,505 222.9,505"/>
<polygon fill="#fff" points="231.8,398.7 233,398.7 231.6,440 231.6,440"/>
</g>
<g filter="url(#bl)">
<polygon fill="#00def0" points="287.2,399.6 320.4,399.6 319.1,544.8 286.8,544.8"/>
<clipPath id="cp4"><polygon points="287.2,399.6 320.4,399.6 319.1,544.8 286.8,544.8"/></clipPath>
<g clip-path="url(#cp4)">
<line x1="301" y1="399.6" x2="301" y2="544.8" stroke="#a0f8ff" stroke-width="0.7" stroke-opacity="0.3"/>
<line x1="307.6" y1="399.6" x2="307.6" y2="544.8" stroke="#a0f8ff" stroke-width="0.7" stroke-opacity="0.3"/>
<line x1="313.5" y1="399.6" x2="313.5" y2="544.8" stroke="#a0f8ff" stroke-width="0.7" stroke-opacity="0.3"/>
<polygon fill="#00c8f5" points="302.3,528.6 302.1,531.6 302,534.6 301.9,537.6 301.8,540.6 301.8,543.6 301.8,544.8 302.8,544.8 302.8,543.6 302.8,540.6 302.7,537.6 302.6,534.6 302.5,531.6 302.3,528.6"/>
<polygon fill="#00c8f5" points="314.8,528.6 314.7,531.6 314.6,534.6 314.5,537.6 314.5,540.6 314.4,543.6 314.4,544.8 315.2,544.8 315.2,543.6 315.1,540.6 315.1,537.6 315,534.6 314.9,531.6 314.8,528.6"/>
<polygon fill="#00ebcd" points="289.2,399.6 289.2,402.6 289.1,405.6 289.1,408.6 289,411.6 289,414.6 289,417.6 289,420.6 289,423.6 289,426.6 289,429.6 289,432.6 289.1,435.6 289.1,438.6 289.1,441.6 289.1,444.6 289.1,447.6 289.1,450.6 289.2,453.6 289.2,456.6 289.2,459.6 289.2,462.6 289.2,465.6 289.2,468.6 289.2,471.6 289.3,474.6 289.3,477.6 289.3,480.6 289.3,483.6 289.3,486.6 289.3,489.6 289.4,492.6 289.4,495.6 289.4,498.6 289.4,501.6 289.4,504.6 289.4,507.6 289.5,510.6 289.5,513.6 289.6,516.6 289.7,519.6 289.7,522.6 289.8,525.6 289.8,528.6 289.9,531.6 289.9,534.6 290,537.6 290,540.6 290.1,543.6 290.1,544.8 292.3,544.8 292.3,543.6 292.4,540.6 292.4,537.6 292.5,534.6 292.5,531.6 292.6,528.6 292.6,525.6 292.7,522.6 292.7,519.6 292.8,516.6 292.9,513.6 292.9,510.6 293,507.6 293,504.6 293,501.6 293,498.6 293,495.6 293,492.6 293.1,489.6 293.1,486.6 293.1,483.6 293.1,480.6 293.1,477.6 293.1,474.6 293.2,471.6 293.2,468.6 293.2,465.6 293.2,462.6 293.2,459.6 293.2,456.6 293.2,453.6 293.3,450.6 293.3,447.6 293.3,444.6 293.3,441.6 293.3,438.6 293.3,435.6 293.4,432.6 293.4,429.6 293.4,426.6 293.4,423.6 293.4,420.6 293.4,417.6 293.4,414.6 293.4,411.6 293.3,408.6 293.3,405.6 293.2,402.6 293.2,399.6"/>
<polygon fill="#0af08c" points="289.8,399.6 289.7,402.6 289.6,405.6 289.6,408.6 289.5,411.6 289.5,414.6 289.5,417.6 289.5,420.6 289.5,423.6 289.5,426.6 289.5,429.6 289.5,432.6 289.5,435.6 289.5,438.6 289.5,441.6 289.5,444.6 289.5,447.6 289.6,450.6 289.6,453.6 289.6,456.6 289.6,459.6 289.6,462.6 289.6,465.6 289.6,468.6 289.6,471.6 289.7,474.6 289.7,477.6 289.7,480.6 289.7,483.6 289.7,486.6 289.7,489.6 289.7,492.6 289.7,495.6 289.8,498.6 289.8,501.6 289.8,504.6 289.8,507.6 289.8,510.6 289.9,513.6 290,516.6 290.1,519.6 290.2,522.6 290.2,525.6 290.3,528.6 290.3,531.6 290.4,534.6 290.5,537.6 290.5,540.6 290.6,543.6 290.7,544.8 291.7,544.8 291.8,543.6 291.9,540.6 291.9,537.6 292,534.6 292.1,531.6 292.1,528.6 292.2,525.6 292.2,522.6 292.3,519.6 292.4,516.6 292.5,513.6 292.6,510.6 292.6,507.6 292.6,504.6 292.6,501.6 292.6,498.6 292.7,495.6 292.7,492.6 292.7,489.6 292.7,486.6 292.7,483.6 292.7,480.6 292.7,477.6 292.7,474.6 292.8,471.6 292.8,468.6 292.8,465.6 292.8,462.6 292.8,459.6 292.8,456.6 292.8,453.6 292.8,450.6 292.9,447.6 292.9,444.6 292.9,441.6 292.9,438.6 292.9,435.6 292.9,432.6 292.9,429.6 292.9,426.6 292.9,423.6 292.9,420.6 292.9,417.6 292.9,414.6 292.9,411.6 292.8,408.6 292.8,405.6 292.7,402.6 292.6,399.6"/>
<polygon fill="#3cf032" points="290.4,399.6 290.2,402.6 290.1,405.6 290,408.6 289.9,411.6 289.8,414.6 289.8,417.6 289.8,420.6 289.8,423.6 289.8,426.6 289.8,429.6 289.8,432.6 289.8,435.6 289.8,438.6 289.9,441.6 289.9,444.6 289.9,447.6 289.9,450.6 289.9,453.6 289.9,456.6 289.9,459.6 289.9,462.6 289.9,465.6 290,468.6 290,471.6 290,474.6 290,477.6 290,480.6 290,483.6 290,486.6 290,489.6 290,492.6 290,495.6 290.1,498.6 290.1,501.6 290.1,504.6 290.1,507.6 290.1,510.6 290.2,513.6 290.4,516.6 290.5,519.6 290.6,522.6 290.7,525.6 290.8,528.6 290.9,531.6 291.1,534.6 291.2,537.6 291.2,537.6 291.3,534.6 291.5,531.6 291.6,528.6 291.7,525.6 291.8,522.6 291.9,519.6 292,516.6 292.2,513.6 292.3,510.6 292.3,507.6 292.3,504.6 292.3,501.6 292.3,498.6 292.4,495.6 292.4,492.6 292.4,489.6 292.4,486.6 292.4,483.6 292.4,480.6 292.4,477.6 292.4,474.6 292.4,471.6 292.4,468.6 292.5,465.6 292.5,462.6 292.5,459.6 292.5,456.6 292.5,453.6 292.5,450.6 292.5,447.6 292.5,444.6 292.5,441.6 292.6,438.6 292.6,435.6 292.6,432.6 292.6,429.6 292.6,426.6 292.6,423.6 292.6,420.6 292.6,417.6 292.6,414.6 292.5,411.6 292.4,408.6 292.3,405.6 292.2,402.6 292,399.6"/>
<polygon fill="#a5f500" points="291.2,402.6 290.7,405.6 290.5,408.6 290.3,411.6 290.2,414.6 290.2,417.6 290.2,420.6 290.2,423.6 290.2,426.6 290.2,429.6 290.2,432.6 290.2,435.6 290.2,438.6 290.2,441.6 290.2,444.6 290.2,447.6 290.2,450.6 290.3,453.6 290.3,456.6 290.3,459.6 290.3,462.6 290.3,465.6 290.3,468.6 290.3,471.6 290.3,474.6 290.3,477.6 290.3,480.6 290.3,483.6 290.4,486.6 290.4,489.6 290.4,492.6 290.4,495.6 290.4,498.6 290.4,501.6 290.4,504.6 290.4,507.6 290.5,510.6 290.6,513.6 290.8,516.6 291.2,519.6 291.2,519.6 291.6,516.6 291.8,513.6 291.9,510.6 292,507.6 292,504.6 292,501.6 292,498.6 292,495.6 292,492.6 292,489.6 292,486.6 292.1,483.6 292.1,480.6 292.1,477.6 292.1,474.6 292.1,471.6 292.1,468.6 292.1,465.6 292.1,462.6 292.1,459.6 292.1,456.6 292.1,453.6 292.2,450.6 292.2,447.6 292.2,444.6 292.2,441.6 292.2,438.6 292.2,435.6 292.2,432.6 292.2,429.6 292.2,426.6 292.2,423.6 292.2,420.6 292.2,417.6 292.2,414.6 292.1,411.6 291.9,408.6 291.7,405.6 291.2,402.6"/>
<polygon fill="#e6f000" points="291.2,411.6 290.7,414.6 290.7,417.6 290.7,420.6 290.6,423.6 290.6,426.6 290.6,429.6 290.6,432.6 290.6,435.6 290.6,438.6 290.6,441.6 290.6,444.6 290.6,447.6 290.7,450.6 290.7,453.6 290.7,456.6 290.7,459.6 290.7,462.6 290.7,465.6 290.7,468.6 290.7,471.6 290.7,474.6 290.7,477.6 290.7,480.6 290.7,483.6 290.8,486.6 290.8,489.6 290.8,492.6 290.8,495.6 290.8,498.6 290.8,501.6 290.8,504.6 290.8,507.6 291,510.6 291.2,513.6 291.2,513.6 291.4,510.6 291.6,507.6 291.6,504.6 291.6,501.6 291.6,498.6 291.6,495.6 291.6,492.6 291.6,489.6 291.6,486.6 291.7,483.6 291.7,480.6 291.7,477.6 291.7,474.6 291.7,471.6 291.7,468.6 291.7,465.6 291.7,462.6 291.7,459.6 291.7,456.6 291.7,453.6 291.7,450.6 291.8,447.6 291.8,444.6 291.8,441.6 291.8,438.6 291.8,435.6 291.8,432.6 291.8,429.6 291.8,426.6 291.8,423.6 291.7,420.6 291.7,417.6 291.7,414.6 291.2,411.6"/>
<polygon fill="#00ebcd" points="296.1,399.6 296,402.6 295.9,405.6 295.8,408.6 295.8,411.6 295.7,414.6 295.7,417.6 295.7,420.6 295.7,423.6 295.7,426.6 295.7,429.6 295.7,432.6 295.7,435.6 295.7,438.6 295.7,441.6 295.7,444.6 295.7,447.6 295.7,450.6 295.7,453.6 295.7,456.6 295.7,459.6 295.7,462.6 295.7,465.6 295.7,468.6 295.7,471.6 295.7,474.6 295.7,477.6 295.7,480.6 295.7,483.6 295.7,486.6 295.7,489.6 295.7,492.6 295.7,495.6 295.7,498.6 295.7,501.6 295.7,504.6 295.7,507.6 295.7,510.6 295.7,513.6 295.7,516.6 295.7,519.6 295.7,522.6 295.7,525.6 295.7,528.6 295.7,531.6 295.7,534.6 295.7,537.6 295.8,540.6 296,543.6 296,544.8 298.6,544.8 298.7,543.6 298.8,540.6 298.9,537.6 299,534.6 299.1,531.6 299.1,528.6 299.1,525.6 299.2,522.6 299.2,519.6 299.2,516.6 299.3,513.6 299.3,510.6 299.3,507.6 299.4,504.6 299.4,501.6 299.4,498.6 299.5,495.6 299.5,492.6 299.5,489.6 299.6,486.6 299.6,483.6 299.6,480.6 299.7,477.6 299.7,474.6 299.7,471.6 299.8,468.6 299.8,465.6 299.8,462.6 299.8,459.6 299.9,456.6 299.9,453.6 299.9,450.6 300,447.6 300,444.6 300,441.6 300.1,438.6 300.1,435.6 300.1,432.6 300.2,429.6 300.2,426.6 300.2,423.6 300.3,420.6 300.3,417.6 300.3,414.6 300.3,411.6 300.3,408.6 300.2,405.6 300.1,402.6 300.1,399.6"/>
<polygon fill="#0af08c" points="296.7,399.6 296.6,402.6 296.4,405.6 296.3,408.6 296.2,411.6 296.2,414.6 296.2,417.6 296.1,420.6 296.1,423.6 296.1,426.6 296.1,429.6 296.1,432.6 296.1,435.6 296.1,438.6 296.1,441.6 296.1,444.6 296.1,447.6 296.1,450.6 296.1,453.6 296.1,456.6 296.1,459.6 296.1,462.6 296.1,465.6 296.1,468.6 296.1,471.6 296.1,474.6 296.1,477.6 296.1,480.6 296.1,483.6 296.1,486.6 296,489.6 296,492.6 296,495.6 296,498.6 296,501.6 296,504.6 296,507.6 296,510.6 296,513.6 296,516.6 296,519.6 296,522.6 296,525.6 296,528.6 296,531.6 296,534.6 296.1,537.6 296.2,540.6 296.4,543.6 296.5,544.8 298.1,544.8 298.2,543.6 298.4,540.6 298.6,537.6 298.7,534.6 298.7,531.6 298.7,528.6 298.8,525.6 298.8,522.6 298.8,519.6 298.9,516.6 298.9,513.6 298.9,510.6 299,507.6 299,504.6 299,501.6 299.1,498.6 299.1,495.6 299.1,492.6 299.2,489.6 299.2,486.6 299.2,483.6 299.2,480.6 299.3,477.6 299.3,474.6 299.3,471.6 299.4,468.6 299.4,465.6 299.4,462.6 299.4,459.6 299.5,456.6 299.5,453.6 299.5,450.6 299.6,447.6 299.6,444.6 299.6,441.6 299.7,438.6 299.7,435.6 299.7,432.6 299.7,429.6 299.8,426.6 299.8,423.6 299.8,420.6 299.8,417.6 299.8,414.6 299.8,411.6 299.8,408.6 299.7,405.6 299.6,402.6 299.5,399.6"/>
<polygon fill="#3cf032" points="297.3,399.6 297,402.6 296.8,405.6 296.7,408.6 296.6,411.6 296.5,414.6 296.5,417.6 296.5,420.6 296.5,423.6 296.5,426.6 296.5,429.6 296.5,432.6 296.4,435.6 296.4,438.6 296.4,441.6 296.4,444.6 296.4,447.6 296.4,450.6 296.4,453.6 296.4,456.6 296.4,459.6 296.4,462.6 296.4,465.6 296.4,468.6 296.4,471.6 296.4,474.6 296.4,477.6 296.4,480.6 296.3,483.6 296.3,486.6 296.3,489.6 296.3,492.6 296.3,495.6 296.3,498.6 296.3,501.6 296.3,504.6 296.3,507.6 296.3,510.6 296.3,513.6 296.3,516.6 296.3,519.6 296.3,522.6 296.3,525.6 296.3,528.6 296.3,531.6 296.3,534.6 296.4,537.6 296.5,540.6 296.8,543.6 297,544.8 297.6,544.8 297.8,543.6 298.1,540.6 298.3,537.6 298.4,534.6 298.4,531.6 298.5,528.6 298.5,525.6 298.5,522.6 298.6,519.6 298.6,516.6 298.6,513.6 298.7,510.6 298.7,507.6 298.7,504.6 298.8,501.6 298.8,498.6 298.8,495.6 298.8,492.6 298.9,489.6 298.9,486.6 298.9,483.6 299,480.6 299,477.6 299,474.6 299,471.6 299.1,468.6 299.1,465.6 299.1,462.6 299.1,459.6 299.2,456.6 299.2,453.6 299.2,450.6 299.2,447.6 299.3,444.6 299.3,441.6 299.3,438.6 299.4,435.6 299.4,432.6 299.4,429.6 299.4,426.6 299.5,423.6 299.5,420.6 299.5,417.6 299.5,414.6 299.5,411.6 299.4,408.6 299.3,405.6 299.1,402.6 298.9,399.6"/>
<polygon fill="#a5f500" points="298.1,399.6 297.7,402.6 297.3,405.6 297.1,408.6 297,411.6 296.9,414.6 296.9,417.6 296.8,420.6 296.8,423.6 296.8,426.6 296.8,429.6 296.8,432.6 296.8,435.6 296.8,438.6 296.8,441.6 296.8,444.6 296.7,447.6 296.7,450.6 296.7,453.6 296.7,456.6 296.7,459.6 296.7,462.6 296.7,465.6 296.7,468.6 296.7,471.6 296.7,474.6 296.7,477.6 296.7,480.6 296.7,483.6 296.6,486.6 296.6,489.6 296.6,492.6 296.6,495.6 296.6,498.6 296.6,501.6 296.6,504.6 296.6,507.6 296.6,510.6 296.6,513.6 296.6,516.6 296.6,519.6 296.6,522.6 296.6,525.6 296.6,528.6 296.6,531.6 296.6,534.6 296.7,537.6 297,540.6 297.3,543.6 297.3,543.6 297.7,540.6 298,537.6 298.1,534.6 298.2,531.6 298.2,528.6 298.2,525.6 298.2,522.6 298.3,519.6 298.3,516.6 298.3,513.6 298.4,510.6 298.4,507.6 298.4,504.6 298.5,501.6 298.5,498.6 298.5,495.6 298.5,492.6 298.6,489.6 298.6,486.6 298.6,483.6 298.6,480.6 298.7,477.6 298.7,474.6 298.7,471.6 298.7,468.6 298.8,465.6 298.8,462.6 298.8,459.6 298.8,456.6 298.9,453.6 298.9,450.6 298.9,447.6 298.9,444.6 299,441.6 299,438.6 299,435.6 299,432.6 299.1,429.6 299.1,426.6 299.1,423.6 299.1,420.6 299.1,417.6 299.1,414.6 299.1,411.6 299,408.6 298.8,405.6 298.4,402.6 298.1,399.6"/>
<polygon fill="#e6f000" points="298.1,405.6 297.6,408.6 297.4,411.6 297.3,414.6 297.2,417.6 297.2,420.6 297.2,423.6 297.2,426.6 297.2,429.6 297.1,432.6 297.1,435.6 297.1,438.6 297.1,441.6 297.1,444.6 297.1,447.6 297.1,450.6 297.1,453.6 297.1,456.6 297.1,459.6 297,462.6 297,465.6 297,468.6 297,471.6 297,474.6 297,477.6 297,480.6 297,483.6 297,486.6 297,489.6 296.9,492.6 296.9,495.6 296.9,498.6 296.9,501.6 296.9,504.6 296.9,507.6 296.9,510.6 296.9,513.6 296.9,516.6 296.9,519.6 296.9,522.6 296.9,525.6 296.9,528.6 296.9,531.6 296.9,534.6 297.2,537.6 297.3,540.6 297.3,540.6 297.5,537.6 297.8,534.6 297.8,531.6 297.8,528.6 297.9,525.6 297.9,522.6 298,519.6 298,516.6 298,513.6 298.1,510.6 298.1,507.6 298.1,504.6 298.2,501.6 298.2,498.6 298.2,495.6 298.2,492.6 298.3,489.6 298.3,486.6 298.3,483.6 298.3,480.6 298.3,477.6 298.4,474.6 298.4,471.6 298.4,468.6 298.4,465.6 298.5,462.6 298.5,459.6 298.5,456.6 298.5,453.6 298.6,450.6 298.6,447.6 298.6,444.6 298.6,441.6 298.6,438.6 298.7,435.6 298.7,432.6 298.7,429.6 298.7,426.6 298.8,423.6 298.8,420.6 298.8,417.6 298.7,414.6 298.7,411.6 298.5,408.6 298.1,405.6"/>
<polygon fill="#ffcd00" points="298,414.6 297.9,417.6 297.7,420.6 297.7,423.6 297.7,426.6 297.7,429.6 297.7,432.6 297.7,435.6 297.7,438.6 297.7,441.6 297.7,444.6 297.6,447.6 297.6,450.6 297.6,453.6 297.6,456.6 297.6,459.6 297.6,462.6 297.6,465.6 297.6,468.6 297.6,471.6 297.6,474.6 297.6,477.6 297.5,480.6 297.5,483.6 297.5,486.6 297.5,489.6 297.5,492.6 297.5,495.6 297.5,498.6 297.5,501.6 297.5,501.6 297.6,498.6 297.6,495.6 297.7,492.6 297.7,489.6 297.7,486.6 297.7,483.6 297.8,480.6 297.8,477.6 297.8,474.6 297.8,471.6 297.9,468.6 297.9,465.6 297.9,462.6 297.9,459.6 298,456.6 298,453.6 298,450.6 298,447.6 298.1,444.6 298.1,441.6 298.1,438.6 298.1,435.6 298.1,432.6 298.2,429.6 298.2,426.6 298.2,423.6 298.2,420.6 298.1,417.6 298,414.6"/>
<polygon fill="#00ebcd" points="302.9,399.6 302.9,402.6 302.9,405.6 302.8,408.6 302.8,411.6 302.8,414.6 302.8,417.6 302.8,420.6 302.8,423.6 302.9,426.6 302.9,429.6 302.9,432.6 302.9,435.6 302.9,438.6 302.9,441.6 303,444.6 303,447.6 303,450.6 303,453.6 303,456.6 303,459.6 303,462.6 303.1,465.6 303.1,468.6 303.1,471.6 303.1,474.6 303.1,477.6 303.1,480.6 303.1,483.6 303.2,486.6 303.2,489.6 303.2,492.6 303.2,495.6 303.2,498.6 303.2,501.6 303.3,504.6 303.3,507.6 303.3,510.6 303.4,513.6 303.4,516.6 303.4,519.6 303.5,522.6 303.5,525.6 303.5,528.6 303.6,531.6 303.6,534.6 303.6,537.6 303.7,540.6 303.7,543.6 303.7,544.8 306.1,544.8 306.1,543.6 306.1,540.6 306.2,537.6 306.2,534.6 306.2,531.6 306.3,528.6 306.3,525.6 306.3,522.6 306.4,519.6 306.4,516.6 306.4,513.6 306.5,510.6 306.5,507.6 306.5,504.6 306.6,501.6 306.6,498.6 306.6,495.6 306.6,492.6 306.6,489.6 306.6,486.6 306.7,483.6 306.7,480.6 306.7,477.6 306.7,474.6 306.7,471.6 306.7,468.6 306.7,465.6 306.8,462.6 306.8,459.6 306.8,456.6 306.8,453.6 306.8,450.6 306.8,447.6 306.8,444.6 306.9,441.6 306.9,438.6 306.9,435.6 306.9,432.6 306.9,429.6 306.9,426.6 307,423.6 307,420.6 307,417.6 307,414.6 307,411.6 307,408.6 306.9,405.6 306.9,402.6 306.9,399.6"/>
<polygon fill="#0af08c" points="303.5,399.6 303.5,402.6 303.4,405.6 303.3,408.6 303.3,411.6 303.3,414.6 303.3,417.6 303.3,420.6 303.3,423.6 303.3,426.6 303.4,429.6 303.4,432.6 303.4,435.6 303.4,438.6 303.4,441.6 303.4,444.6 303.4,447.6 303.4,450.6 303.5,453.6 303.5,456.6 303.5,459.6 303.5,462.6 303.5,465.6 303.5,468.6 303.5,471.6 303.5,474.6 303.5,477.6 303.6,480.6 303.6,483.6 303.6,486.6 303.6,489.6 303.6,492.6 303.6,495.6 303.6,498.6 303.7,501.6 303.7,504.6 303.7,507.6 303.8,510.6 303.8,513.6 303.8,516.6 303.9,519.6 303.9,522.6 304,525.6 304,528.6 304,531.6 304.1,534.6 304.1,537.6 304.2,540.6 304.3,543.6 304.3,544.8 305.5,544.8 305.5,543.6 305.6,540.6 305.7,537.6 305.7,534.6 305.8,531.6 305.8,528.6 305.8,525.6 305.9,522.6 305.9,519.6 306,516.6 306,513.6 306,510.6 306.1,507.6 306.1,504.6 306.1,501.6 306.2,498.6 306.2,495.6 306.2,492.6 306.2,489.6 306.2,486.6 306.2,483.6 306.2,480.6 306.3,477.6 306.3,474.6 306.3,471.6 306.3,468.6 306.3,465.6 306.3,462.6 306.3,459.6 306.3,456.6 306.3,453.6 306.4,450.6 306.4,447.6 306.4,444.6 306.4,441.6 306.4,438.6 306.4,435.6 306.4,432.6 306.4,429.6 306.5,426.6 306.5,423.6 306.5,420.6 306.5,417.6 306.5,414.6 306.5,411.6 306.5,408.6 306.4,405.6 306.3,402.6 306.3,399.6"/>
<polygon fill="#3cf032" points="304.1,399.6 304,402.6 303.9,405.6 303.8,408.6 303.7,411.6 303.7,414.6 303.7,417.6 303.7,420.6 303.7,423.6 303.8,426.6 303.8,429.6 303.8,432.6 303.8,435.6 303.8,438.6 303.8,441.6 303.8,444.6 303.8,447.6 303.8,450.6 303.8,453.6 303.8,456.6 303.9,459.6 303.9,462.6 303.9,465.6 303.9,468.6 303.9,471.6 303.9,474.6 303.9,477.6 303.9,480.6 303.9,483.6 303.9,486.6 304,489.6 304,492.6 304,495.6 304,498.6 304,501.6 304.1,504.6 304.1,507.6 304.1,510.6 304.2,513.6 304.2,516.6 304.3,519.6 304.4,522.6 304.4,525.6 304.5,528.6 304.6,531.6 304.8,534.6 304.9,537.6 304.9,537.6 305,534.6 305.2,531.6 305.3,528.6 305.4,525.6 305.4,522.6 305.5,519.6 305.6,516.6 305.6,513.6 305.7,510.6 305.7,507.6 305.7,504.6 305.8,501.6 305.8,498.6 305.8,495.6 305.8,492.6 305.8,489.6 305.9,486.6 305.9,483.6 305.9,480.6 305.9,477.6 305.9,474.6 305.9,471.6 305.9,468.6 305.9,465.6 305.9,462.6 305.9,459.6 306,456.6 306,453.6 306,450.6 306,447.6 306,444.6 306,441.6 306,438.6 306,435.6 306,432.6 306,429.6 306,426.6 306.1,423.6 306.1,420.6 306.1,417.6 306.1,414.6 306.1,411.6 306,408.6 305.9,405.6 305.8,402.6 305.7,399.6"/>
<polygon fill="#a5f500" points="304.9,402.6 304.6,405.6 304.4,408.6 304.2,411.6 304.2,414.6 304.2,417.6 304.2,420.6 304.2,423.6 304.2,426.6 304.3,429.6 304.3,432.6 304.3,435.6 304.3,438.6 304.3,441.6 304.3,444.6 304.3,447.6 304.3,450.6 304.3,453.6 304.3,456.6 304.3,459.6 304.4,462.6 304.4,465.6 304.4,468.6 304.4,471.6 304.4,474.6 304.4,477.6 304.4,480.6 304.4,483.6 304.4,486.6 304.4,489.6 304.4,492.6 304.4,495.6 304.5,498.6 304.5,501.6 304.6,504.6 304.7,507.6 304.9,510.6 304.9,510.6 305.1,507.6 305.2,504.6 305.3,501.6 305.3,498.6 305.4,495.6 305.4,492.6 305.4,489.6 305.4,486.6 305.4,483.6 305.4,480.6 305.4,477.6 305.4,474.6 305.4,471.6 305.4,468.6 305.4,465.6 305.4,462.6 305.5,459.6 305.5,456.6 305.5,453.6 305.5,450.6 305.5,447.6 305.5,444.6 305.5,441.6 305.5,438.6 305.5,435.6 305.5,432.6 305.5,429.6 305.6,426.6 305.6,423.6 305.6,420.6 305.6,417.6 305.6,414.6 305.6,411.6 305.4,408.6 305.2,405.6 304.9,402.6"/>
<polygon fill="#00ebcd" points="309.5,399.6 309.5,402.6 309.4,405.6 309.4,408.6 309.4,411.6 309.4,414.6 309.4,417.6 309.4,420.6 309.4,423.6 309.4,426.6 309.4,429.6 309.4,432.6 309.4,435.6 309.4,438.6 309.5,441.6 309.5,444.6 309.5,447.6 309.5,450.6 309.5,453.6 309.5,456.6 309.5,459.6 309.5,462.6 309.5,465.6 309.5,468.6 309.5,471.6 309.6,474.6 309.6,477.6 309.6,480.6 309.6,483.6 309.6,486.6 309.6,489.6 309.6,492.6 309.6,495.6 309.6,498.6 309.6,501.6 309.7,504.6 309.7,507.6 309.7,510.6 309.7,513.6 309.8,516.6 309.8,519.6 309.8,522.6 309.8,525.6 309.9,528.6 309.9,531.6 309.9,534.6 310,537.6 310,540.6 310,543.6 310,544.8 312.4,544.8 312.4,543.6 312.4,540.6 312.5,537.6 312.5,534.6 312.5,531.6 312.6,528.6 312.6,525.6 312.7,522.6 312.7,519.6 312.7,516.6 312.8,513.6 312.8,510.6 312.9,507.6 312.9,504.6 312.9,501.6 313,498.6 313,495.6 313,492.6 313,489.6 313,486.6 313.1,483.6 313.1,480.6 313.1,477.6 313.1,474.6 313.2,471.6 313.2,468.6 313.2,465.6 313.2,462.6 313.2,459.6 313.3,456.6 313.3,453.6 313.3,450.6 313.3,447.6 313.3,444.6 313.4,441.6 313.4,438.6 313.4,435.6 313.4,432.6 313.5,429.6 313.5,426.6 313.5,423.6 313.5,420.6 313.5,417.6 313.6,414.6 313.6,411.6 313.6,408.6 313.5,405.6 313.5,402.6 313.5,399.6"/>
<polygon fill="#0af08c" points="310.1,399.6 310.1,402.6 310,405.6 309.9,408.6 309.9,411.6 309.9,414.6 309.9,417.6 309.9,420.6 309.9,423.6 309.9,426.6 309.9,429.6 309.9,432.6 309.9,435.6 309.9,438.6 309.9,441.6 309.9,444.6 309.9,447.6 309.9,450.6 310,453.6 310,456.6 310,459.6 310,462.6 310,465.6 310,468.6 310,471.6 310,474.6 310,477.6 310,480.6 310,483.6 310,486.6 310,489.6 310,492.6 310,495.6 310,498.6 310.1,501.6 310.1,504.6 310.1,507.6 310.1,510.6 310.2,513.6 310.2,516.6 310.2,519.6 310.3,522.6 310.3,525.6 310.3,528.6 310.4,531.6 310.4,534.6 310.5,537.6 310.5,540.6 310.6,543.6 310.6,544.8 311.8,544.8 311.8,543.6 311.9,540.6 312,537.6 312,534.6 312.1,531.6 312.1,528.6 312.2,525.6 312.2,522.6 312.3,519.6 312.3,516.6 312.4,513.6 312.4,510.6 312.4,507.6 312.5,504.6 312.5,501.6 312.5,498.6 312.6,495.6 312.6,492.6 312.6,489.6 312.6,486.6 312.6,483.6 312.7,480.6 312.7,477.6 312.7,474.6 312.7,471.6 312.7,468.6 312.7,465.6 312.8,462.6 312.8,459.6 312.8,456.6 312.8,453.6 312.8,450.6 312.9,447.6 312.9,444.6 312.9,441.6 312.9,438.6 312.9,435.6 313,432.6 313,429.6 313,426.6 313,423.6 313,420.6 313.1,417.6 313.1,414.6 313.1,411.6 313,408.6 313,405.6 312.9,402.6 312.9,399.6"/>
<polygon fill="#3cf032" points="310.7,399.6 310.6,402.6 310.5,405.6 310.4,408.6 310.3,411.6 310.3,414.6 310.3,417.6 310.3,420.6 310.3,423.6 310.3,426.6 310.3,429.6 310.3,432.6 310.3,435.6 310.3,438.6 310.3,441.6 310.3,444.6 310.3,447.6 310.3,450.6 310.3,453.6 310.4,456.6 310.4,459.6 310.4,462.6 310.4,465.6 310.4,468.6 310.4,471.6 310.4,474.6 310.4,477.6 310.4,480.6 310.4,483.6 310.4,486.6 310.4,489.6 310.4,492.6 310.4,495.6 310.4,498.6 310.4,501.6 310.5,504.6 310.5,507.6 310.5,510.6 310.6,513.6 310.6,516.6 310.7,519.6 310.7,522.6 310.8,525.6 310.9,528.6 311,531.6 311.2,534.6 311.2,537.6 311.2,537.6 311.2,534.6 311.5,531.6 311.6,528.6 311.7,525.6 311.8,522.6 311.8,519.6 311.9,516.6 311.9,513.6 312,510.6 312,507.6 312.1,504.6 312.1,501.6 312.2,498.6 312.2,495.6 312.2,492.6 312.2,489.6 312.2,486.6 312.3,483.6 312.3,480.6 312.3,477.6 312.3,474.6 312.3,471.6 312.3,468.6 312.4,465.6 312.4,462.6 312.4,459.6 312.4,456.6 312.4,453.6 312.4,450.6 312.5,447.6 312.5,444.6 312.5,441.6 312.5,438.6 312.5,435.6 312.6,432.6 312.6,429.6 312.6,426.6 312.6,423.6 312.6,420.6 312.6,417.6 312.7,414.6 312.7,411.6 312.6,408.6 312.5,405.6 312.4,402.6 312.3,399.6"/>
<polygon fill="#a5f500" points="311.5,402.6 311.2,405.6 311,408.6 310.8,411.6 310.8,414.6 310.8,417.6 310.8,420.6 310.8,423.6 310.8,426.6 310.8,429.6 310.8,432.6 310.8,435.6 310.8,438.6 310.8,441.6 310.8,444.6 310.8,447.6 310.8,450.6 310.8,453.6 310.9,456.6 310.9,459.6 310.9,462.6 310.9,465.6 310.9,468.6 310.9,471.6 310.9,474.6 310.9,477.6 310.9,480.6 310.9,483.6 310.9,486.6 310.9,489.6 310.9,492.6 310.9,495.6 310.9,498.6 311,501.6 311.1,504.6 311.3,507.6 311.3,507.6 311.5,504.6 311.6,501.6 311.7,498.6 311.7,495.6 311.7,492.6 311.7,489.6 311.7,486.6 311.8,483.6 311.8,480.6 311.8,477.6 311.8,474.6 311.8,471.6 311.8,468.6 311.9,465.6 311.9,462.6 311.9,459.6 311.9,456.6 311.9,453.6 311.9,450.6 312,447.6 312,444.6 312,441.6 312,438.6 312,435.6 312,432.6 312.1,429.6 312.1,426.6 312.1,423.6 312.1,420.6 312.1,417.6 312.2,414.6 312.2,411.6 312,408.6 311.8,405.6 311.5,402.6"/>
<polygon fill="#00ebcd" points="316.3,399.6 316.2,402.6 316.2,405.6 316.2,408.6 316.1,411.6 316.1,414.6 316.1,417.6 316.2,420.6 316.2,423.6 316.2,426.6 316.2,429.6 316.2,432.6 316.2,435.6 316.2,438.6 316.2,441.6 316.2,444.6 316.3,447.6 316.3,450.6 316.3,453.6 316.3,456.6 316.3,459.6 316.3,462.6 316.3,465.6 316.3,468.6 316.3,471.6 316.4,474.6 316.4,477.6 316.4,480.6 316.4,483.6 316.4,486.6 316.4,489.6 316.4,492.6 316.4,495.6 316.4,498.6 316.5,501.6 316.5,504.6 316.5,507.6 316.6,510.6 316.6,513.6 316.6,516.6 316.6,519.6 316.7,522.6 316.7,525.6 316.7,528.6 316.8,531.6 316.8,534.6 316.8,537.6 316.9,540.6 316.9,543.6 316.9,544.8 319.1,544.8 319.1,543.6 319.1,540.6 319.2,537.6 319.2,534.6 319.2,531.6 319.3,528.6 319.3,525.6 319.4,522.6 319.4,519.6 319.4,516.6 319.5,513.6 319.5,510.6 319.5,507.6 319.6,504.6 319.6,501.6 319.6,498.6 319.6,495.6 319.6,492.6 319.7,489.6 319.7,486.6 319.7,483.6 319.7,480.6 319.7,477.6 319.7,474.6 319.8,471.6 319.8,468.6 319.8,465.6 319.8,462.6 319.8,459.6 319.8,456.6 319.8,453.6 319.9,450.6 319.9,447.6 319.9,444.6 319.9,441.6 319.9,438.6 319.9,435.6 320,432.6 320,429.6 320,426.6 320,423.6 320,420.6 320,417.6 320,414.6 320.1,411.6 320,408.6 320,405.6 320,402.6 319.9,399.6"/>
<polygon fill="#0af08c" points="316.9,399.6 316.9,402.6 316.8,405.6 316.7,408.6 316.7,411.6 316.7,414.6 316.7,417.6 316.7,420.6 316.7,423.6 316.7,426.6 316.7,429.6 316.7,432.6 316.7,435.6 316.7,438.6 316.8,441.6 316.8,444.6 316.8,447.6 316.8,450.6 316.8,453.6 316.8,456.6 316.8,459.6 316.8,462.6 316.8,465.6 316.8,468.6 316.8,471.6 316.8,474.6 316.8,477.6 316.9,480.6 316.9,483.6 316.9,486.6 316.9,489.6 316.9,492.6 316.9,495.6 316.9,498.6 316.9,501.6 317,504.6 317,507.6 317,510.6 317.1,513.6 317.1,516.6 317.1,519.6 317.2,522.6 317.2,525.6 317.2,528.6 317.3,531.6 317.3,534.6 317.4,537.6 317.5,540.6 317.5,543.6 317.6,544.8 318.4,544.8 318.5,543.6 318.5,540.6 318.6,537.6 318.7,534.6 318.7,531.6 318.8,528.6 318.8,525.6 318.9,522.6 318.9,519.6 318.9,516.6 319,513.6 319,510.6 319.1,507.6 319.1,504.6 319.1,501.6 319.2,498.6 319.2,495.6 319.2,492.6 319.2,489.6 319.2,486.6 319.2,483.6 319.2,480.6 319.2,477.6 319.3,474.6 319.3,471.6 319.3,468.6 319.3,465.6 319.3,462.6 319.3,459.6 319.3,456.6 319.3,453.6 319.4,450.6 319.4,447.6 319.4,444.6 319.4,441.6 319.4,438.6 319.4,435.6 319.4,432.6 319.4,429.6 319.5,426.6 319.5,423.6 319.5,420.6 319.5,417.6 319.5,414.6 319.5,411.6 319.5,408.6 319.4,405.6 319.3,402.6 319.3,399.6"/>
<polygon fill="#3cf032" points="317.7,399.6 317.5,402.6 317.4,405.6 317.3,408.6 317.2,411.6 317.2,414.6 317.2,417.6 317.2,420.6 317.2,423.6 317.2,426.6 317.2,429.6 317.2,432.6 317.2,435.6 317.2,438.6 317.2,441.6 317.2,444.6 317.2,447.6 317.2,450.6 317.2,453.6 317.3,456.6 317.3,459.6 317.3,462.6 317.3,465.6 317.3,468.6 317.3,471.6 317.3,474.6 317.3,477.6 317.3,480.6 317.3,483.6 317.3,486.6 317.3,489.6 317.3,492.6 317.3,495.6 317.3,498.6 317.4,501.6 317.4,504.6 317.4,507.6 317.5,510.6 317.6,513.6 317.6,516.6 317.7,519.6 317.8,522.6 318,525.6 318,525.6 318.2,522.6 318.3,519.6 318.4,516.6 318.5,513.6 318.6,510.6 318.6,507.6 318.7,504.6 318.7,501.6 318.7,498.6 318.7,495.6 318.8,492.6 318.8,489.6 318.8,486.6 318.8,483.6 318.8,480.6 318.8,477.6 318.8,474.6 318.8,471.6 318.8,468.6 318.8,465.6 318.9,462.6 318.9,459.6 318.9,456.6 318.9,453.6 318.9,450.6 318.9,447.6 318.9,444.6 318.9,441.6 318.9,438.6 318.9,435.6 318.9,432.6 319,429.6 319,426.6 319,423.6 319,420.6 319,417.6 319,414.6 319,411.6 318.9,408.6 318.8,405.6 318.7,402.6 318.5,399.6"/>
</g>
<polygon fill="#fff" points="293.4,398.6 294.6,398.6 293.8,490 293.8,490"/>
</g>
<g filter="url(#bl)">
<polygon fill="#00def0" points="355.5,400 388.1,400 388.7,545 355.2,545"/>
<clipPath id="cp5"><polygon points="355.5,400 388.1,400 388.7,545 355.2,545"/></clipPath>
<g clip-path="url(#cp5)">
<line x1="368.4" y1="400" x2="368.4" y2="545" stroke="#a0f8ff" stroke-width="0.7" stroke-opacity="0.3"/>
<line x1="381.5" y1="400" x2="381.5" y2="545" stroke="#a0f8ff" stroke-width="0.7" stroke-opacity="0.3"/>
<line x1="375" y1="400" x2="375" y2="545" stroke="#a0f8ff" stroke-width="0.7" stroke-opacity="0.3"/>
<polygon fill="#00ebcd" points="357.4,400 357.4,403 357.3,406 357.3,409 357.3,412 357.2,415 357.2,418 357.2,421 357.2,424 357.2,427 357.2,430 357.3,433 357.3,436 357.3,439 357.3,442 357.3,445 357.3,448 357.3,451 357.4,454 357.4,457 357.4,460 357.4,463 357.4,466 357.5,469 357.5,472 357.5,475 357.5,478 357.5,481 357.6,484 357.6,487 357.6,490 357.6,493 357.6,496 357.6,499 357.7,502 357.7,505 357.7,508 357.7,511 357.8,514 357.9,517 357.9,520 358,523 358,526 358.1,529 358.1,532 358.2,535 358.2,538 358.3,541 358.3,544 358.3,545 360.5,545 360.5,544 360.5,541 360.6,538 360.6,535 360.7,532 360.7,529 360.7,526 360.8,523 360.8,520 360.9,517 360.9,514 361,511 361,508 361,505 361,502 361,499 361,496 361,493 361.1,490 361.1,487 361.1,484 361.1,481 361.1,478 361.1,475 361.1,472 361.1,469 361.1,466 361.2,463 361.2,460 361.2,457 361.2,454 361.2,451 361.2,448 361.2,445 361.2,442 361.2,439 361.2,436 361.2,433 361.2,430 361.2,427 361.2,424 361.2,421 361.2,418 361.2,415 361.2,412 361.1,409 361.1,406 361.1,403 361,400"/>
<polygon fill="#0af08c" points="357.9,400 357.9,403 357.8,406 357.8,409 357.7,412 357.7,415 357.6,418 357.6,421 357.6,424 357.6,427 357.6,430 357.7,433 357.7,436 357.7,439 357.7,442 357.7,445 357.7,448 357.7,451 357.7,454 357.8,457 357.8,460 357.8,463 357.8,466 357.8,469 357.8,472 357.9,475 357.9,478 357.9,481 357.9,484 357.9,487 357.9,490 358,493 358,496 358,499 358,502 358,505 358,508 358.1,511 358.2,514 358.2,517 358.3,520 358.4,523 358.4,526 358.5,529 358.5,532 358.6,535 358.6,538 358.7,541 358.8,544 358.8,545 360,545 360,544 360.1,541 360.1,538 360.2,535 360.2,532 360.3,529 360.3,526 360.4,523 360.4,520 360.5,517 360.6,514 360.6,511 360.7,508 360.7,505 360.7,502 360.7,499 360.7,496 360.7,493 360.7,490 360.7,487 360.7,484 360.7,481 360.7,478 360.7,475 360.8,472 360.8,469 360.8,466 360.8,463 360.8,460 360.8,457 360.8,454 360.8,451 360.8,448 360.8,445 360.8,442 360.8,439 360.8,436 360.8,433 360.8,430 360.8,427 360.8,424 360.8,421 360.8,418 360.8,415 360.7,412 360.7,409 360.6,406 360.5,403 360.5,400"/>
<polygon fill="#3cf032" points="358.4,400 358.3,403 358.2,406 358.2,409 358.1,412 358,415 358,418 358,421 358,424 358,427 358,430 358,433 358,436 358,439 358,442 358,445 358,448 358,451 358,454 358.1,457 358.1,460 358.1,463 358.1,466 358.1,469 358.1,472 358.1,475 358.2,478 358.2,481 358.2,484 358.2,487 358.2,490 358.2,493 358.2,496 358.3,499 358.3,502 358.3,505 358.3,508 358.4,511 358.4,514 358.5,517 358.6,520 358.7,523 358.8,526 358.8,529 358.9,532 359.1,535 359.2,538 359.4,541 359.4,541 359.5,538 359.7,535 359.8,532 359.9,529 360,526 360,523 360.1,520 360.2,517 360.3,514 360.3,511 360.4,508 360.4,505 360.4,502 360.4,499 360.4,496 360.4,493 360.4,490 360.4,487 360.4,484 360.4,481 360.5,478 360.5,475 360.5,472 360.5,469 360.5,466 360.5,463 360.5,460 360.5,457 360.5,454 360.5,451 360.5,448 360.5,445 360.5,442 360.5,439 360.5,436 360.5,433 360.5,430 360.5,427 360.5,424 360.5,421 360.5,418 360.4,415 360.3,412 360.3,409 360.2,406 360.1,403 360,400"/>
<polygon fill="#a5f500" points="359.2,403 358.9,406 358.7,409 358.6,412 358.5,415 358.4,418 358.3,421 358.3,424 358.3,427 358.3,430 358.3,433 358.3,436 358.3,439 358.3,442 358.3,445 358.3,448 358.4,451 358.4,454 358.4,457 358.4,460 358.4,463 358.4,466 358.4,469 358.4,472 358.5,475 358.5,478 358.5,481 358.5,484 358.5,487 358.5,490 358.5,493 358.5,496 358.6,499 358.6,502 358.6,505 358.6,508 358.7,511 358.8,514 358.9,517 359.1,520 359.4,523 359.4,523 359.6,520 359.8,517 359.9,514 360,511 360.1,508 360.1,505 360.1,502 360.1,499 360.1,496 360.1,493 360.1,490 360.1,487 360.1,484 360.1,481 360.1,478 360.2,475 360.2,472 360.2,469 360.2,466 360.2,463 360.2,460 360.2,457 360.2,454 360.2,451 360.2,448 360.2,445 360.2,442 360.2,439 360.2,436 360.2,433 360.2,430 360.2,427 360.1,424 360.1,421 360.1,418 360,415 359.9,412 359.7,409 359.5,406 359.2,403"/>
<polygon fill="#e6f000" points="359.2,415 358.9,418 358.8,421 358.8,424 358.7,427 358.7,430 358.7,433 358.7,436 358.7,439 358.7,442 358.7,445 358.7,448 358.7,451 358.7,454 358.7,457 358.7,460 358.8,463 358.8,466 358.8,469 358.8,472 358.8,475 358.8,478 358.8,481 358.8,484 358.9,487 358.9,490 358.9,493 358.9,496 358.9,499 358.9,502 358.9,505 358.9,508 359.1,511 359.4,514 359.4,514 359.6,511 359.8,508 359.8,505 359.8,502 359.8,499 359.8,496 359.8,493 359.8,490 359.8,487 359.8,484 359.8,481 359.8,478 359.8,475 359.8,472 359.8,469 359.8,466 359.8,463 359.8,460 359.8,457 359.8,454 359.8,451 359.8,448 359.8,445 359.8,442 359.8,439 359.8,436 359.8,433 359.8,430 359.7,427 359.7,424 359.7,421 359.6,418 359.2,415"/>
<polygon fill="#00ebcd" points="364.6,400 364.6,403 364.5,406 364.5,409 364.4,412 364.4,415 364.4,418 364.4,421 364.4,424 364.3,427 364.3,430 364.3,433 364.3,436 364.3,439 364.3,442 364.3,445 364.3,448 364.3,451 364.3,454 364.3,457 364.3,460 364.3,463 364.2,466 364.2,469 364.2,472 364.2,475 364.2,478 364.2,481 364.2,484 364.2,487 364.2,490 364.2,493 364.2,496 364.2,499 364.2,502 364.2,505 364.2,508 364.2,511 364.2,514 364.2,517 364.2,520 364.2,523 364.2,526 364.3,529 364.3,532 364.3,535 364.3,538 364.3,541 364.3,544 364.3,545 366.7,545 366.7,544 366.7,541 366.8,538 366.8,535 366.9,532 366.9,529 367,526 367,523 367.1,520 367.1,517 367.2,514 367.2,511 367.3,508 367.3,505 367.4,502 367.4,499 367.4,496 367.5,493 367.5,490 367.5,487 367.6,484 367.6,481 367.6,478 367.6,475 367.7,472 367.7,469 367.7,466 367.8,463 367.8,460 367.8,457 367.9,454 367.9,451 367.9,448 367.9,445 368,442 368,439 368,436 368.1,433 368.1,430 368.1,427 368.2,424 368.2,421 368.2,418 368.2,415 368.2,412 368.2,409 368.2,406 368.2,403 368.2,400"/>
<polygon fill="#0af08c" points="365.1,400 365.1,403 365,406 365,409 364.9,412 364.9,415 364.8,418 364.8,421 364.8,424 364.8,427 364.8,430 364.8,433 364.8,436 364.7,439 364.7,442 364.7,445 364.7,448 364.7,451 364.7,454 364.7,457 364.7,460 364.7,463 364.6,466 364.6,469 364.6,472 364.6,475 364.6,478 364.6,481 364.6,484 364.6,487 364.6,490 364.6,493 364.5,496 364.5,499 364.5,502 364.5,505 364.6,508 364.6,511 364.6,514 364.6,517 364.6,520 364.6,523 364.6,526 364.6,529 364.7,532 364.7,535 364.7,538 364.7,541 364.7,544 364.7,545 366.3,545 366.3,544 366.3,541 366.4,538 366.5,535 366.5,532 366.6,529 366.6,526 366.7,523 366.7,520 366.8,517 366.8,514 366.9,511 366.9,508 367,505 367,502 367,499 367.1,496 367.1,493 367.1,490 367.1,487 367.2,484 367.2,481 367.2,478 367.3,475 367.3,472 367.3,469 367.3,466 367.4,463 367.4,460 367.4,457 367.4,454 367.5,451 367.5,448 367.5,445 367.5,442 367.6,439 367.6,436 367.6,433 367.7,430 367.7,427 367.7,424 367.7,421 367.7,418 367.7,415 367.7,412 367.7,409 367.7,406 367.7,403 367.7,400"/>
<polygon fill="#3cf032" points="365.6,400 365.6,403 365.5,406 365.4,409 365.3,412 365.3,415 365.2,418 365.2,421 365.2,424 365.2,427 365.1,430 365.1,433 365.1,436 365.1,439 365.1,442 365.1,445 365.1,448 365,451 365,454 365,457 365,460 365,463 365,466 365,469 364.9,472 364.9,475 364.9,478 364.9,481 364.9,484 364.9,487 364.9,490 364.9,493 364.8,496 364.8,499 364.8,502 364.8,505 364.9,508 364.9,511 364.9,514 364.9,517 364.9,520 365,523 365,526 365,529 365,532 365.1,535 365.1,538 365.2,541 365.2,544 365.3,545 365.7,545 365.8,544 365.9,541 366,538 366.1,535 366.1,532 366.2,529 366.3,526 366.3,523 366.4,520 366.4,517 366.5,514 366.5,511 366.6,508 366.6,505 366.7,502 366.7,499 366.8,496 366.8,493 366.8,490 366.8,487 366.9,484 366.9,481 366.9,478 366.9,475 367,472 367,469 367,466 367,463 367.1,460 367.1,457 367.1,454 367.1,451 367.1,448 367.2,445 367.2,442 367.2,439 367.2,436 367.3,433 367.3,430 367.3,427 367.3,424 367.4,421 367.4,418 367.3,415 367.3,412 367.3,409 367.2,406 367.2,403 367.2,400"/>
<polygon fill="#a5f500" points="366.4,406 366.1,409 365.9,412 365.8,415 365.7,418 365.6,421 365.6,424 365.6,427 365.6,430 365.6,433 365.5,436 365.5,439 365.5,442 365.5,445 365.5,448 365.5,451 365.4,454 365.4,457 365.4,460 365.4,463 365.4,466 365.3,469 365.3,472 365.3,475 365.3,478 365.3,481 365.3,484 365.2,487 365.2,490 365.2,493 365.2,496 365.2,499 365.2,502 365.2,505 365.2,508 365.3,511 365.3,514 365.4,517 365.5,520 365.6,523 365.6,523 365.9,520 366,517 366.1,514 366.1,511 366.2,508 366.3,505 366.3,502 366.4,499 366.4,496 366.4,493 366.5,490 366.5,487 366.5,484 366.5,481 366.5,478 366.6,475 366.6,472 366.6,469 366.6,466 366.6,463 366.7,460 366.7,457 366.7,454 366.7,451 366.7,448 366.7,445 366.8,442 366.8,439 366.8,436 366.8,433 366.8,430 366.9,427 366.9,424 366.9,421 366.9,418 366.8,415 366.7,412 366.6,409 366.4,406"/>
<polygon fill="#00ebcd" points="371.7,400 371.7,403 371.7,406 371.7,409 371.6,412 371.6,415 371.6,418 371.6,421 371.6,424 371.6,427 371.6,430 371.6,433 371.6,436 371.6,439 371.6,442 371.6,445 371.6,448 371.6,451 371.6,454 371.6,457 371.6,460 371.6,463 371.6,466 371.6,469 371.7,472 371.7,475 371.7,478 371.7,481 371.7,484 371.7,487 371.7,490 371.7,493 371.7,496 371.7,499 371.7,502 371.7,505 371.7,508 371.7,511 371.7,514 371.7,517 371.7,520 371.7,523 371.8,526 371.8,529 371.8,532 371.9,535 371.9,538 372,541 372,544 372,545 374,545 374,544 374.1,541 374.1,538 374.2,535 374.2,532 374.3,529 374.3,526 374.4,523 374.4,520 374.4,517 374.5,514 374.5,511 374.5,508 374.5,505 374.5,502 374.6,499 374.6,496 374.6,493 374.6,490 374.7,487 374.7,484 374.7,481 374.7,478 374.7,475 374.8,472 374.8,469 374.8,466 374.8,463 374.8,460 374.9,457 374.9,454 374.9,451 374.9,448 374.9,445 375,442 375,439 375,436 375,433 375,430 375.1,427 375.1,424 375.1,421 375.1,418 375.1,415 375.1,412 375.1,409 375.1,406 375.1,403 375.1,400"/>
<polygon fill="#0af08c" points="372.3,400 372.3,403 372.2,406 372.2,409 372.2,412 372.1,415 372.1,418 372.1,421 372.1,424 372.1,427 372.1,430 372.1,433 372.1,436 372.1,439 372.1,442 372.1,445 372.1,448 372.1,451 372.1,454 372.1,457 372.1,460 372.1,463 372.1,466 372.1,469 372.1,472 372.1,475 372.1,478 372.1,481 372.1,484 372.1,487 372.1,490 372.1,493 372.1,496 372.1,499 372.1,502 372.1,505 372.1,508 372.1,511 372.1,514 372.1,517 372.1,520 372.2,523 372.2,526 372.2,529 372.3,532 372.3,535 372.4,538 372.5,541 372.6,544 372.6,545 373.4,545 373.4,544 373.6,541 373.6,538 373.7,535 373.8,532 373.9,529 373.9,526 374,523 374,520 374,517 374.1,514 374.1,511 374.1,508 374.1,505 374.1,502 374.1,499 374.2,496 374.2,493 374.2,490 374.2,487 374.2,484 374.2,481 374.3,478 374.3,475 374.3,472 374.3,469 374.3,466 374.3,463 374.4,460 374.4,457 374.4,454 374.4,451 374.4,448 374.5,445 374.5,442 374.5,439 374.5,436 374.5,433 374.5,430 374.6,427 374.6,424 374.6,421 374.6,418 374.6,415 374.6,412 374.5,409 374.5,406 374.5,403 374.5,400"/>
<polygon fill="#3cf032" points="373,400 372.9,403 372.8,406 372.8,409 372.7,412 372.6,415 372.6,418 372.6,421 372.6,424 372.6,427 372.6,430 372.6,433 372.6,436 372.6,439 372.6,442 372.5,445 372.5,448 372.5,451 372.5,454 372.5,457 372.5,460 372.5,463 372.5,466 372.5,469 372.5,472 372.5,475 372.5,478 372.5,481 372.5,484 372.5,487 372.5,490 372.5,493 372.5,496 372.5,499 372.5,502 372.5,505 372.5,508 372.5,511 372.5,514 372.5,517 372.5,520 372.6,523 372.6,526 372.7,529 372.9,532 373,535 373,535 373.2,532 373.3,529 373.5,526 373.6,523 373.6,520 373.6,517 373.7,514 373.7,511 373.7,508 373.7,505 373.7,502 373.7,499 373.8,496 373.8,493 373.8,490 373.8,487 373.8,484 373.8,481 373.8,478 373.9,475 373.9,472 373.9,469 373.9,466 373.9,463 373.9,460 373.9,457 374,454 374,451 374,448 374,445 374,442 374,439 374,436 374.1,433 374.1,430 374.1,427 374.1,424 374.1,421 374.1,418 374.1,415 374,412 374,409 373.9,406 373.8,403 373.8,400"/>
<polygon fill="#00ebcd" points="378.2,400 378.2,403 378.2,406 378.2,409 378.2,412 378.2,415 378.1,418 378.1,421 378.2,424 378.2,427 378.2,430 378.2,433 378.2,436 378.2,439 378.2,442 378.2,445 378.3,448 378.3,451 378.3,454 378.3,457 378.3,460 378.3,463 378.3,466 378.3,469 378.3,472 378.4,475 378.4,478 378.4,481 378.4,484 378.4,487 378.4,490 378.4,493 378.4,496 378.5,499 378.5,502 378.5,505 378.5,508 378.5,511 378.5,514 378.5,517 378.5,520 378.6,523 378.6,526 378.7,529 378.7,532 378.7,535 378.8,538 378.8,541 378.9,544 378.9,545 380.9,545 380.9,544 381,541 381,538 381.1,535 381.1,532 381.1,529 381.2,526 381.2,523 381.3,520 381.3,517 381.3,514 381.3,511 381.3,508 381.3,505 381.3,502 381.3,499 381.4,496 381.4,493 381.4,490 381.4,487 381.4,484 381.4,481 381.4,478 381.4,475 381.5,472 381.5,469 381.5,466 381.5,463 381.5,460 381.5,457 381.5,454 381.5,451 381.5,448 381.6,445 381.6,442 381.6,439 381.6,436 381.6,433 381.6,430 381.6,427 381.6,424 381.7,421 381.7,418 381.6,415 381.6,412 381.6,409 381.6,406 381.6,403 381.6,400"/>
<polygon fill="#0af08c" points="378.8,400 378.8,403 378.8,406 378.7,409 378.7,412 378.7,415 378.7,418 378.6,421 378.7,424 378.7,427 378.7,430 378.7,433 378.7,436 378.7,439 378.7,442 378.7,445 378.7,448 378.7,451 378.7,454 378.8,457 378.8,460 378.8,463 378.8,466 378.8,469 378.8,472 378.8,475 378.8,478 378.8,481 378.8,484 378.8,487 378.9,490 378.9,493 378.9,496 378.9,499 378.9,502 378.9,505 378.9,508 378.9,511 378.9,514 378.9,517 378.9,520 379,523 379,526 379.1,529 379.1,532 379.2,535 379.3,538 379.4,541 379.5,544 379.5,545 380.3,545 380.3,544 380.4,541 380.5,538 380.6,535 380.7,532 380.7,529 380.8,526 380.8,523 380.9,520 380.9,517 380.9,514 380.9,511 380.9,508 380.9,505 380.9,502 380.9,499 380.9,496 380.9,493 380.9,490 381,487 381,484 381,481 381,478 381,475 381,472 381,469 381,466 381,463 381,460 381,457 381.1,454 381.1,451 381.1,448 381.1,445 381.1,442 381.1,439 381.1,436 381.1,433 381.1,430 381.1,427 381.1,424 381.2,421 381.1,418 381.1,415 381.1,412 381.1,409 381,406 381,403 381,400"/>
<polygon fill="#3cf032" points="379.5,400 379.4,403 379.4,406 379.3,409 379.2,412 379.2,415 379.1,418 379.1,421 379.1,424 379.1,427 379.1,430 379.1,433 379.2,436 379.2,439 379.2,442 379.2,445 379.2,448 379.2,451 379.2,454 379.2,457 379.2,460 379.2,463 379.2,466 379.2,469 379.2,472 379.2,475 379.2,478 379.3,481 379.3,484 379.3,487 379.3,490 379.3,493 379.3,496 379.3,499 379.3,502 379.3,505 379.3,508 379.3,511 379.3,514 379.3,517 379.3,520 379.4,523 379.5,526 379.6,529 379.8,532 379.9,535 379.9,535 380,532 380.2,529 380.3,526 380.4,523 380.5,520 380.5,517 380.5,514 380.5,511 380.5,508 380.5,505 380.5,502 380.5,499 380.5,496 380.5,493 380.5,490 380.5,487 380.5,484 380.5,481 380.6,478 380.6,475 380.6,472 380.6,469 380.6,466 380.6,463 380.6,460 380.6,457 380.6,454 380.6,451 380.6,448 380.6,445 380.6,442 380.6,439 380.6,436 380.7,433 380.7,430 380.7,427 380.7,424 380.7,421 380.7,418 380.6,415 380.6,412 380.5,409 380.4,406 380.4,403 380.3,400"/>
<polygon fill="#00ebcd" points="384.4,400 384.4,403 384.4,406 384.4,409 384.4,412 384.4,415 384.4,418 384.4,421 384.4,424 384.4,427 384.5,430 384.5,433 384.5,436 384.5,439 384.5,442 384.6,445 384.6,448 384.6,451 384.6,454 384.6,457 384.7,460 384.7,463 384.7,466 384.7,469 384.7,472 384.8,475 384.8,478 384.8,481 384.8,484 384.8,487 384.9,490 384.9,493 384.9,496 384.9,499 385,502 385,505 385,508 385,511 385,514 385.1,517 385.1,520 385.1,523 385.2,526 385.2,529 385.3,532 385.3,535 385.4,538 385.4,541 385.5,544 385.5,545 387.5,545 387.5,544 387.5,541 387.6,538 387.6,535 387.7,532 387.7,529 387.7,526 387.8,523 387.8,520 387.8,517 387.8,514 387.8,511 387.8,508 387.8,505 387.8,502 387.8,499 387.8,496 387.8,493 387.8,490 387.8,487 387.8,484 387.8,481 387.8,478 387.8,475 387.8,472 387.9,469 387.9,466 387.9,463 387.9,460 387.9,457 387.9,454 387.9,451 387.9,448 387.9,445 387.9,442 387.9,439 387.9,436 387.9,433 387.9,430 387.9,427 387.9,424 387.9,421 387.9,418 387.9,415 387.9,412 387.8,409 387.8,406 387.8,403 387.8,400"/>
<polygon fill="#0af08c" points="385,400 385,403 385,406 385,409 384.9,412 384.9,415 384.9,418 384.9,421 384.9,424 384.9,427 385,430 385,433 385,436 385,439 385,442 385,445 385.1,448 385.1,451 385.1,454 385.1,457 385.1,460 385.2,463 385.2,466 385.2,469 385.2,472 385.2,475 385.2,478 385.3,481 385.3,484 385.3,487 385.3,490 385.3,493 385.3,496 385.4,499 385.4,502 385.4,505 385.4,508 385.4,511 385.4,514 385.5,517 385.5,520 385.5,523 385.6,526 385.6,529 385.7,532 385.8,535 385.9,538 385.9,541 386.1,544 386.1,545 386.9,545 386.9,544 387,541 387.1,538 387.2,535 387.2,532 387.3,529 387.3,526 387.3,523 387.4,520 387.4,517 387.4,514 387.4,511 387.4,508 387.4,505 387.4,502 387.4,499 387.4,496 387.4,493 387.4,490 387.4,487 387.4,484 387.4,481 387.4,478 387.4,475 387.4,472 387.4,469 387.4,466 387.4,463 387.4,460 387.4,457 387.4,454 387.4,451 387.4,448 387.4,445 387.4,442 387.4,439 387.4,436 387.4,433 387.4,430 387.4,427 387.4,424 387.4,421 387.4,418 387.4,415 387.3,412 387.3,409 387.3,406 387.2,403 387.2,400"/>
<polygon fill="#3cf032" points="385.7,400 385.7,403 385.6,406 385.5,409 385.5,412 385.4,415 385.4,418 385.4,421 385.4,424 385.4,427 385.4,430 385.4,433 385.5,436 385.5,439 385.5,442 385.5,445 385.5,448 385.5,451 385.5,454 385.6,457 385.6,460 385.6,463 385.6,466 385.6,469 385.6,472 385.6,475 385.7,478 385.7,481 385.7,484 385.7,487 385.7,490 385.7,493 385.7,496 385.8,499 385.8,502 385.8,505 385.8,508 385.8,511 385.8,514 385.9,517 385.9,520 385.9,523 386,526 386.2,529 386.3,532 386.5,535 386.5,535 386.6,532 386.8,529 386.9,526 386.9,523 387,520 387,517 387,514 387,511 387,508 387,505 387,502 387,499 387,496 387,493 387,490 387,487 387,484 387,481 387,478 387,475 387,472 387,469 387,466 387,463 387,460 387,457 387,454 387,451 387,448 387,445 386.9,442 386.9,439 386.9,436 386.9,433 386.9,430 386.9,427 386.9,424 386.9,421 386.9,418 386.9,415 386.8,412 386.7,409 386.7,406 386.6,403 386.5,400"/>
</g>
<polygon fill="#fff" points="375,488 375,488 375.7,546 374.3,546"/>
</g>
<g filter="url(#bl)">
<polygon fill="#00def0" points="422.6,399.6 455,399.6 453.7,545 421.6,545"/>
<clipPath id="cp6"><polygon points="422.6,399.6 455,399.6 453.7,545 421.6,545"/></clipPath>
<g clip-path="url(#cp6)">
<line x1="434.7" y1="399.6" x2="434.5" y2="545" stroke="#a0f8ff" stroke-width="0.7" stroke-opacity="0.3"/>
<polygon fill="#00ebcd" points="424.4,399.6 424.3,402.6 424.3,405.6 424.2,408.6 424.2,411.6 424.1,414.6 424.1,417.6 424.1,420.6 424.1,423.6 424.1,426.6 424.1,429.6 424.1,432.6 424.1,435.6 424.1,438.6 424.1,441.6 424.1,444.6 424.1,447.6 424.1,450.6 424.1,453.6 424.2,456.6 424.2,459.6 424.2,462.6 424.2,465.6 424.2,468.6 424.2,471.6 424.2,474.6 424.2,477.6 424.2,480.6 424.2,483.6 424.2,486.6 424.2,489.6 424.2,492.6 424.2,495.6 424.2,498.6 424.3,501.6 424.3,504.6 424.3,507.6 424.4,510.6 424.4,513.6 424.4,516.6 424.5,519.6 424.5,522.6 424.5,525.6 424.5,528.6 424.6,531.6 424.6,534.6 424.6,537.6 424.7,540.6 424.7,543.6 424.7,545 426.9,545 426.9,543.6 426.9,540.6 427,537.6 427,534.6 427.1,531.6 427.1,528.6 427.2,525.6 427.2,522.6 427.3,519.6 427.3,516.6 427.4,513.6 427.4,510.6 427.5,507.6 427.5,504.6 427.6,501.6 427.6,498.6 427.6,495.6 427.7,492.6 427.7,489.6 427.7,486.6 427.7,483.6 427.7,480.6 427.8,477.6 427.8,474.6 427.8,471.6 427.8,468.6 427.9,465.6 427.9,462.6 427.9,459.6 427.9,456.6 428,453.6 428,450.6 428,447.6 428,444.6 428,441.6 428.1,438.6 428.1,435.6 428.1,432.6 428.1,429.6 428.1,426.6 428.1,423.6 428.2,420.6 428.2,417.6 428.2,414.6 428.2,411.6 428.1,408.6 428.1,405.6 428,402.6 428,399.6"/>
<polygon fill="#0af08c" points="424.9,399.6 424.8,402.6 424.8,405.6 424.7,408.6 424.6,411.6 424.6,414.6 424.6,417.6 424.5,420.6 424.5,423.6 424.5,426.6 424.5,429.6 424.5,432.6 424.5,435.6 424.5,438.6 424.5,441.6 424.5,444.6 424.5,447.6 424.5,450.6 424.5,453.6 424.5,456.6 424.5,459.6 424.5,462.6 424.5,465.6 424.6,468.6 424.6,471.6 424.6,474.6 424.6,477.6 424.6,480.6 424.6,483.6 424.6,486.6 424.6,489.6 424.6,492.6 424.6,495.6 424.6,498.6 424.6,501.6 424.6,504.6 424.7,507.6 424.7,510.6 424.8,513.6 424.8,516.6 424.9,519.6 424.9,522.6 424.9,525.6 425,528.6 425,531.6 425,534.6 425.1,537.6 425.1,540.6 425.2,543.6 425.2,545 426.4,545 426.4,543.6 426.5,540.6 426.5,537.6 426.6,534.6 426.7,531.6 426.7,528.6 426.8,525.6 426.8,522.6 426.9,519.6 426.9,516.6 427,513.6 427.1,510.6 427.1,507.6 427.2,504.6 427.2,501.6 427.3,498.6 427.3,495.6 427.3,492.6 427.3,489.6 427.3,486.6 427.4,483.6 427.4,480.6 427.4,477.6 427.4,474.6 427.4,471.6 427.5,468.6 427.5,465.6 427.5,462.6 427.5,459.6 427.6,456.6 427.6,453.6 427.6,450.6 427.6,447.6 427.6,444.6 427.7,441.6 427.7,438.6 427.7,435.6 427.7,432.6 427.7,429.6 427.7,426.6 427.7,423.6 427.7,420.6 427.7,417.6 427.7,414.6 427.7,411.6 427.7,408.6 427.6,405.6 427.5,402.6 427.5,399.6"/>
<polygon fill="#3cf032" points="425.4,399.6 425.3,402.6 425.2,405.6 425.1,408.6 425,411.6 424.9,414.6 424.9,417.6 424.9,420.6 424.9,423.6 424.9,426.6 424.9,429.6 424.8,432.6 424.8,435.6 424.8,438.6 424.8,441.6 424.8,444.6 424.8,447.6 424.8,450.6 424.8,453.6 424.8,456.6 424.8,459.6 424.8,462.6 424.8,465.6 424.8,468.6 424.8,471.6 424.9,474.6 424.9,477.6 424.9,480.6 424.9,483.6 424.9,486.6 424.9,489.6 424.9,492.6 424.9,495.6 424.9,498.6 424.9,501.6 424.9,504.6 425,507.6 425,510.6 425.1,513.6 425.2,516.6 425.2,519.6 425.3,522.6 425.3,525.6 425.4,528.6 425.5,531.6 425.6,534.6 425.8,537.6 425.8,537.6 426.1,534.6 426.2,531.6 426.3,528.6 426.4,525.6 426.5,522.6 426.5,519.6 426.6,516.6 426.7,513.6 426.8,510.6 426.8,507.6 426.9,504.6 427,501.6 427,498.6 427,495.6 427,492.6 427,489.6 427.1,486.6 427.1,483.6 427.1,480.6 427.1,477.6 427.1,474.6 427.2,471.6 427.2,468.6 427.2,465.6 427.2,462.6 427.2,459.6 427.3,456.6 427.3,453.6 427.3,450.6 427.3,447.6 427.3,444.6 427.4,441.6 427.4,438.6 427.4,435.6 427.4,432.6 427.4,429.6 427.4,426.6 427.4,423.6 427.4,420.6 427.4,417.6 427.4,414.6 427.3,411.6 427.3,408.6 427.2,405.6 427.1,402.6 427,399.6"/>
<polygon fill="#a5f500" points="426.2,402.6 425.8,405.6 425.6,408.6 425.4,411.6 425.3,414.6 425.3,417.6 425.3,420.6 425.2,423.6 425.2,426.6 425.2,429.6 425.2,432.6 425.2,435.6 425.1,438.6 425.1,441.6 425.1,444.6 425.1,447.6 425.1,450.6 425.1,453.6 425.2,456.6 425.2,459.6 425.2,462.6 425.2,465.6 425.2,468.6 425.2,471.6 425.2,474.6 425.2,477.6 425.2,480.6 425.2,483.6 425.2,486.6 425.2,489.6 425.2,492.6 425.2,495.6 425.2,498.6 425.2,501.6 425.2,504.6 425.3,507.6 425.4,510.6 425.5,513.6 425.7,516.6 425.9,519.6 425.9,519.6 426,516.6 426.2,513.6 426.4,510.6 426.5,507.6 426.6,504.6 426.7,501.6 426.7,498.6 426.7,495.6 426.7,492.6 426.7,489.6 426.8,486.6 426.8,483.6 426.8,480.6 426.8,477.6 426.8,474.6 426.8,471.6 426.9,468.6 426.9,465.6 426.9,462.6 426.9,459.6 426.9,456.6 427,453.6 427,450.6 427,447.6 427,444.6 427,441.6 427,438.6 427,435.6 427,432.6 427,429.6 427,426.6 427,423.6 427,420.6 427,417.6 427,414.6 426.9,411.6 426.8,408.6 426.6,405.6 426.2,402.6"/>
<polygon fill="#e6f000" points="426.2,411.6 425.8,414.6 425.7,417.6 425.7,420.6 425.7,423.6 425.6,426.6 425.6,429.6 425.6,432.6 425.5,435.6 425.5,438.6 425.5,441.6 425.5,444.6 425.5,447.6 425.5,450.6 425.5,453.6 425.5,456.6 425.5,459.6 425.5,462.6 425.5,465.6 425.5,468.6 425.5,471.6 425.5,474.6 425.5,477.6 425.5,480.6 425.5,483.6 425.5,486.6 425.5,489.6 425.5,492.6 425.5,495.6 425.5,498.6 425.6,501.6 425.6,504.6 425.9,507.6 425.9,507.6 426.2,504.6 426.3,501.6 426.3,498.6 426.3,495.6 426.3,492.6 426.4,489.6 426.4,486.6 426.4,483.6 426.4,480.6 426.4,477.6 426.5,474.6 426.5,471.6 426.5,468.6 426.5,465.6 426.5,462.6 426.6,459.6 426.6,456.6 426.6,453.6 426.6,450.6 426.6,447.6 426.6,444.6 426.7,441.6 426.7,438.6 426.7,435.6 426.6,432.6 426.6,429.6 426.6,426.6 426.6,423.6 426.6,420.6 426.6,417.6 426.5,414.6 426.2,411.6"/>
<polygon fill="#00ebcd" points="430.9,399.6 430.8,402.6 430.8,405.6 430.7,408.6 430.7,411.6 430.7,414.6 430.7,417.6 430.6,420.6 430.6,423.6 430.6,426.6 430.6,429.6 430.6,432.6 430.6,435.6 430.6,438.6 430.6,441.6 430.6,444.6 430.6,447.6 430.6,450.6 430.6,453.6 430.6,456.6 430.6,459.6 430.6,462.6 430.6,465.6 430.6,468.6 430.6,471.6 430.6,474.6 430.6,477.6 430.6,480.6 430.6,483.6 430.6,486.6 430.5,489.6 430.5,492.6 430.5,495.6 430.5,498.6 430.5,501.6 430.5,504.6 430.5,507.6 430.5,510.6 430.5,513.6 430.5,516.6 430.5,519.6 430.5,522.6 430.5,525.6 430.5,528.6 430.5,531.6 430.5,534.6 430.5,537.6 430.6,540.6 430.7,543.6 430.8,545 433.2,545 433.3,543.6 433.4,540.6 433.6,537.6 433.6,534.6 433.6,531.6 433.6,528.6 433.7,525.6 433.7,522.6 433.7,519.6 433.8,516.6 433.8,513.6 433.8,510.6 433.8,507.6 433.9,504.6 433.9,501.6 433.9,498.6 433.9,495.6 434,492.6 434,489.6 434,486.6 434,483.6 434.1,480.6 434.1,477.6 434.1,474.6 434.1,471.6 434.1,468.6 434.2,465.6 434.2,462.6 434.2,459.6 434.2,456.6 434.3,453.6 434.3,450.6 434.3,447.6 434.3,444.6 434.4,441.6 434.4,438.6 434.4,435.6 434.5,432.6 434.5,429.6 434.5,426.6 434.5,423.6 434.6,420.6 434.6,417.6 434.6,414.6 434.6,411.6 434.6,408.6 434.6,405.6 434.5,402.6 434.5,399.6"/>
<polygon fill="#0af08c" points="431.4,399.6 431.4,402.6 431.3,405.6 431.2,408.6 431.2,411.6 431.1,414.6 431.1,417.6 431.1,420.6 431.1,423.6 431.1,426.6 431.1,429.6 431.1,432.6 431,435.6 431,438.6 431,441.6 431,444.6 431,447.6 431,450.6 431,453.6 431,456.6 431,459.6 431,462.6 431,465.6 431,468.6 431,471.6 431,474.6 430.9,477.6 430.9,480.6 430.9,483.6 430.9,486.6 430.9,489.6 430.9,492.6 430.9,495.6 430.9,498.6 430.9,501.6 430.9,504.6 430.9,507.6 430.9,510.6 430.9,513.6 430.8,516.6 430.8,519.6 430.8,522.6 430.8,525.6 430.8,528.6 430.8,531.6 430.8,534.6 430.8,537.6 430.9,540.6 431.1,543.6 431.2,545 432.8,545 432.9,543.6 433.1,540.6 433.2,537.6 433.3,534.6 433.3,531.6 433.3,528.6 433.3,525.6 433.4,522.6 433.4,519.6 433.4,516.6 433.5,513.6 433.5,510.6 433.5,507.6 433.5,504.6 433.6,501.6 433.6,498.6 433.6,495.6 433.6,492.6 433.6,489.6 433.7,486.6 433.7,483.6 433.7,480.6 433.7,477.6 433.7,474.6 433.7,471.6 433.8,468.6 433.8,465.6 433.8,462.6 433.8,459.6 433.8,456.6 433.9,453.6 433.9,450.6 433.9,447.6 433.9,444.6 434,441.6 434,438.6 434,435.6 434,432.6 434,429.6 434.1,426.6 434.1,423.6 434.1,420.6 434.1,417.6 434.2,414.6 434.1,411.6 434.1,408.6 434.1,405.6 434,402.6 434,399.6"/>
<polygon fill="#3cf032" points="431.9,399.6 431.8,402.6 431.7,405.6 431.6,408.6 431.5,411.6 431.5,414.6 431.5,417.6 431.4,420.6 431.4,423.6 431.4,426.6 431.4,429.6 431.4,432.6 431.4,435.6 431.4,438.6 431.4,441.6 431.4,444.6 431.4,447.6 431.3,450.6 431.3,453.6 431.3,456.6 431.3,459.6 431.3,462.6 431.3,465.6 431.3,468.6 431.3,471.6 431.3,474.6 431.2,477.6 431.2,480.6 431.2,483.6 431.2,486.6 431.2,489.6 431.2,492.6 431.2,495.6 431.1,498.6 431.1,501.6 431.1,504.6 431.1,507.6 431.1,510.6 431.1,513.6 431.1,516.6 431.1,519.6 431.1,522.6 431.1,525.6 431.1,528.6 431.1,531.6 431.1,534.6 431.1,537.6 431.2,540.6 431.5,543.6 431.8,545 432.2,545 432.5,543.6 432.8,540.6 433,537.6 433,534.6 433,531.6 433.1,528.6 433.1,525.6 433.1,522.6 433.1,519.6 433.2,516.6 433.2,513.6 433.2,510.6 433.2,507.6 433.3,504.6 433.3,501.6 433.3,498.6 433.3,495.6 433.3,492.6 433.4,489.6 433.4,486.6 433.4,483.6 433.4,480.6 433.4,477.6 433.4,474.6 433.4,471.6 433.4,468.6 433.5,465.6 433.5,462.6 433.5,459.6 433.5,456.6 433.5,453.6 433.6,450.6 433.6,447.6 433.6,444.6 433.6,441.6 433.6,438.6 433.7,435.6 433.7,432.6 433.7,429.6 433.7,426.6 433.7,423.6 433.8,420.6 433.8,417.6 433.8,414.6 433.7,411.6 433.7,408.6 433.6,405.6 433.5,402.6 433.5,399.6"/>
<polygon fill="#a5f500" points="432.7,402.6 432.4,405.6 432.2,408.6 432,411.6 431.9,414.6 431.9,417.6 431.9,420.6 431.8,423.6 431.8,426.6 431.8,429.6 431.8,432.6 431.8,435.6 431.8,438.6 431.8,441.6 431.7,444.6 431.7,447.6 431.7,450.6 431.7,453.6 431.7,456.6 431.7,459.6 431.7,462.6 431.6,465.6 431.6,468.6 431.6,471.6 431.6,474.6 431.6,477.6 431.5,480.6 431.5,483.6 431.5,486.6 431.5,489.6 431.5,492.6 431.4,495.6 431.4,498.6 431.4,501.6 431.4,504.6 431.4,507.6 431.4,510.6 431.4,513.6 431.4,516.6 431.4,519.6 431.4,522.6 431.4,525.6 431.4,528.6 431.4,531.6 431.3,534.6 431.3,537.6 431.6,540.6 432,543.6 432,543.6 432.5,540.6 432.7,537.6 432.8,534.6 432.8,531.6 432.8,528.6 432.8,525.6 432.8,522.6 432.9,519.6 432.9,516.6 432.9,513.6 432.9,510.6 433,507.6 433,504.6 433,501.6 433,498.6 433,495.6 433,492.6 433,489.6 433.1,486.6 433.1,483.6 433.1,480.6 433.1,477.6 433.1,474.6 433.1,471.6 433.1,468.6 433.1,465.6 433.1,462.6 433.1,459.6 433.2,456.6 433.2,453.6 433.2,450.6 433.2,447.6 433.2,444.6 433.2,441.6 433.3,438.6 433.3,435.6 433.3,432.6 433.3,429.6 433.3,426.6 433.3,423.6 433.3,420.6 433.4,417.6 433.4,414.6 433.3,411.6 433.1,408.6 432.9,405.6 432.7,402.6"/>
<polygon fill="#e6f000" points="432.5,441.6 432.4,444.6 432.4,447.6 432.3,450.6 432.3,453.6 432.3,456.6 432.2,459.6 432.2,462.6 432.2,465.6 432.1,468.6 432.1,471.6 432.1,474.6 432,477.6 432,480.6 431.9,483.6 431.9,486.6 431.9,489.6 431.8,492.6 431.8,495.6 431.8,498.6 431.7,501.6 431.7,504.6 431.7,507.6 431.7,510.6 431.7,513.6 431.7,516.6 431.7,519.6 431.7,522.6 431.7,525.6 431.7,528.6 431.7,531.6 431.7,534.6 431.7,537.6 432,540.6 432,540.6 432.4,537.6 432.4,534.6 432.5,531.6 432.5,528.6 432.5,525.6 432.5,522.6 432.5,519.6 432.6,516.6 432.6,513.6 432.6,510.6 432.6,507.6 432.7,504.6 432.7,501.6 432.7,498.6 432.7,495.6 432.7,492.6 432.7,489.6 432.7,486.6 432.7,483.6 432.7,480.6 432.6,477.6 432.6,474.6 432.6,471.6 432.6,468.6 432.6,465.6 432.6,462.6 432.6,459.6 432.6,456.6 432.6,453.6 432.6,450.6 432.6,447.6 432.6,444.6 432.5,441.6"/>
<polygon fill="#00ebcd" points="437.6,399.6 437.6,402.6 437.6,405.6 437.6,408.6 437.5,411.6 437.5,414.6 437.5,417.6 437.5,420.6 437.5,423.6 437.5,426.6 437.5,429.6 437.5,432.6 437.5,435.6 437.5,438.6 437.5,441.6 437.5,444.6 437.6,447.6 437.6,450.6 437.6,453.6 437.6,456.6 437.6,459.6 437.6,462.6 437.6,465.6 437.6,468.6 437.6,471.6 437.6,474.6 437.6,477.6 437.6,480.6 437.6,483.6 437.6,486.6 437.6,489.6 437.6,492.6 437.6,495.6 437.7,498.6 437.7,501.6 437.7,504.6 437.7,507.6 437.7,510.6 437.7,513.6 437.7,516.6 437.7,519.6 437.7,522.6 437.8,525.6 437.8,528.6 437.8,531.6 437.9,534.6 437.9,537.6 437.9,540.6 438,543.6 438,545 440,545 440,543.6 440.1,540.6 440.1,537.6 440.2,534.6 440.2,531.6 440.3,528.6 440.3,525.6 440.4,522.6 440.4,519.6 440.4,516.6 440.4,513.6 440.5,510.6 440.5,507.6 440.5,504.6 440.5,501.6 440.5,498.6 440.6,495.6 440.6,492.6 440.6,489.6 440.6,486.6 440.6,483.6 440.6,480.6 440.7,477.6 440.7,474.6 440.7,471.6 440.7,468.6 440.7,465.6 440.8,462.6 440.8,459.6 440.8,456.6 440.8,453.6 440.8,450.6 440.8,447.6 440.9,444.6 440.9,441.6 440.9,438.6 440.9,435.6 440.9,432.6 441,429.6 441,426.6 441,423.6 441,420.6 441,417.6 441,414.6 441,411.6 441,408.6 441,405.6 441,402.6 441,399.6"/>
<polygon fill="#0af08c" points="438.2,399.6 438.2,402.6 438.1,405.6 438.1,408.6 438.1,411.6 438.1,414.6 438,417.6 438,420.6 438,423.6 438,426.6 438,429.6 438,432.6 438,435.6 438,438.6 438,441.6 438,444.6 438,447.6 438,450.6 438,453.6 438,456.6 438,459.6 438,462.6 438,465.6 438.1,468.6 438.1,471.6 438.1,474.6 438.1,477.6 438.1,480.6 438.1,483.6 438.1,486.6 438.1,489.6 438.1,492.6 438.1,495.6 438.1,498.6 438.1,501.6 438.1,504.6 438.1,507.6 438.1,510.6 438.1,513.6 438.1,516.6 438.1,519.6 438.1,522.6 438.2,525.6 438.2,528.6 438.3,531.6 438.3,534.6 438.4,537.6 438.5,540.6 438.5,543.6 438.6,545 439.4,545 439.5,543.6 439.6,540.6 439.6,537.6 439.7,534.6 439.8,531.6 439.8,528.6 439.9,525.6 440,522.6 440,519.6 440,516.6 440,513.6 440.1,510.6 440.1,507.6 440.1,504.6 440.1,501.6 440.1,498.6 440.1,495.6 440.1,492.6 440.2,489.6 440.2,486.6 440.2,483.6 440.2,480.6 440.2,477.6 440.2,474.6 440.2,471.6 440.3,468.6 440.3,465.6 440.3,462.6 440.3,459.6 440.3,456.6 440.3,453.6 440.4,450.6 440.4,447.6 440.4,444.6 440.4,441.6 440.4,438.6 440.4,435.6 440.4,432.6 440.5,429.6 440.5,426.6 440.5,423.6 440.5,420.6 440.5,417.6 440.5,414.6 440.5,411.6 440.4,408.6 440.4,405.6 440.4,402.6 440.4,399.6"/>
<polygon fill="#3cf032" points="438.9,399.6 438.8,402.6 438.8,405.6 438.7,408.6 438.6,411.6 438.6,414.6 438.5,417.6 438.5,420.6 438.5,423.6 438.5,426.6 438.5,429.6 438.5,432.6 438.5,435.6 438.5,438.6 438.5,441.6 438.5,444.6 438.5,447.6 438.5,450.6 438.5,453.6 438.5,456.6 438.5,459.6 438.5,462.6 438.5,465.6 438.5,468.6 438.5,471.6 438.5,474.6 438.5,477.6 438.5,480.6 438.5,483.6 438.5,486.6 438.5,489.6 438.5,492.6 438.5,495.6 438.5,498.6 438.5,501.6 438.5,504.6 438.5,507.6 438.5,510.6 438.5,513.6 438.5,516.6 438.5,519.6 438.5,522.6 438.6,525.6 438.7,528.6 438.9,531.6 439,534.6 439,534.6 439.2,531.6 439.4,528.6 439.5,525.6 439.6,522.6 439.6,519.6 439.6,516.6 439.6,513.6 439.7,510.6 439.7,507.6 439.7,504.6 439.7,501.6 439.7,498.6 439.7,495.6 439.7,492.6 439.7,489.6 439.8,486.6 439.8,483.6 439.8,480.6 439.8,477.6 439.8,474.6 439.8,471.6 439.8,468.6 439.8,465.6 439.9,462.6 439.9,459.6 439.9,456.6 439.9,453.6 439.9,450.6 439.9,447.6 439.9,444.6 439.9,441.6 440,438.6 440,435.6 440,432.6 440,429.6 440,426.6 440,423.6 440,420.6 440,417.6 440,414.6 439.9,411.6 439.9,408.6 439.8,405.6 439.7,402.6 439.7,399.6"/>
<polygon fill="#00ebcd" points="444.1,399.6 444.1,402.6 444.1,405.6 444.1,408.6 444,411.6 444,414.6 444,417.6 444,420.6 444,423.6 444,426.6 444,429.6 444,432.6 444,435.6 444,438.6 444,441.6 444,444.6 444.1,447.6 444.1,450.6 444.1,453.6 444.1,456.6 444.1,459.6 444.1,462.6 444.1,465.6 444.1,468.6 444.1,471.6 444.1,474.6 444.1,477.6 444.1,480.6 444.1,483.6 444.1,486.6 444.1,489.6 444.1,492.6 444.1,495.6 444.2,498.6 444.2,501.6 444.2,504.6 444.2,507.6 444.2,510.6 444.2,513.6 444.2,516.6 444.2,519.6 444.2,522.6 444.3,525.6 444.3,528.6 444.3,531.6 444.4,534.6 444.4,537.6 444.4,540.6 444.5,543.6 444.5,545 446.5,545 446.5,543.6 446.6,540.6 446.6,537.6 446.7,534.6 446.7,531.6 446.8,528.6 446.8,525.6 446.9,522.6 446.9,519.6 446.9,516.6 446.9,513.6 447,510.6 447,507.6 447,504.6 447,501.6 447,498.6 447.1,495.6 447.1,492.6 447.1,489.6 447.1,486.6 447.1,483.6 447.1,480.6 447.2,477.6 447.2,474.6 447.2,471.6 447.2,468.6 447.2,465.6 447.3,462.6 447.3,459.6 447.3,456.6 447.3,453.6 447.3,450.6 447.3,447.6 447.4,444.6 447.4,441.6 447.4,438.6 447.4,435.6 447.4,432.6 447.5,429.6 447.5,426.6 447.5,423.6 447.5,420.6 447.5,417.6 447.5,414.6 447.5,411.6 447.5,408.6 447.5,405.6 447.5,402.6 447.5,399.6"/>
<polygon fill="#0af08c" points="444.7,399.6 444.7,402.6 444.6,405.6 444.6,408.6 444.6,411.6 444.6,414.6 444.5,417.6 444.5,420.6 444.5,423.6 444.5,426.6 444.5,429.6 444.5,432.6 444.5,435.6 444.5,438.6 444.5,441.6 444.5,444.6 444.5,447.6 444.5,450.6 444.5,453.6 444.5,456.6 444.5,459.6 444.5,462.6 444.5,465.6 444.6,468.6 444.6,471.6 444.6,474.6 444.6,477.6 444.6,480.6 444.6,483.6 444.6,486.6 444.6,489.6 444.6,492.6 444.6,495.6 444.6,498.6 444.6,501.6 444.6,504.6 444.6,507.6 444.6,510.6 444.6,513.6 444.6,516.6 444.6,519.6 444.6,522.6 444.7,525.6 444.7,528.6 444.8,531.6 444.8,534.6 444.9,537.6 445,540.6 445,543.6 445.1,545 445.9,545 446,543.6 446.1,540.6 446.1,537.6 446.2,534.6 446.3,531.6 446.3,528.6 446.4,525.6 446.5,522.6 446.5,519.6 446.5,516.6 446.5,513.6 446.6,510.6 446.6,507.6 446.6,504.6 446.6,501.6 446.6,498.6 446.6,495.6 446.6,492.6 446.7,489.6 446.7,486.6 446.7,483.6 446.7,480.6 446.7,477.6 446.7,474.6 446.7,471.6 446.8,468.6 446.8,465.6 446.8,462.6 446.8,459.6 446.8,456.6 446.8,453.6 446.9,450.6 446.9,447.6 446.9,444.6 446.9,441.6 446.9,438.6 446.9,435.6 446.9,432.6 447,429.6 447,426.6 447,423.6 447,420.6 447,417.6 447,414.6 447,411.6 446.9,408.6 446.9,405.6 446.9,402.6 446.9,399.6"/>
<polygon fill="#3cf032" points="445.4,399.6 445.3,402.6 445.3,405.6 445.2,408.6 445.1,411.6 445.1,414.6 445,417.6 445,420.6 445,423.6 445,426.6 445,429.6 445,432.6 445,435.6 445,438.6 445,441.6 445,444.6 445,447.6 445,450.6 445,453.6 445,456.6 445,459.6 445,462.6 445,465.6 445,468.6 445,471.6 445,474.6 445,477.6 445,480.6 445,483.6 445,486.6 445,489.6 445,492.6 445,495.6 445,498.6 445,501.6 445,504.6 445,507.6 445,510.6 445,513.6 445,516.6 445,519.6 445,522.6 445.1,525.6 445.2,528.6 445.4,531.6 445.5,534.6 445.5,534.6 445.7,531.6 445.9,528.6 446,525.6 446.1,522.6 446.1,519.6 446.1,516.6 446.1,513.6 446.2,510.6 446.2,507.6 446.2,504.6 446.2,501.6 446.2,498.6 446.2,495.6 446.2,492.6 446.2,489.6 446.3,486.6 446.3,483.6 446.3,480.6 446.3,477.6 446.3,474.6 446.3,471.6 446.3,468.6 446.3,465.6 446.4,462.6 446.4,459.6 446.4,456.6 446.4,453.6 446.4,450.6 446.4,447.6 446.4,444.6 446.4,441.6 446.5,438.6 446.5,435.6 446.5,432.6 446.5,429.6 446.5,426.6 446.5,423.6 446.5,420.6 446.5,417.6 446.5,414.6 446.4,411.6 446.4,408.6 446.3,405.6 446.2,402.6 446.2,399.6"/>
<polygon fill="#00ebcd" points="450.7,399.6 450.7,402.6 450.7,405.6 450.7,408.6 450.6,411.6 450.6,414.6 450.6,417.6 450.6,420.6 450.6,423.6 450.6,426.6 450.6,429.6 450.6,432.6 450.6,435.6 450.6,438.6 450.6,441.6 450.6,444.6 450.6,447.6 450.6,450.6 450.6,453.6 450.6,456.6 450.6,459.6 450.6,462.6 450.6,465.6 450.6,468.6 450.7,471.6 450.7,474.6 450.7,477.6 450.7,480.6 450.7,483.6 450.7,486.6 450.7,489.6 450.7,492.6 450.7,495.6 450.7,498.6 450.7,501.6 450.7,504.6 450.7,507.6 450.7,510.6 450.7,513.6 450.7,516.6 450.7,519.6 450.7,522.6 450.8,525.6 450.8,528.6 450.8,531.6 450.9,534.6 450.9,537.6 450.9,540.6 451,543.6 451,545 453,545 453,543.6 453.1,540.6 453.1,537.6 453.2,534.6 453.2,531.6 453.3,528.6 453.3,525.6 453.4,522.6 453.4,519.6 453.5,516.6 453.5,513.6 453.5,510.6 453.5,507.6 453.5,504.6 453.6,501.6 453.6,498.6 453.6,495.6 453.6,492.6 453.6,489.6 453.7,486.6 453.7,483.6 453.7,480.6 453.7,477.6 453.7,474.6 453.8,471.6 453.8,468.6 453.8,465.6 453.8,462.6 453.8,459.6 453.9,456.6 453.9,453.6 453.9,450.6 453.9,447.6 453.9,444.6 454,441.6 454,438.6 454,435.6 454,432.6 454,429.6 454.1,426.6 454.1,423.6 454.1,420.6 454.1,417.6 454.1,414.6 454.1,411.6 454.1,408.6 454.1,405.6 454.1,402.6 454.1,399.6"/>
<polygon fill="#0af08c" points="451.3,399.6 451.3,402.6 451.2,405.6 451.2,408.6 451.2,411.6 451.1,414.6 451.1,417.6 451.1,420.6 451.1,423.6 451.1,426.6 451.1,429.6 451.1,432.6 451.1,435.6 451.1,438.6 451.1,441.6 451.1,444.6 451.1,447.6 451.1,450.6 451.1,453.6 451.1,456.6 451.1,459.6 451.1,462.6 451.1,465.6 451.1,468.6 451.1,471.6 451.1,474.6 451.1,477.6 451.1,480.6 451.1,483.6 451.1,486.6 451.1,489.6 451.1,492.6 451.1,495.6 451.1,498.6 451.1,501.6 451.1,504.6 451.1,507.6 451.1,510.6 451.1,513.6 451.1,516.6 451.1,519.6 451.1,522.6 451.2,525.6 451.2,528.6 451.3,531.6 451.3,534.6 451.4,537.6 451.5,540.6 451.5,543.6 451.6,545 452.4,545 452.5,543.6 452.6,540.6 452.7,537.6 452.7,534.6 452.8,531.6 452.9,528.6 452.9,525.6 453,522.6 453,519.6 453,516.6 453.1,513.6 453.1,510.6 453.1,507.6 453.1,504.6 453.1,501.6 453.1,498.6 453.2,495.6 453.2,492.6 453.2,489.6 453.2,486.6 453.2,483.6 453.2,480.6 453.3,477.6 453.3,474.6 453.3,471.6 453.3,468.6 453.3,465.6 453.4,462.6 453.4,459.6 453.4,456.6 453.4,453.6 453.4,450.6 453.4,447.6 453.5,444.6 453.5,441.6 453.5,438.6 453.5,435.6 453.5,432.6 453.5,429.6 453.6,426.6 453.6,423.6 453.6,420.6 453.6,417.6 453.6,414.6 453.6,411.6 453.5,408.6 453.5,405.6 453.5,402.6 453.5,399.6"/>
<polygon fill="#3cf032" points="452,399.6 451.9,402.6 451.9,405.6 451.8,408.6 451.7,411.6 451.7,414.6 451.6,417.6 451.6,420.6 451.6,423.6 451.6,426.6 451.6,429.6 451.6,432.6 451.6,435.6 451.6,438.6 451.6,441.6 451.5,444.6 451.5,447.6 451.5,450.6 451.5,453.6 451.5,456.6 451.5,459.6 451.5,462.6 451.5,465.6 451.5,468.6 451.5,471.6 451.5,474.6 451.5,477.6 451.5,480.6 451.5,483.6 451.5,486.6 451.5,489.6 451.5,492.6 451.5,495.6 451.5,498.6 451.5,501.6 451.5,504.6 451.5,507.6 451.5,510.6 451.5,513.6 451.5,516.6 451.5,519.6 451.6,522.6 451.6,525.6 451.7,528.6 451.9,531.6 452,534.6 452,534.6 452.2,531.6 452.4,528.6 452.5,525.6 452.6,522.6 452.6,519.6 452.7,516.6 452.7,513.6 452.7,510.6 452.7,507.6 452.7,504.6 452.7,501.6 452.7,498.6 452.8,495.6 452.8,492.6 452.8,489.6 452.8,486.6 452.8,483.6 452.8,480.6 452.8,477.6 452.9,474.6 452.9,471.6 452.9,468.6 452.9,465.6 452.9,462.6 452.9,459.6 452.9,456.6 453,453.6 453,450.6 453,447.6 453,444.6 453,441.6 453,438.6 453,435.6 453.1,432.6 453.1,429.6 453.1,426.6 453.1,423.6 453.1,420.6 453.1,417.6 453.1,414.6 453,411.6 453,408.6 452.9,405.6 452.8,402.6 452.8,399.6"/>
</g>
</g>
<g stroke="#262626" stroke-width="1.2" fill="none">
<line x1="46.3" y1="15.6" x2="46.3" y2="135.5"/>
<line x1="42.8" y1="15.6" x2="49.8" y2="15.6"/>
<line x1="46.3" y1="30.15" x2="49.3" y2="30.15"/>
<line x1="42.8" y1="44.7" x2="49.8" y2="44.7"/>
<line x1="46.3" y1="59.25" x2="49.3" y2="59.25"/>
<line x1="42.8" y1="73.8" x2="49.8" y2="73.8"/>
<line x1="46.3" y1="88.35" x2="49.3" y2="88.35"/>
<line x1="42.8" y1="102.9" x2="49.8" y2="102.9"/>
<line x1="46.3" y1="117.45" x2="49.3" y2="117.45"/>
<line x1="42.8" y1="132" x2="49.8" y2="132"/>
</g>
<g stroke="#8c8c8c" stroke-width="1.5" fill="none">
<line x1="42.8" y1="132" x2="248.4" y2="132"/>
<line x1="46.3" y1="129" x2="46.3" y2="135.5"/>
<line x1="71.56" y1="129" x2="71.56" y2="132"/>
<line x1="96.83" y1="129" x2="96.83" y2="135.5"/>
<line x1="122.09" y1="129" x2="122.09" y2="132"/>
<line x1="147.35" y1="129" x2="147.35" y2="135.5"/>
<line x1="172.61" y1="129" x2="172.61" y2="132"/>
<line x1="197.88" y1="129" x2="197.88" y2="135.5"/>
<line x1="223.14" y1="129" x2="223.14" y2="132"/>
<line x1="248.4" y1="129" x2="248.4" y2="135.5"/>
</g>
<line x1="147.35" y1="15.6" x2="147.35" y2="132" stroke="#666" stroke-width="1.1" stroke-dasharray="2.6,1.6"/>
<line x1="47.3" y1="102.5" x2="248.4" y2="102.5" stroke="#222" stroke-width="1" stroke-dasharray="2.5,1.6"/>
<g stroke="#1a1a1a" stroke-width="0.22">
<text x="35.1" y="19.2" font-size="10.5" text-anchor="end" fill="#1a1a1a">0.3</text>
<text x="35.1" y="48.3" font-size="10.5" text-anchor="end" fill="#1a1a1a">0.2</text>
<text x="35.1" y="77.4" font-size="10.5" text-anchor="end" fill="#1a1a1a">0.1</text>
<text x="35.1" y="106.5" font-size="10.5" text-anchor="end" fill="#1a1a1a">0</text>
<text x="35.1" y="135.6" font-size="10.5" text-anchor="end" fill="#1a1a1a">-0.1</text>
<text x="46.3" y="151" font-size="10.5" text-anchor="middle" fill="#1a1a1a">-200</text>
<text x="96.83" y="151" font-size="10.5" text-anchor="middle" fill="#1a1a1a">-100</text>
<text x="147.35" y="151" font-size="10.5" text-anchor="middle" fill="#1a1a1a">0</text>
<text x="197.88" y="151" font-size="10.5" text-anchor="middle" fill="#1a1a1a">100</text>
<text x="248.4" y="151" font-size="10.5" text-anchor="middle" fill="#1a1a1a">200</text>
<text x="147.5" y="166.7" font-size="10.5" text-anchor="middle" textLength="97" lengthAdjust="spacingAndGlyphs" fill="#1a1a1a">NbTi coil current (A)</text>
<text transform="translate(12.8,138.6) rotate(-90)" font-size="10.5" textLength="123.2" lengthAdjust="spacingAndGlyphs" fill="#1a1a1a">Circumferential strain (%)</text>
</g>
<text x="56" y="15.8" font-size="13.5" font-weight="bold" textLength="16" lengthAdjust="spacingAndGlyphs" fill="#000">(a)</text>
<path d="M147.2,93.3 C148.52,91.82 151.8,87.7 155.1,84.4 C158.4,81.1 163.05,77.28 167,73.5 C170.95,69.72 174.13,66.78 178.8,61.7 C183.47,56.62 191.05,47.23 195,43 C198.95,38.77 200,38.42 202.5,36.3 C205,34.18 207.5,32.25 210,30.3 C212.5,28.35 215.08,26.38 217.5,24.6 C219.92,22.82 222.85,20.2 224.5,19.6 C226.15,19 226.75,20.17 227.4,21 C228.05,21.83 228.55,23.18 228.4,24.6 C228.25,26.02 227.43,27.8 226.5,29.5 C225.57,31.2 224.3,32.55 222.8,34.8 C221.3,37.05 219.22,40.13 217.5,43 C215.78,45.87 214.25,48.67 212.5,52 C210.75,55.33 209.25,58.57 207,63 C204.75,67.43 201.73,74.17 199,78.6 C196.27,83.03 193.97,86.52 190.6,89.6 C187.23,92.68 183.02,95.5 178.8,97.1 C174.58,98.7 169.53,99.2 165.3,99.2 C161.07,99.2 156.42,98.08 153.4,97.1 C150.38,96.12 149.27,94.77 147.2,93.3 C145.13,91.83 143.15,90.47 141,88.3 C138.85,86.13 137.1,83.33 134.3,80.3 C131.5,77.27 127.72,73.57 124.2,70.1 C120.68,66.63 117.4,63.68 113.2,59.5 C109,55.32 102.87,48.67 99,45 C95.13,41.33 92.75,39.75 90,37.5 C87.25,35.25 85,33.5 82.5,31.5 C80,29.5 77.05,26.98 75,25.5 C72.95,24.02 71.33,22.98 70.2,22.6 C69.07,22.22 68.43,22.55 68.2,23.2 C67.97,23.85 68.28,25.12 68.8,26.5 C69.32,27.88 70.27,29.67 71.3,31.5 C72.33,33.33 73.63,35.25 75,37.5 C76.37,39.75 77.87,42.2 79.5,45 C81.13,47.8 82.88,51.05 84.8,54.3 C86.72,57.55 88.67,60.73 91,64.5 C93.33,68.27 96.37,73.32 98.8,76.9 C101.23,80.48 103.33,83.47 105.6,86 C107.87,88.53 109.58,90.38 112.4,92.1 C115.22,93.82 119.13,95.27 122.5,96.3 C125.87,97.33 129.52,98.18 132.6,98.3 C135.68,98.42 138.57,97.83 141,97 C143.43,96.17 146.17,93.92 147.2,93.3" fill="none" stroke="#ff1a1a" stroke-width="1.1" stroke-linejoin="round"/>
<path d="M147.2,86.2 C149.65,84.58 156.63,80.53 161.9,76.5 C167.17,72.47 173.28,66.78 178.8,62 C184.32,57.22 190.42,51.08 195,47.8 C199.58,44.52 203.05,43.78 206.3,42.3 C209.55,40.82 211.82,40.12 214.5,38.9 C217.18,37.68 220.77,35.4 222.4,35 C224.03,34.6 224.28,35.5 224.3,36.5 C224.32,37.5 223.63,38.42 222.5,41 C221.37,43.58 219.58,48.17 217.5,52 C215.42,55.83 212.8,60.17 210,64 C207.2,67.83 203.93,71.45 200.7,75 C197.47,78.55 194.25,82.78 190.6,85.3 C186.95,87.82 183.07,89.35 178.8,90.1 C174.53,90.85 168.67,90.03 165,89.8 C161.33,89.57 159.77,89.3 156.8,88.7 C153.83,88.1 150.38,87.4 147.2,86.2 C144.02,85 140.98,83.62 137.7,81.5 C134.42,79.38 131.17,76.75 127.5,73.5 C123.83,70.25 118.78,65.08 115.7,62 C112.62,58.92 111.9,57.45 109,55 C106.1,52.55 101.47,49.28 98.3,47.3 C95.13,45.32 92.63,44.23 90,43.1 C87.37,41.97 85,41.55 82.5,40.5 C80,39.45 77,37.75 75,36.8 C73,35.85 71.53,34.93 70.5,34.8 C69.47,34.67 68.8,34.67 68.8,36 C68.8,37.33 69.65,40.47 70.5,42.8 C71.35,45.13 72.27,47.13 73.9,50 C75.53,52.87 77.55,56.22 80.3,60 C83.05,63.78 87.35,68.9 90.4,72.7 C93.45,76.5 95.73,80.08 98.6,82.8 C101.47,85.52 104.2,87.8 107.6,89 C111,90.2 113.7,89.83 119,90 C124.3,90.17 134.7,90.63 139.4,90 C144.1,89.37 145.9,86.83 147.2,86.2" fill="none" stroke="#f00000" stroke-width="2.1" stroke-dasharray="9,2.8,1.6,2.8" stroke-linejoin="round"/>
<line x1="114" y1="52.2" x2="106.75" y2="44.42" stroke="#ff1a1a" stroke-width="1.2"/>
<polygon points="103,40.4 109.48,43.25 105.38,47.06" fill="#ff1a1a"/>
<line x1="79.4" y1="68.4" x2="88.46" y2="78.68" stroke="#ff1a1a" stroke-width="1.2"/>
<polygon points="92.1,82.8 85.7,79.78 89.9,76.07" fill="#ff1a1a"/>
<line x1="177.1" y1="49.7" x2="186.34" y2="42.17" stroke="#ff1a1a" stroke-width="1.2"/>
<polygon points="190.6,38.7 187.33,44.98 183.79,40.64" fill="#ff1a1a"/>
<line x1="215.9" y1="65" x2="207.17" y2="73.8" stroke="#ff1a1a" stroke-width="1.2"/>
<polygon points="203.3,77.7 205.89,71.11 209.87,75.06" fill="#ff1a1a"/>
<g stroke="#8c8c8c" stroke-width="1.5" fill="none">
<line x1="315.5" y1="12.3" x2="315.5" y2="132.8"/>
<line x1="312" y1="12.3" x2="319" y2="12.3"/>
<line x1="315.5" y1="26.93" x2="318.5" y2="26.93"/>
<line x1="312" y1="41.55" x2="319" y2="41.55"/>
<line x1="315.5" y1="56.18" x2="318.5" y2="56.18"/>
<line x1="312" y1="70.8" x2="319" y2="70.8"/>
<line x1="315.5" y1="85.43" x2="318.5" y2="85.43"/>
<line x1="312" y1="100.05" x2="319" y2="100.05"/>
<line x1="315.5" y1="114.68" x2="318.5" y2="114.68"/>
<line x1="312" y1="129.3" x2="319" y2="129.3"/>
</g>
<g stroke="#262626" stroke-width="1.2" fill="none">
<line x1="312" y1="129.3" x2="518" y2="129.3"/>
<line x1="315.5" y1="126.3" x2="315.5" y2="132.8"/>
<line x1="340.81" y1="126.3" x2="340.81" y2="129.3"/>
<line x1="366.12" y1="126.3" x2="366.12" y2="132.8"/>
<line x1="391.44" y1="126.3" x2="391.44" y2="129.3"/>
<line x1="416.75" y1="126.3" x2="416.75" y2="132.8"/>
<line x1="442.06" y1="126.3" x2="442.06" y2="129.3"/>
<line x1="467.38" y1="126.3" x2="467.38" y2="132.8"/>
<line x1="492.69" y1="126.3" x2="492.69" y2="129.3"/>
<line x1="518" y1="126.3" x2="518" y2="132.8"/>
</g>
<line x1="416.75" y1="12.3" x2="416.75" y2="129.3" stroke="#999" stroke-width="1.1" stroke-dasharray="2.6,1.6"/>
<line x1="316.5" y1="99.5" x2="518" y2="99.5" stroke="#222" stroke-width="1" stroke-dasharray="2.5,1.6"/>
<g stroke="#1a1a1a" stroke-width="0.22">
<text x="304.3" y="15.9" font-size="10.5" text-anchor="end" fill="#1a1a1a">0.3</text>
<text x="304.3" y="45.15" font-size="10.5" text-anchor="end" fill="#1a1a1a">0.2</text>
<text x="304.3" y="74.4" font-size="10.5" text-anchor="end" fill="#1a1a1a">0.1</text>
<text x="304.3" y="103.65" font-size="10.5" text-anchor="end" fill="#1a1a1a">0</text>
<text x="304.3" y="132.9" font-size="10.5" text-anchor="end" fill="#1a1a1a">-0.1</text>
<text x="315.5" y="148.8" font-size="10.5" text-anchor="middle" fill="#1a1a1a">-200</text>
<text x="366.12" y="148.8" font-size="10.5" text-anchor="middle" fill="#1a1a1a">-100</text>
<text x="416.75" y="148.8" font-size="10.5" text-anchor="middle" fill="#1a1a1a">0</text>
<text x="467.38" y="148.8" font-size="10.5" text-anchor="middle" fill="#1a1a1a">100</text>
<text x="518" y="148.8" font-size="10.5" text-anchor="middle" fill="#1a1a1a">200</text>
<text x="417.5" y="163.9" font-size="10.5" text-anchor="middle" textLength="97" lengthAdjust="spacingAndGlyphs" fill="#1a1a1a">NbTi coil current (A)</text>
<text transform="translate(282.3,135.2) rotate(-90)" font-size="10.5" textLength="122" lengthAdjust="spacingAndGlyphs" fill="#1a1a1a">Circumferential strain (%)</text>
</g>
<text x="324.5" y="15.2" font-size="13.5" font-weight="bold" textLength="16" lengthAdjust="spacingAndGlyphs" fill="#000">(b)</text>
<path d="M416.8,90.8 C418.95,90.6 425.83,90.1 429.7,89.6 C433.57,89.1 436.4,88.43 440,87.8 C443.6,87.17 447.55,86.52 451.3,85.8 C455.05,85.08 458.75,84.37 462.5,83.5 C466.25,82.63 470.05,81.55 473.8,80.6 C477.55,79.65 481.35,78.52 485,77.8 C488.65,77.08 496.07,75.88 495.7,76.3 C495.33,76.72 486.45,78.98 482.8,80.3 C479.15,81.62 477.18,83.08 473.8,84.2 C470.42,85.32 466.25,86.25 462.5,87 C458.75,87.75 455.05,88.23 451.3,88.7 C447.55,89.17 443.6,89.48 440,89.8 C436.4,90.12 433.57,90.43 429.7,90.6 C425.83,90.77 420.92,91.07 416.8,90.8 C412.68,90.53 408.83,89.47 405,89 C401.17,88.53 396.92,88.8 393.8,88 C390.68,87.2 389.43,85.03 386.3,84.2 C383.17,83.37 379.7,83.67 375,83 C370.3,82.33 362.47,80.93 358.1,80.2 C353.73,79.47 352.15,79.18 348.8,78.6 C345.45,78.02 338,76.5 338,76.7 C338,76.9 345.75,78.88 348.8,79.8 C351.85,80.72 353.18,81.3 356.3,82.2 C359.42,83.1 364.38,84.37 367.5,85.2 C370.62,86.03 370.62,86.52 375,87.2 C379.38,87.88 388.8,88.78 393.8,89.3 C398.8,89.82 401.17,90.05 405,90.3 C408.83,90.55 414.83,90.72 416.8,90.8" fill="none" stroke="#1a1aff" stroke-width="1.1" stroke-linejoin="round"/>
<path d="M416.8,85.6 C418.95,85.2 425.37,84.13 429.7,83.2 C434.03,82.27 438.27,81.05 442.8,80 C447.33,78.95 452.67,77.77 456.9,76.9 C461.13,76.03 464.45,75.25 468.2,74.8 C471.95,74.35 476.03,74.5 479.4,74.2 C482.77,73.9 485.87,73.55 488.4,73 C490.93,72.45 493.67,70.97 494.6,70.9 C495.53,70.83 495.03,71.78 494,72.6 C492.97,73.42 490.27,74.9 488.4,75.8 C486.53,76.7 485.23,77.33 482.8,78 C480.37,78.67 477.18,79.2 473.8,79.8 C470.42,80.4 466.25,81.23 462.5,81.6 C458.75,81.97 455.05,81.85 451.3,82 C447.55,82.15 443.6,82.17 440,82.5 C436.4,82.83 433.57,83.48 429.7,84 C425.83,84.52 420.6,85.45 416.8,85.6 C413,85.75 409.95,85.42 406.9,84.9 C403.85,84.38 401.47,83.37 398.5,82.5 C395.53,81.63 392.08,80.55 389.1,79.7 C386.12,78.85 382.95,77.95 380.6,77.4 C378.25,76.85 377.97,76.8 375,76.4 C372.03,76 367.17,75.47 362.8,75 C358.43,74.53 352.55,74.17 348.8,73.6 C345.05,73.03 342,71.7 340.3,71.6 C338.6,71.5 337.18,72.05 338.6,73 C340.02,73.95 345.85,75.93 348.8,77.3 C351.75,78.67 352.87,80.22 356.3,81.2 C359.73,82.18 365.5,82.9 369.4,83.2 C373.3,83.5 375.32,83 379.7,83 C384.08,83 391.32,82.98 395.7,83.2 C400.08,83.42 402.48,83.9 406,84.3 C409.52,84.7 415,85.38 416.8,85.6" fill="none" stroke="#0000f0" stroke-width="2.1" stroke-dasharray="9,2.8,1.6,2.8" stroke-linejoin="round"/>
<line x1="379.7" y1="71.3" x2="370.99" y2="69.51" stroke="#1a1aff" stroke-width="1.2"/>
<polygon points="365.6,68.4 372.53,66.97 371.4,72.45" fill="#1a1aff"/>
<line x1="354.9" y1="88" x2="367.77" y2="90.11" stroke="#1a1aff" stroke-width="1.2"/>
<polygon points="373.2,91 366.33,92.71 367.24,87.19" fill="#1a1aff"/>
<line x1="445.6" y1="73.5" x2="455.43" y2="71.3" stroke="#1a1aff" stroke-width="1.2"/>
<polygon points="460.8,70.1 455.07,74.25 453.85,68.79" fill="#1a1aff"/>
<line x1="460.8" y1="92.1" x2="450.55" y2="93.54" stroke="#1a1aff" stroke-width="1.2"/>
<polygon points="445.1,94.3 451.15,90.63 451.93,96.17" fill="#1a1aff"/>
<g stroke="#5a5a5a" stroke-width="1.4" fill="none">
<line x1="184.2" y1="186.3" x2="184.2" y2="308.9"/>
<line x1="180.7" y1="186.3" x2="187.7" y2="186.3"/>
<line x1="184.2" y1="201.19" x2="187.2" y2="201.19"/>
<line x1="180.7" y1="216.08" x2="187.7" y2="216.08"/>
<line x1="184.2" y1="230.96" x2="187.2" y2="230.96"/>
<line x1="180.7" y1="245.85" x2="187.7" y2="245.85"/>
<line x1="184.2" y1="260.74" x2="187.2" y2="260.74"/>
<line x1="180.7" y1="275.62" x2="187.7" y2="275.62"/>
<line x1="184.2" y1="290.51" x2="187.2" y2="290.51"/>
<line x1="180.7" y1="305.4" x2="187.7" y2="305.4"/>
</g>
<g stroke="#3a3a3a" stroke-width="1.2" fill="none">
<line x1="180.7" y1="305.4" x2="387.3" y2="305.4"/>
<line x1="184.2" y1="302.4" x2="184.2" y2="308.9"/>
<line x1="209.59" y1="302.4" x2="209.59" y2="305.4"/>
<line x1="234.97" y1="302.4" x2="234.97" y2="308.9"/>
<line x1="260.36" y1="302.4" x2="260.36" y2="305.4"/>
<line x1="285.75" y1="302.4" x2="285.75" y2="308.9"/>
<line x1="311.14" y1="302.4" x2="311.14" y2="305.4"/>
<line x1="336.52" y1="302.4" x2="336.52" y2="308.9"/>
<line x1="361.91" y1="302.4" x2="361.91" y2="305.4"/>
<line x1="387.3" y1="302.4" x2="387.3" y2="308.9"/>
</g>
<line x1="285.75" y1="186.3" x2="285.75" y2="305.4" stroke="#333" stroke-width="1.1" stroke-dasharray="2.6,1.6"/>
<line x1="185.2" y1="275.5" x2="387.3" y2="275.5" stroke="#444" stroke-width="1" stroke-dasharray="2.5,1.6"/>
<g stroke="#1a1a1a" stroke-width="0.22">
<text x="173" y="189.9" font-size="10.5" text-anchor="end" fill="#1a1a1a">0.3</text>
<text x="173" y="219.68" font-size="10.5" text-anchor="end" fill="#1a1a1a">0.2</text>
<text x="173" y="249.45" font-size="10.5" text-anchor="end" fill="#1a1a1a">0.1</text>
<text x="173" y="279.23" font-size="10.5" text-anchor="end" fill="#1a1a1a">0</text>
<text x="173" y="309" font-size="10.5" text-anchor="end" fill="#1a1a1a">-0.1</text>
<text x="184.2" y="324.8" font-size="10.5" text-anchor="middle" fill="#1a1a1a">-200</text>
<text x="234.97" y="324.8" font-size="10.5" text-anchor="middle" fill="#1a1a1a">-100</text>
<text x="285.75" y="324.8" font-size="10.5" text-anchor="middle" fill="#1a1a1a">0</text>
<text x="336.52" y="324.8" font-size="10.5" text-anchor="middle" fill="#1a1a1a">100</text>
<text x="387.3" y="324.8" font-size="10.5" text-anchor="middle" fill="#1a1a1a">200</text>
<text x="286.2" y="340.9" font-size="10.5" text-anchor="middle" textLength="97" lengthAdjust="spacingAndGlyphs" fill="#1a1a1a">NbTi coil current (A)</text>
<text transform="translate(150.3,311.3) rotate(-90)" font-size="10.5" textLength="122.5" lengthAdjust="spacingAndGlyphs" fill="#1a1a1a">Circumferential strain (%)</text>
</g>
<text x="195.6" y="190.4" font-size="13.5" font-weight="bold" textLength="16" lengthAdjust="spacingAndGlyphs" fill="#000">(c)</text>
<path d="M285.6,272.5 C284.85,272.43 283.27,271.6 281.1,272.1 C278.93,272.6 276.27,273.82 272.6,275.5 C268.93,277.18 263.7,280.43 259.1,282.2 C254.5,283.97 251,284.9 245,286.1 C239,287.3 229.08,288.57 223.1,289.4 C217.12,290.23 211.83,290.95 209.1,291.1 C206.37,291.25 206.38,291.05 206.7,290.3 C207.02,289.55 209.52,288.15 211,286.6 C212.48,285.05 214.2,282.72 215.6,281 C217,279.28 218.15,277.87 219.4,276.3 C220.65,274.73 221.85,272.7 223.1,271.6 C224.35,270.5 225.02,270.1 226.9,269.7 C228.78,269.3 230.43,269.42 234.4,269.2 C238.37,268.98 245.73,268.33 250.7,268.4 C255.67,268.47 259.98,268.85 264.2,269.6 C268.42,270.35 272.43,272.42 276,272.9 C279.57,273.38 282.12,272.5 285.6,272.5 C289.08,272.5 293.62,273.38 296.9,272.9 C300.18,272.42 301.92,270.35 305.3,269.6 C308.68,268.85 312.13,268.32 317.2,268.4 C322.27,268.48 330.63,269.73 335.7,270.1 C340.77,270.47 344.5,269.57 347.6,270.6 C350.7,271.63 351.48,273.23 354.3,276.3 C357.12,279.37 364.22,286.85 364.5,289 C364.78,291.15 360.23,289.62 356,289.2 C351.77,288.78 344.73,287.67 339.1,286.5 C333.47,285.33 327.83,283.75 322.2,282.2 C316.57,280.65 309.52,278.6 305.3,277.2 C301.08,275.8 300.18,274.58 296.9,273.8 C293.62,273.02 287.48,272.72 285.6,272.5" fill="none" stroke="#3aa23a" stroke-width="1.1" stroke-linejoin="round"/>
<path d="M285.6,265.3 C284.57,264.88 282.4,264.2 279.4,262.8 C276.4,261.4 271.55,258.3 267.6,256.9 C263.65,255.5 259.93,254.12 255.7,254.4 C251.47,254.68 246.42,256.78 242.2,258.6 C237.98,260.42 234.05,263.18 230.4,265.3 C226.75,267.42 223.78,269.62 220.3,271.3 C216.82,272.98 209.5,274.53 209.5,275.4 C209.5,276.27 217.25,276.52 220.3,276.5 C223.35,276.48 224.15,275.9 227.8,275.3 C231.45,274.7 236.98,273.72 242.2,272.9 C247.42,272.08 253.47,271.23 259.1,270.4 C264.73,269.57 271.58,268.75 276,267.9 C280.42,267.05 282.12,266.85 285.6,265.3 C289.08,263.75 292.2,260.78 296.9,258.6 C301.6,256.42 309.02,252.63 313.8,252.2 C318.58,251.77 321.95,253.82 325.6,256 C329.25,258.18 332.03,262.48 335.7,265.3 C339.37,268.12 343.55,271.2 347.6,272.9 C351.65,274.6 360,275.25 360,275.5 C360,275.75 351.08,274.68 347.6,274.4 C344.12,274.12 343.33,274.18 339.1,273.8 C334.87,273.42 327.83,272.8 322.2,272.1 C316.57,271.4 311.4,270.73 305.3,269.6 C299.2,268.47 288.88,266.02 285.6,265.3" fill="none" stroke="#14aa14" stroke-width="2.1" stroke-dasharray="9,2.8,1.6,2.8" stroke-linejoin="round"/>
<line x1="213.8" y1="266.9" x2="224.14" y2="262.47" stroke="#3aa23a" stroke-width="1.2"/>
<polygon points="229.2,260.3 224.33,265.43 222.12,260.29" fill="#3aa23a"/>
<line x1="249.8" y1="281.6" x2="239.85" y2="282.89" stroke="#3aa23a" stroke-width="1.2"/>
<polygon points="234.4,283.6 240.49,279.99 241.21,285.54" fill="#3aa23a"/>
<line x1="356.9" y1="266.2" x2="346.62" y2="261.06" stroke="#3aa23a" stroke-width="1.2"/>
<polygon points="341.7,258.6 348.77,259 346.26,264.01" fill="#3aa23a"/>
<line x1="318" y1="278" x2="331.19" y2="280.41" stroke="#3aa23a" stroke-width="1.2"/>
<polygon points="336.6,281.4 329.7,282.99 330.71,277.48" fill="#3aa23a"/>
<polygon points="59.2,453.4 68.4,453.4 68.4,448.1 77.9,458.6 68.4,469.3 68.4,464 59.2,464" fill="#a3a3a3" stroke="#5a5a5a" stroke-width="0.9" stroke-linejoin="miter"/>
<polygon points="123.1,453.4 132.4,453.4 132.4,448.1 141.9,458.4 132.4,469.1 132.4,463.9 123.1,463.9" fill="#a3a3a3" stroke="#5a5a5a" stroke-width="0.9" stroke-linejoin="miter"/>
<polygon points="187.2,453.4 196.6,453.4 196.6,447.9 205.8,458.4 196.6,469.1 196.6,463.7 187.2,463.7" fill="#a3a3a3" stroke="#5a5a5a" stroke-width="0.9" stroke-linejoin="miter"/>
<polygon points="259.1,454.7 268.5,454.7 268.5,449.4 277.7,459.9 268.5,470.4 268.5,465 259.1,465" fill="#a3a3a3" stroke="#5a5a5a" stroke-width="0.9" stroke-linejoin="miter"/>
<polygon points="329.2,454.7 338.4,454.7 338.4,449.2 348,459.9 338.4,470.6 338.4,465.2 329.2,465.2" fill="#a3a3a3" stroke="#5a5a5a" stroke-width="0.9" stroke-linejoin="miter"/>
<polygon points="393.1,454.7 402.4,454.7 402.4,449 412,459.9 402.4,470.8 402.4,465 393.1,465" fill="#a3a3a3" stroke="#5a5a5a" stroke-width="0.9" stroke-linejoin="miter"/>
<text x="8" y="388.8" font-size="13.8" font-weight="bold" textLength="17.5" lengthAdjust="spacingAndGlyphs" fill="#000">(d)</text>
<text x="29" y="560.3" font-size="10.5" font-weight="bold" textLength="15.3" lengthAdjust="spacingAndGlyphs" fill="#000">0 A</text>
<text x="87.1" y="560.3" font-size="10.5" font-weight="bold" textLength="21.2" lengthAdjust="spacingAndGlyphs" fill="#000">50 A</text>
<text x="146.2" y="560.3" font-size="10.5" font-weight="bold" textLength="27.7" lengthAdjust="spacingAndGlyphs" fill="#000">100 A</text>
<text x="216.7" y="560.3" font-size="10.5" font-weight="bold" textLength="27" lengthAdjust="spacingAndGlyphs" fill="#000">156 A</text>
<text x="288.8" y="560.3" font-size="10.5" font-weight="bold" textLength="28.1" lengthAdjust="spacingAndGlyphs" fill="#000">100 A</text>
<text x="361.2" y="560.3" font-size="10.5" font-weight="bold" textLength="21.4" lengthAdjust="spacingAndGlyphs" fill="#000">50 A</text>
<text x="429.5" y="560.3" font-size="10.5" font-weight="bold" textLength="15.7" lengthAdjust="spacingAndGlyphs" fill="#000">0 A</text>
<text x="53.8" y="578.1" font-size="10" font-weight="bold" textLength="90.2" lengthAdjust="spacingAndGlyphs" fill="#000">Current increases</text>
<text x="322.4" y="577.6" font-size="10" font-weight="bold" textLength="93" lengthAdjust="spacingAndGlyphs" fill="#000">Current decreases</text>
<rect x="476.5" y="393.2" width="27.5" height="8.64" fill="#ff0000"/>
<rect x="476.5" y="401.54" width="27.5" height="8.64" fill="#ff6e00"/>
<rect x="476.5" y="409.88" width="27.5" height="8.64" fill="#ffa000"/>
<rect x="476.5" y="418.22" width="27.5" height="8.64" fill="#ffc800"/>
<rect x="476.5" y="426.56" width="27.5" height="8.64" fill="#ffe100"/>
<rect x="476.5" y="434.9" width="27.5" height="8.64" fill="#f0ff00"/>
<rect x="476.5" y="443.24" width="27.5" height="8.64" fill="#d2ff00"/>
<rect x="476.5" y="451.58" width="27.5" height="8.64" fill="#b4ff00"/>
<rect x="476.5" y="459.92" width="27.5" height="8.64" fill="#82ff00"/>
<rect x="476.5" y="468.26" width="27.5" height="8.64" fill="#3cff00"/>
<rect x="476.5" y="476.6" width="27.5" height="8.64" fill="#00ff46"/>
<rect x="476.5" y="484.94" width="27.5" height="8.64" fill="#00ffa0"/>
<rect x="476.5" y="493.28" width="27.5" height="8.64" fill="#00f5c8"/>
<rect x="476.5" y="501.62" width="27.5" height="8.64" fill="#00f5e1"/>
<rect x="476.5" y="509.96" width="27.5" height="8.64" fill="#00ffff"/>
<rect x="476.5" y="518.3" width="27.5" height="8.64" fill="#00e6ff"/>
<rect x="476.5" y="526.64" width="27.5" height="8.64" fill="#00d2ff"/>
<rect x="476.5" y="534.98" width="27.5" height="8.64" fill="#00b4ff"/>
<rect x="476.5" y="543.32" width="27.5" height="8.64" fill="#0078ff"/>
<rect x="476.5" y="551.66" width="27.5" height="8.64" fill="#0000f0"/>
<text x="505.1" y="395.6" font-size="9.8" font-style="italic" textLength="17.3" lengthAdjust="spacingAndGlyphs" fill="#111" stroke="#111" stroke-width="0.3">720.</text>
<text x="505.1" y="403.94" font-size="9.8" font-style="italic" textLength="17.3" lengthAdjust="spacingAndGlyphs" fill="#111" stroke="#111" stroke-width="0.3">675.</text>
<text x="505.1" y="412.28" font-size="9.8" font-style="italic" textLength="17.3" lengthAdjust="spacingAndGlyphs" fill="#111" stroke="#111" stroke-width="0.3">630.</text>
<text x="505.1" y="420.62" font-size="9.8" font-style="italic" textLength="17.3" lengthAdjust="spacingAndGlyphs" fill="#111" stroke="#111" stroke-width="0.3">585.</text>
<text x="505.1" y="428.96" font-size="9.8" font-style="italic" textLength="17.3" lengthAdjust="spacingAndGlyphs" fill="#111" stroke="#111" stroke-width="0.3">540.</text>
<text x="505.1" y="437.3" font-size="9.8" font-style="italic" textLength="17.3" lengthAdjust="spacingAndGlyphs" fill="#111" stroke="#111" stroke-width="0.3">495.</text>
<text x="505.1" y="445.64" font-size="9.8" font-style="italic" textLength="17.3" lengthAdjust="spacingAndGlyphs" fill="#111" stroke="#111" stroke-width="0.3">450.</text>
<text x="505.1" y="453.98" font-size="9.8" font-style="italic" textLength="17.3" lengthAdjust="spacingAndGlyphs" fill="#111" stroke="#111" stroke-width="0.3">405.</text>
<text x="505.1" y="462.32" font-size="9.8" font-style="italic" textLength="17.3" lengthAdjust="spacingAndGlyphs" fill="#111" stroke="#111" stroke-width="0.3">360.</text>
<text x="505.1" y="470.66" font-size="9.8" font-style="italic" textLength="17.3" lengthAdjust="spacingAndGlyphs" fill="#111" stroke="#111" stroke-width="0.3">315.</text>
<text x="505.1" y="479" font-size="9.8" font-style="italic" textLength="17.3" lengthAdjust="spacingAndGlyphs" fill="#111" stroke="#111" stroke-width="0.3">270.</text>
<text x="505.1" y="487.34" font-size="9.8" font-style="italic" textLength="17.3" lengthAdjust="spacingAndGlyphs" fill="#111" stroke="#111" stroke-width="0.3">225.</text>
<text x="505.1" y="495.68" font-size="9.8" font-style="italic" textLength="17.3" lengthAdjust="spacingAndGlyphs" fill="#111" stroke="#111" stroke-width="0.3">180.</text>
<text x="505.1" y="504.02" font-size="9.8" font-style="italic" textLength="17.3" lengthAdjust="spacingAndGlyphs" fill="#111" stroke="#111" stroke-width="0.3">135.</text>
<text x="505.1" y="512.36" font-size="9.8" font-style="italic" textLength="17.3" lengthAdjust="spacingAndGlyphs" fill="#111" stroke="#111" stroke-width="0.3">90.0</text>
<text x="505.1" y="520.7" font-size="9.8" font-style="italic" textLength="17.3" lengthAdjust="spacingAndGlyphs" fill="#111" stroke="#111" stroke-width="0.3">45.0</text>
<text x="505.1" y="529.04" font-size="9.8" font-style="italic" textLength="17.3" lengthAdjust="spacingAndGlyphs" fill="#111" stroke="#111" stroke-width="0.3">0.00</text>
<text x="505.1" y="537.38" font-size="9.8" font-style="italic" textLength="21" lengthAdjust="spacingAndGlyphs" fill="#111" stroke="#111" stroke-width="0.3">-45.0</text>
<text x="505.1" y="545.72" font-size="9.8" font-style="italic" textLength="21" lengthAdjust="spacingAndGlyphs" fill="#111" stroke="#111" stroke-width="0.3">-90.0</text>
<text x="505.1" y="554.06" font-size="9.8" font-style="italic" textLength="20" lengthAdjust="spacingAndGlyphs" fill="#111" stroke="#111" stroke-width="0.3">-135.</text>
<text x="505.1" y="562.4" font-size="9.8" font-style="italic" textLength="20" lengthAdjust="spacingAndGlyphs" fill="#111" stroke="#111" stroke-width="0.3">-180.</text>
<text x="488.1" y="377.9" font-size="10" font-weight="bold" textLength="21.3" lengthAdjust="spacingAndGlyphs" fill="#000">MPa</text>
</svg></body></html>
